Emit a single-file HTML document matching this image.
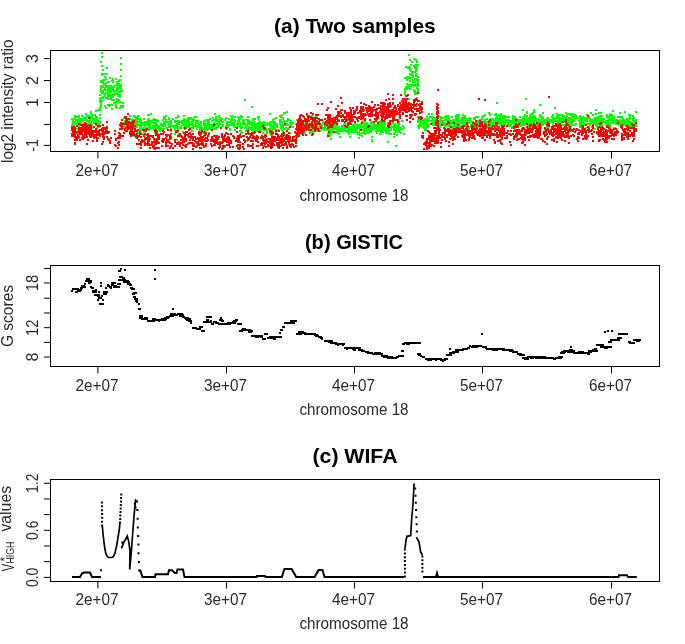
<!DOCTYPE html>
<html><head><meta charset="utf-8"><style>html,body{margin:0;padding:0;background:#fff;overflow:hidden}svg{display:block}</style></head>
<body><svg width="685" height="644" viewBox="0 0 685 644"><rect width="685" height="644" fill="#fff"/><path fill="#00ff00" d="M72 119h2v2h-2zM71 128h2v2h-2zM71 118h2v2h-2zM71 124h2v2h-2zM71 124h2v2h-2zM72 119h2v2h-2zM73 122h2v2h-2zM73 125h2v2h-2zM72 122h2v2h-2zM72 126h2v2h-2zM72 121h2v2h-2zM73 124h2v2h-2zM74 129h2v2h-2zM73 126h2v2h-2zM74 115h2v2h-2zM74 121h2v2h-2zM74 118h2v2h-2zM74 116h2v2h-2zM75 119h2v2h-2zM76 124h2v2h-2zM76 125h2v2h-2zM76 123h2v2h-2zM75 122h2v2h-2zM77 119h2v2h-2zM76 119h2v2h-2zM76 125h2v2h-2zM76 116h2v2h-2zM77 125h2v2h-2zM76 128h2v2h-2zM77 121h2v2h-2zM78 123h2v2h-2zM78 115h2v2h-2zM78 123h2v2h-2zM78 120h2v2h-2zM78 120h2v2h-2zM78 117h2v2h-2zM78 125h2v2h-2zM79 124h2v2h-2zM79 123h2v2h-2zM78 126h2v2h-2zM79 123h2v2h-2zM78 121h2v2h-2zM79 127h2v2h-2zM79 120h2v2h-2zM78 127h2v2h-2zM79 120h2v2h-2zM78 123h2v2h-2zM79 130h2v2h-2zM79 119h2v2h-2zM80 123h2v2h-2zM79 119h2v2h-2zM80 124h2v2h-2zM79 121h2v2h-2zM80 120h2v2h-2zM79 118h2v2h-2zM80 121h2v2h-2zM81 115h2v2h-2zM81 119h2v2h-2zM81 125h2v2h-2zM82 123h2v2h-2zM81 118h2v2h-2zM81 118h2v2h-2zM82 120h2v2h-2zM83 117h2v2h-2zM84 125h2v2h-2zM84 119h2v2h-2zM85 123h2v2h-2zM85 117h2v2h-2zM85 113h2v2h-2zM85 117h2v2h-2zM86 115h2v2h-2zM86 119h2v2h-2zM86 123h2v2h-2zM86 126h2v2h-2zM86 120h2v2h-2zM87 122h2v2h-2zM87 120h2v2h-2zM88 121h2v2h-2zM88 122h2v2h-2zM88 122h2v2h-2zM87 121h2v2h-2zM88 115h2v2h-2zM88 124h2v2h-2zM88 124h2v2h-2zM87 120h2v2h-2zM87 120h2v2h-2zM88 121h2v2h-2zM88 122h2v2h-2zM88 122h2v2h-2zM88 127h2v2h-2zM88 115h2v2h-2zM88 123h2v2h-2zM89 117h2v2h-2zM88 120h2v2h-2zM88 122h2v2h-2zM90 127h2v2h-2zM89 124h2v2h-2zM89 126h2v2h-2zM90 116h2v2h-2zM89 116h2v2h-2zM89 122h2v2h-2zM89 122h2v2h-2zM90 122h2v2h-2zM89 119h2v2h-2zM90 113h2v2h-2zM90 111h2v2h-2zM91 127h2v2h-2zM90 126h2v2h-2zM90 116h2v2h-2zM91 114h2v2h-2zM91 120h2v2h-2zM91 124h2v2h-2zM91 116h2v2h-2zM92 118h2v2h-2zM91 117h2v2h-2zM93 118h2v2h-2zM93 122h2v2h-2zM94 114h2v2h-2zM94 119h2v2h-2zM93 121h2v2h-2zM94 114h2v2h-2zM95 110h2v2h-2zM95 116h2v2h-2zM94 120h2v2h-2zM95 121h2v2h-2zM95 117h2v2h-2zM96 117h2v2h-2zM96 119h2v2h-2zM95 119h2v2h-2zM96 120h2v2h-2zM95 124h2v2h-2zM96 123h2v2h-2zM96 116h2v2h-2zM96 127h2v2h-2zM96 120h2v2h-2zM96 116h2v2h-2zM96 122h2v2h-2zM97 119h2v2h-2zM97 123h2v2h-2zM97 125h2v2h-2zM98 125h2v2h-2zM98 126h2v2h-2zM98 121h2v2h-2zM99 117h2v2h-2zM98 123h2v2h-2zM99 121h2v2h-2zM98 126h2v2h-2zM98 126h2v2h-2zM99 122h2v2h-2zM100 105h2v2h-2zM99 101h2v2h-2zM99 114h2v2h-2zM99 109h2v2h-2zM99 101h2v2h-2zM99 98h2v2h-2zM99 107h2v2h-2zM100 105h2v2h-2zM100 103h2v2h-2zM99 100h2v2h-2zM99 94h2v2h-2zM100 100h2v2h-2zM100 80h2v2h-2zM100 87h2v2h-2zM100 85h2v2h-2zM101 86h2v2h-2zM101 73h2v2h-2zM101 81h2v2h-2zM100 91h2v2h-2zM100 91h2v2h-2zM101 100h2v2h-2zM100 88h2v2h-2zM100 101h2v2h-2zM100 97h2v2h-2zM100 81h2v2h-2zM100 104h2v2h-2zM101 85h2v2h-2zM100 90h2v2h-2zM101 74h2v2h-2zM102 86h2v2h-2zM101 92h2v2h-2zM102 91h2v2h-2zM102 85h2v2h-2zM102 97h2v2h-2zM102 90h2v2h-2zM102 79h2v2h-2zM102 81h2v2h-2zM103 89h2v2h-2zM102 82h2v2h-2zM102 92h2v2h-2zM102 86h2v2h-2zM102 96h2v2h-2zM104 87h2v2h-2zM103 93h2v2h-2zM103 73h2v2h-2zM103 83h2v2h-2zM104 93h2v2h-2zM104 76h2v2h-2zM104 94h2v2h-2zM104 84h2v2h-2zM105 97h2v2h-2zM104 83h2v2h-2zM104 79h2v2h-2zM104 105h2v2h-2zM104 95h2v2h-2zM105 86h2v2h-2zM105 89h2v2h-2zM105 78h2v2h-2zM105 92h2v2h-2zM105 82h2v2h-2zM106 73h2v2h-2zM106 86h2v2h-2zM107 81h2v2h-2zM106 67h2v2h-2zM107 90h2v2h-2zM106 85h2v2h-2zM107 96h2v2h-2zM108 90h2v2h-2zM108 105h2v2h-2zM107 94h2v2h-2zM107 98h2v2h-2zM107 90h2v2h-2zM108 93h2v2h-2zM107 86h2v2h-2zM108 81h2v2h-2zM108 85h2v2h-2zM107 92h2v2h-2zM107 104h2v2h-2zM107 87h2v2h-2zM107 91h2v2h-2zM108 98h2v2h-2zM109 90h2v2h-2zM109 85h2v2h-2zM109 77h2v2h-2zM109 88h2v2h-2zM109 86h2v2h-2zM109 86h2v2h-2zM109 95h2v2h-2zM109 93h2v2h-2zM109 93h2v2h-2zM108 88h2v2h-2zM109 86h2v2h-2zM110 91h2v2h-2zM110 85h2v2h-2zM110 88h2v2h-2zM110 97h2v2h-2zM110 87h2v2h-2zM109 85h2v2h-2zM109 88h2v2h-2zM109 98h2v2h-2zM109 104h2v2h-2zM110 95h2v2h-2zM111 86h2v2h-2zM111 88h2v2h-2zM110 86h2v2h-2zM111 99h2v2h-2zM110 86h2v2h-2zM110 88h2v2h-2zM111 89h2v2h-2zM111 87h2v2h-2zM110 91h2v2h-2zM111 89h2v2h-2zM112 96h2v2h-2zM111 94h2v2h-2zM112 89h2v2h-2zM112 94h2v2h-2zM111 94h2v2h-2zM111 99h2v2h-2zM111 80h2v2h-2zM111 108h2v2h-2zM112 81h2v2h-2zM112 79h2v2h-2zM112 88h2v2h-2zM113 99h2v2h-2zM112 78h2v2h-2zM113 102h2v2h-2zM113 86h2v2h-2zM113 93h2v2h-2zM113 99h2v2h-2zM112 93h2v2h-2zM114 91h2v2h-2zM114 93h2v2h-2zM114 102h2v2h-2zM113 94h2v2h-2zM113 90h2v2h-2zM114 85h2v2h-2zM114 85h2v2h-2zM115 78h2v2h-2zM114 85h2v2h-2zM115 104h2v2h-2zM116 81h2v2h-2zM115 104h2v2h-2zM116 89h2v2h-2zM116 87h2v2h-2zM115 101h2v2h-2zM116 93h2v2h-2zM115 90h2v2h-2zM116 83h2v2h-2zM116 98h2v2h-2zM116 84h2v2h-2zM117 95h2v2h-2zM116 98h2v2h-2zM116 90h2v2h-2zM116 107h2v2h-2zM117 88h2v2h-2zM116 99h2v2h-2zM116 83h2v2h-2zM117 101h2v2h-2zM117 94h2v2h-2zM118 99h2v2h-2zM118 83h2v2h-2zM118 85h2v2h-2zM117 100h2v2h-2zM117 85h2v2h-2zM118 86h2v2h-2zM118 80h2v2h-2zM117 91h2v2h-2zM118 85h2v2h-2zM118 85h2v2h-2zM119 96h2v2h-2zM118 80h2v2h-2zM119 107h2v2h-2zM119 91h2v2h-2zM119 95h2v2h-2zM119 94h2v2h-2zM120 105h2v2h-2zM119 79h2v2h-2zM119 85h2v2h-2zM120 88h2v2h-2zM120 90h2v2h-2zM120 85h2v2h-2zM120 84h2v2h-2zM121 90h2v2h-2zM120 101h2v2h-2zM120 87h2v2h-2zM120 88h2v2h-2zM122 105h2v2h-2zM122 102h2v2h-2zM121 106h2v2h-2zM122 106h2v2h-2zM123 126h2v2h-2zM122 122h2v2h-2zM123 122h2v2h-2zM123 124h2v2h-2zM123 127h2v2h-2zM123 124h2v2h-2zM123 122h2v2h-2zM123 117h2v2h-2zM123 125h2v2h-2zM124 123h2v2h-2zM124 120h2v2h-2zM123 127h2v2h-2zM125 126h2v2h-2zM126 122h2v2h-2zM125 126h2v2h-2zM125 118h2v2h-2zM126 122h2v2h-2zM125 122h2v2h-2zM125 128h2v2h-2zM127 125h2v2h-2zM126 125h2v2h-2zM126 121h2v2h-2zM126 123h2v2h-2zM126 118h2v2h-2zM127 123h2v2h-2zM127 120h2v2h-2zM128 124h2v2h-2zM129 118h2v2h-2zM129 115h2v2h-2zM130 121h2v2h-2zM130 123h2v2h-2zM131 119h2v2h-2zM131 122h2v2h-2zM131 124h2v2h-2zM132 120h2v2h-2zM132 119h2v2h-2zM131 122h2v2h-2zM132 122h2v2h-2zM133 124h2v2h-2zM133 115h2v2h-2zM132 123h2v2h-2zM132 125h2v2h-2zM133 135h2v2h-2zM133 127h2v2h-2zM132 126h2v2h-2zM133 119h2v2h-2zM134 120h2v2h-2zM133 121h2v2h-2zM134 123h2v2h-2zM133 122h2v2h-2zM134 128h2v2h-2zM133 124h2v2h-2zM133 127h2v2h-2zM134 124h2v2h-2zM135 118h2v2h-2zM134 121h2v2h-2zM135 124h2v2h-2zM134 127h2v2h-2zM135 124h2v2h-2zM135 124h2v2h-2zM135 120h2v2h-2zM135 121h2v2h-2zM134 116h2v2h-2zM134 120h2v2h-2zM134 121h2v2h-2zM135 124h2v2h-2zM136 125h2v2h-2zM136 126h2v2h-2zM136 122h2v2h-2zM135 121h2v2h-2zM135 121h2v2h-2zM135 123h2v2h-2zM136 131h2v2h-2zM136 121h2v2h-2zM136 120h2v2h-2zM136 116h2v2h-2zM136 118h2v2h-2zM137 115h2v2h-2zM137 115h2v2h-2zM136 124h2v2h-2zM136 122h2v2h-2zM137 124h2v2h-2zM137 118h2v2h-2zM138 118h2v2h-2zM138 121h2v2h-2zM138 132h2v2h-2zM139 127h2v2h-2zM139 133h2v2h-2zM139 126h2v2h-2zM139 128h2v2h-2zM139 129h2v2h-2zM138 124h2v2h-2zM140 125h2v2h-2zM140 122h2v2h-2zM139 125h2v2h-2zM139 118h2v2h-2zM140 122h2v2h-2zM140 121h2v2h-2zM139 120h2v2h-2zM140 119h2v2h-2zM141 124h2v2h-2zM140 123h2v2h-2zM141 133h2v2h-2zM142 127h2v2h-2zM141 128h2v2h-2zM142 122h2v2h-2zM143 128h2v2h-2zM143 122h2v2h-2zM143 127h2v2h-2zM142 127h2v2h-2zM143 118h2v2h-2zM143 124h2v2h-2zM143 131h2v2h-2zM143 130h2v2h-2zM144 125h2v2h-2zM144 124h2v2h-2zM144 121h2v2h-2zM145 124h2v2h-2zM145 128h2v2h-2zM146 121h2v2h-2zM146 123h2v2h-2zM146 124h2v2h-2zM146 121h2v2h-2zM146 127h2v2h-2zM146 128h2v2h-2zM146 121h2v2h-2zM146 128h2v2h-2zM147 128h2v2h-2zM147 127h2v2h-2zM147 114h2v2h-2zM147 123h2v2h-2zM148 121h2v2h-2zM148 118h2v2h-2zM147 127h2v2h-2zM147 119h2v2h-2zM148 123h2v2h-2zM147 128h2v2h-2zM148 125h2v2h-2zM148 129h2v2h-2zM149 128h2v2h-2zM149 125h2v2h-2zM148 114h2v2h-2zM148 125h2v2h-2zM149 122h2v2h-2zM148 129h2v2h-2zM149 120h2v2h-2zM148 121h2v2h-2zM148 124h2v2h-2zM148 120h2v2h-2zM150 113h2v2h-2zM149 126h2v2h-2zM150 122h2v2h-2zM149 126h2v2h-2zM150 127h2v2h-2zM149 123h2v2h-2zM151 120h2v2h-2zM150 120h2v2h-2zM151 121h2v2h-2zM152 125h2v2h-2zM152 127h2v2h-2zM153 129h2v2h-2zM153 128h2v2h-2zM153 122h2v2h-2zM152 119h2v2h-2zM154 132h2v2h-2zM154 124h2v2h-2zM153 128h2v2h-2zM153 126h2v2h-2zM153 119h2v2h-2zM153 125h2v2h-2zM153 122h2v2h-2zM153 118h2v2h-2zM155 119h2v2h-2zM155 121h2v2h-2zM155 127h2v2h-2zM155 129h2v2h-2zM154 122h2v2h-2zM154 127h2v2h-2zM154 125h2v2h-2zM154 119h2v2h-2zM155 124h2v2h-2zM156 127h2v2h-2zM155 119h2v2h-2zM156 124h2v2h-2zM156 124h2v2h-2zM155 122h2v2h-2zM155 126h2v2h-2zM155 125h2v2h-2zM156 125h2v2h-2zM156 119h2v2h-2zM156 132h2v2h-2zM155 126h2v2h-2zM156 126h2v2h-2zM156 130h2v2h-2zM156 124h2v2h-2zM156 125h2v2h-2zM157 138h2v2h-2zM156 124h2v2h-2zM157 125h2v2h-2zM157 125h2v2h-2zM158 127h2v2h-2zM158 129h2v2h-2zM157 120h2v2h-2zM157 125h2v2h-2zM157 125h2v2h-2zM157 133h2v2h-2zM159 127h2v2h-2zM158 125h2v2h-2zM159 130h2v2h-2zM160 124h2v2h-2zM160 128h2v2h-2zM160 124h2v2h-2zM160 128h2v2h-2zM160 123h2v2h-2zM161 124h2v2h-2zM161 128h2v2h-2zM161 125h2v2h-2zM162 124h2v2h-2zM163 116h2v2h-2zM163 125h2v2h-2zM162 124h2v2h-2zM162 123h2v2h-2zM162 119h2v2h-2zM163 121h2v2h-2zM163 123h2v2h-2zM163 124h2v2h-2zM164 125h2v2h-2zM163 128h2v2h-2zM163 118h2v2h-2zM164 122h2v2h-2zM164 121h2v2h-2zM164 118h2v2h-2zM164 117h2v2h-2zM165 119h2v2h-2zM165 115h2v2h-2zM166 121h2v2h-2zM166 127h2v2h-2zM168 126h2v2h-2zM168 117h2v2h-2zM168 123h2v2h-2zM167 121h2v2h-2zM168 124h2v2h-2zM169 126h2v2h-2zM169 123h2v2h-2zM168 118h2v2h-2zM170 122h2v2h-2zM170 120h2v2h-2zM170 121h2v2h-2zM169 120h2v2h-2zM170 121h2v2h-2zM170 130h2v2h-2zM170 124h2v2h-2zM169 124h2v2h-2zM170 128h2v2h-2zM171 125h2v2h-2zM170 121h2v2h-2zM171 125h2v2h-2zM172 118h2v2h-2zM174 120h2v2h-2zM174 133h2v2h-2zM174 129h2v2h-2zM173 126h2v2h-2zM173 125h2v2h-2zM174 128h2v2h-2zM175 124h2v2h-2zM174 125h2v2h-2zM174 121h2v2h-2zM174 127h2v2h-2zM174 125h2v2h-2zM175 127h2v2h-2zM174 125h2v2h-2zM175 126h2v2h-2zM175 117h2v2h-2zM175 117h2v2h-2zM176 123h2v2h-2zM176 124h2v2h-2zM176 131h2v2h-2zM176 120h2v2h-2zM176 139h2v2h-2zM177 126h2v2h-2zM177 115h2v2h-2zM177 128h2v2h-2zM177 122h2v2h-2zM177 116h2v2h-2zM178 122h2v2h-2zM178 123h2v2h-2zM178 120h2v2h-2zM178 133h2v2h-2zM180 125h2v2h-2zM180 127h2v2h-2zM180 121h2v2h-2zM181 122h2v2h-2zM181 121h2v2h-2zM181 120h2v2h-2zM182 120h2v2h-2zM182 124h2v2h-2zM183 122h2v2h-2zM182 122h2v2h-2zM182 120h2v2h-2zM183 115h2v2h-2zM182 121h2v2h-2zM183 127h2v2h-2zM182 131h2v2h-2zM184 125h2v2h-2zM183 118h2v2h-2zM184 128h2v2h-2zM184 120h2v2h-2zM185 125h2v2h-2zM184 123h2v2h-2zM185 122h2v2h-2zM186 124h2v2h-2zM185 127h2v2h-2zM185 122h2v2h-2zM185 126h2v2h-2zM185 119h2v2h-2zM185 126h2v2h-2zM186 124h2v2h-2zM185 120h2v2h-2zM186 125h2v2h-2zM187 135h2v2h-2zM187 121h2v2h-2zM187 126h2v2h-2zM186 125h2v2h-2zM187 117h2v2h-2zM187 119h2v2h-2zM187 121h2v2h-2zM188 125h2v2h-2zM187 119h2v2h-2zM187 126h2v2h-2zM188 122h2v2h-2zM188 124h2v2h-2zM188 126h2v2h-2zM189 124h2v2h-2zM188 121h2v2h-2zM189 118h2v2h-2zM189 117h2v2h-2zM190 117h2v2h-2zM191 130h2v2h-2zM191 121h2v2h-2zM190 118h2v2h-2zM190 122h2v2h-2zM190 124h2v2h-2zM190 117h2v2h-2zM190 127h2v2h-2zM191 124h2v2h-2zM192 125h2v2h-2zM192 122h2v2h-2zM191 123h2v2h-2zM191 118h2v2h-2zM192 126h2v2h-2zM192 118h2v2h-2zM192 126h2v2h-2zM193 116h2v2h-2zM192 127h2v2h-2zM192 120h2v2h-2zM194 125h2v2h-2zM194 125h2v2h-2zM195 116h2v2h-2zM194 124h2v2h-2zM194 119h2v2h-2zM196 128h2v2h-2zM195 122h2v2h-2zM195 120h2v2h-2zM196 125h2v2h-2zM196 126h2v2h-2zM196 120h2v2h-2zM197 120h2v2h-2zM198 126h2v2h-2zM197 122h2v2h-2zM198 131h2v2h-2zM198 123h2v2h-2zM197 125h2v2h-2zM199 129h2v2h-2zM199 131h2v2h-2zM200 122h2v2h-2zM199 123h2v2h-2zM200 126h2v2h-2zM200 125h2v2h-2zM199 130h2v2h-2zM199 128h2v2h-2zM199 125h2v2h-2zM200 129h2v2h-2zM200 121h2v2h-2zM200 129h2v2h-2zM201 130h2v2h-2zM201 127h2v2h-2zM201 128h2v2h-2zM201 129h2v2h-2zM203 132h2v2h-2zM203 123h2v2h-2zM203 124h2v2h-2zM202 132h2v2h-2zM203 121h2v2h-2zM202 127h2v2h-2zM203 128h2v2h-2zM203 122h2v2h-2zM203 121h2v2h-2zM203 120h2v2h-2zM203 122h2v2h-2zM204 130h2v2h-2zM204 124h2v2h-2zM204 124h2v2h-2zM205 128h2v2h-2zM204 132h2v2h-2zM204 126h2v2h-2zM204 127h2v2h-2zM204 122h2v2h-2zM206 124h2v2h-2zM206 123h2v2h-2zM205 125h2v2h-2zM205 123h2v2h-2zM206 126h2v2h-2zM205 125h2v2h-2zM206 125h2v2h-2zM205 132h2v2h-2zM206 128h2v2h-2zM205 119h2v2h-2zM206 129h2v2h-2zM206 120h2v2h-2zM206 119h2v2h-2zM207 121h2v2h-2zM207 122h2v2h-2zM206 123h2v2h-2zM207 120h2v2h-2zM207 128h2v2h-2zM208 119h2v2h-2zM208 124h2v2h-2zM207 122h2v2h-2zM207 124h2v2h-2zM207 119h2v2h-2zM209 125h2v2h-2zM208 127h2v2h-2zM208 123h2v2h-2zM209 125h2v2h-2zM208 132h2v2h-2zM208 120h2v2h-2zM208 126h2v2h-2zM209 128h2v2h-2zM208 120h2v2h-2zM208 122h2v2h-2zM208 127h2v2h-2zM210 124h2v2h-2zM209 126h2v2h-2zM209 118h2v2h-2zM211 129h2v2h-2zM210 126h2v2h-2zM211 125h2v2h-2zM212 124h2v2h-2zM211 120h2v2h-2zM212 126h2v2h-2zM213 126h2v2h-2zM212 128h2v2h-2zM213 124h2v2h-2zM212 117h2v2h-2zM213 119h2v2h-2zM213 128h2v2h-2zM214 113h2v2h-2zM213 122h2v2h-2zM214 124h2v2h-2zM215 120h2v2h-2zM215 116h2v2h-2zM215 127h2v2h-2zM215 128h2v2h-2zM215 118h2v2h-2zM216 126h2v2h-2zM215 120h2v2h-2zM216 126h2v2h-2zM217 120h2v2h-2zM216 123h2v2h-2zM216 123h2v2h-2zM217 124h2v2h-2zM217 122h2v2h-2zM218 115h2v2h-2zM218 122h2v2h-2zM218 121h2v2h-2zM217 119h2v2h-2zM218 116h2v2h-2zM217 126h2v2h-2zM219 117h2v2h-2zM219 119h2v2h-2zM219 123h2v2h-2zM220 120h2v2h-2zM221 121h2v2h-2zM222 125h2v2h-2zM222 124h2v2h-2zM221 118h2v2h-2zM222 121h2v2h-2zM224 119h2v2h-2zM224 119h2v2h-2zM225 117h2v2h-2zM225 125h2v2h-2zM226 124h2v2h-2zM226 121h2v2h-2zM226 128h2v2h-2zM226 123h2v2h-2zM226 128h2v2h-2zM227 126h2v2h-2zM227 125h2v2h-2zM228 121h2v2h-2zM228 124h2v2h-2zM228 121h2v2h-2zM228 118h2v2h-2zM229 129h2v2h-2zM229 128h2v2h-2zM228 121h2v2h-2zM229 124h2v2h-2zM229 124h2v2h-2zM230 119h2v2h-2zM230 115h2v2h-2zM230 119h2v2h-2zM230 121h2v2h-2zM230 121h2v2h-2zM231 124h2v2h-2zM231 117h2v2h-2zM232 119h2v2h-2zM231 122h2v2h-2zM231 115h2v2h-2zM231 123h2v2h-2zM233 126h2v2h-2zM233 119h2v2h-2zM233 123h2v2h-2zM234 116h2v2h-2zM233 124h2v2h-2zM234 129h2v2h-2zM234 121h2v2h-2zM234 120h2v2h-2zM235 126h2v2h-2zM236 123h2v2h-2zM237 116h2v2h-2zM237 122h2v2h-2zM237 120h2v2h-2zM237 122h2v2h-2zM238 121h2v2h-2zM238 118h2v2h-2zM238 120h2v2h-2zM237 124h2v2h-2zM239 118h2v2h-2zM238 125h2v2h-2zM238 122h2v2h-2zM239 130h2v2h-2zM240 130h2v2h-2zM240 115h2v2h-2zM240 132h2v2h-2zM239 117h2v2h-2zM240 123h2v2h-2zM240 127h2v2h-2zM239 125h2v2h-2zM240 130h2v2h-2zM239 122h2v2h-2zM240 115h2v2h-2zM240 126h2v2h-2zM240 130h2v2h-2zM242 122h2v2h-2zM242 123h2v2h-2zM241 126h2v2h-2zM241 132h2v2h-2zM241 116h2v2h-2zM242 120h2v2h-2zM243 119h2v2h-2zM243 122h2v2h-2zM244 122h2v2h-2zM243 120h2v2h-2zM244 122h2v2h-2zM244 127h2v2h-2zM245 124h2v2h-2zM245 126h2v2h-2zM244 122h2v2h-2zM244 124h2v2h-2zM245 127h2v2h-2zM246 123h2v2h-2zM246 123h2v2h-2zM246 124h2v2h-2zM246 119h2v2h-2zM245 130h2v2h-2zM247 120h2v2h-2zM246 140h2v2h-2zM247 116h2v2h-2zM247 121h2v2h-2zM247 130h2v2h-2zM246 128h2v2h-2zM247 119h2v2h-2zM247 129h2v2h-2zM248 129h2v2h-2zM248 122h2v2h-2zM247 121h2v2h-2zM247 133h2v2h-2zM247 123h2v2h-2zM248 120h2v2h-2zM249 127h2v2h-2zM249 127h2v2h-2zM248 127h2v2h-2zM249 123h2v2h-2zM248 126h2v2h-2zM250 121h2v2h-2zM250 128h2v2h-2zM252 127h2v2h-2zM251 122h2v2h-2zM251 123h2v2h-2zM252 130h2v2h-2zM251 125h2v2h-2zM252 122h2v2h-2zM251 129h2v2h-2zM252 127h2v2h-2zM252 124h2v2h-2zM251 133h2v2h-2zM252 124h2v2h-2zM251 127h2v2h-2zM251 129h2v2h-2zM252 125h2v2h-2zM251 129h2v2h-2zM252 127h2v2h-2zM253 129h2v2h-2zM253 128h2v2h-2zM252 118h2v2h-2zM253 121h2v2h-2zM253 131h2v2h-2zM252 130h2v2h-2zM253 127h2v2h-2zM252 119h2v2h-2zM252 126h2v2h-2zM254 126h2v2h-2zM253 121h2v2h-2zM254 127h2v2h-2zM254 130h2v2h-2zM253 126h2v2h-2zM254 124h2v2h-2zM253 124h2v2h-2zM254 122h2v2h-2zM253 125h2v2h-2zM254 118h2v2h-2zM253 121h2v2h-2zM253 122h2v2h-2zM253 129h2v2h-2zM254 128h2v2h-2zM253 124h2v2h-2zM255 123h2v2h-2zM255 124h2v2h-2zM255 127h2v2h-2zM256 130h2v2h-2zM255 125h2v2h-2zM255 136h2v2h-2zM255 130h2v2h-2zM256 124h2v2h-2zM257 122h2v2h-2zM257 128h2v2h-2zM257 125h2v2h-2zM256 126h2v2h-2zM257 117h2v2h-2zM257 124h2v2h-2zM258 124h2v2h-2zM257 125h2v2h-2zM257 122h2v2h-2zM258 129h2v2h-2zM258 129h2v2h-2zM258 126h2v2h-2zM257 116h2v2h-2zM257 127h2v2h-2zM258 131h2v2h-2zM258 116h2v2h-2zM257 122h2v2h-2zM259 126h2v2h-2zM259 121h2v2h-2zM258 130h2v2h-2zM258 130h2v2h-2zM258 129h2v2h-2zM259 122h2v2h-2zM258 123h2v2h-2zM258 122h2v2h-2zM258 127h2v2h-2zM258 119h2v2h-2zM259 129h2v2h-2zM259 127h2v2h-2zM259 124h2v2h-2zM259 126h2v2h-2zM259 129h2v2h-2zM260 127h2v2h-2zM260 125h2v2h-2zM260 129h2v2h-2zM260 130h2v2h-2zM260 136h2v2h-2zM260 128h2v2h-2zM260 129h2v2h-2zM261 122h2v2h-2zM260 127h2v2h-2zM261 128h2v2h-2zM261 127h2v2h-2zM261 123h2v2h-2zM261 127h2v2h-2zM262 132h2v2h-2zM263 126h2v2h-2zM263 123h2v2h-2zM262 125h2v2h-2zM262 122h2v2h-2zM263 125h2v2h-2zM263 126h2v2h-2zM264 128h2v2h-2zM263 121h2v2h-2zM263 121h2v2h-2zM263 129h2v2h-2zM264 123h2v2h-2zM265 134h2v2h-2zM264 122h2v2h-2zM265 128h2v2h-2zM264 122h2v2h-2zM265 123h2v2h-2zM264 126h2v2h-2zM265 124h2v2h-2zM265 123h2v2h-2zM266 130h2v2h-2zM266 123h2v2h-2zM266 123h2v2h-2zM266 124h2v2h-2zM266 132h2v2h-2zM266 129h2v2h-2zM266 124h2v2h-2zM267 122h2v2h-2zM268 123h2v2h-2zM268 128h2v2h-2zM269 130h2v2h-2zM269 128h2v2h-2zM270 134h2v2h-2zM270 132h2v2h-2zM270 127h2v2h-2zM269 124h2v2h-2zM269 132h2v2h-2zM270 128h2v2h-2zM270 124h2v2h-2zM270 121h2v2h-2zM269 113h2v2h-2zM269 125h2v2h-2zM270 126h2v2h-2zM270 126h2v2h-2zM269 123h2v2h-2zM269 122h2v2h-2zM271 134h2v2h-2zM271 129h2v2h-2zM270 126h2v2h-2zM270 130h2v2h-2zM272 131h2v2h-2zM272 126h2v2h-2zM272 122h2v2h-2zM272 132h2v2h-2zM272 132h2v2h-2zM271 133h2v2h-2zM272 127h2v2h-2zM271 128h2v2h-2zM272 125h2v2h-2zM273 123h2v2h-2zM273 121h2v2h-2zM272 119h2v2h-2zM272 120h2v2h-2zM273 123h2v2h-2zM273 128h2v2h-2zM274 124h2v2h-2zM273 125h2v2h-2zM273 127h2v2h-2zM273 118h2v2h-2zM274 121h2v2h-2zM274 127h2v2h-2zM274 124h2v2h-2zM275 131h2v2h-2zM275 117h2v2h-2zM275 123h2v2h-2zM275 129h2v2h-2zM276 124h2v2h-2zM276 123h2v2h-2zM276 126h2v2h-2zM276 126h2v2h-2zM277 129h2v2h-2zM279 119h2v2h-2zM280 126h2v2h-2zM279 121h2v2h-2zM279 123h2v2h-2zM279 115h2v2h-2zM280 127h2v2h-2zM280 124h2v2h-2zM279 119h2v2h-2zM280 120h2v2h-2zM280 116h2v2h-2zM281 121h2v2h-2zM281 129h2v2h-2zM281 114h2v2h-2zM282 118h2v2h-2zM281 124h2v2h-2zM282 124h2v2h-2zM282 131h2v2h-2zM282 123h2v2h-2zM282 128h2v2h-2zM283 112h2v2h-2zM282 117h2v2h-2zM282 126h2v2h-2zM284 128h2v2h-2zM284 123h2v2h-2zM283 123h2v2h-2zM283 120h2v2h-2zM284 122h2v2h-2zM285 127h2v2h-2zM284 124h2v2h-2zM284 123h2v2h-2zM285 124h2v2h-2zM286 120h2v2h-2zM286 123h2v2h-2zM286 124h2v2h-2zM287 124h2v2h-2zM287 118h2v2h-2zM287 128h2v2h-2zM287 124h2v2h-2zM288 127h2v2h-2zM287 119h2v2h-2zM288 119h2v2h-2zM288 127h2v2h-2zM289 122h2v2h-2zM288 127h2v2h-2zM289 132h2v2h-2zM290 120h2v2h-2zM290 124h2v2h-2zM291 123h2v2h-2zM290 125h2v2h-2zM291 122h2v2h-2zM292 122h2v2h-2zM292 126h2v2h-2zM292 126h2v2h-2zM295 123h2v2h-2zM296 119h2v2h-2zM298 133h2v2h-2zM297 124h2v2h-2zM299 121h2v2h-2zM299 128h2v2h-2zM298 132h2v2h-2zM298 128h2v2h-2zM299 127h2v2h-2zM299 127h2v2h-2zM298 126h2v2h-2zM300 126h2v2h-2zM300 122h2v2h-2zM299 124h2v2h-2zM299 121h2v2h-2zM300 127h2v2h-2zM300 127h2v2h-2zM299 130h2v2h-2zM300 128h2v2h-2zM300 124h2v2h-2zM300 121h2v2h-2zM300 127h2v2h-2zM299 128h2v2h-2zM299 131h2v2h-2zM300 129h2v2h-2zM300 129h2v2h-2zM301 131h2v2h-2zM301 129h2v2h-2zM301 133h2v2h-2zM301 130h2v2h-2zM301 127h2v2h-2zM300 129h2v2h-2zM300 132h2v2h-2zM300 133h2v2h-2zM301 129h2v2h-2zM301 124h2v2h-2zM302 128h2v2h-2zM302 126h2v2h-2zM302 120h2v2h-2zM301 122h2v2h-2zM302 126h2v2h-2zM302 131h2v2h-2zM302 126h2v2h-2zM302 124h2v2h-2zM301 126h2v2h-2zM301 128h2v2h-2zM302 124h2v2h-2zM301 129h2v2h-2zM303 127h2v2h-2zM302 133h2v2h-2zM302 126h2v2h-2zM304 132h2v2h-2zM304 123h2v2h-2zM306 115h2v2h-2zM305 125h2v2h-2zM306 128h2v2h-2zM306 128h2v2h-2zM307 127h2v2h-2zM307 126h2v2h-2zM306 120h2v2h-2zM307 126h2v2h-2zM308 126h2v2h-2zM307 128h2v2h-2zM308 124h2v2h-2zM307 123h2v2h-2zM309 132h2v2h-2zM309 131h2v2h-2zM309 126h2v2h-2zM309 126h2v2h-2zM309 128h2v2h-2zM309 130h2v2h-2zM310 128h2v2h-2zM310 131h2v2h-2zM309 128h2v2h-2zM310 126h2v2h-2zM311 131h2v2h-2zM311 126h2v2h-2zM310 123h2v2h-2zM311 127h2v2h-2zM311 129h2v2h-2zM311 125h2v2h-2zM311 128h2v2h-2zM310 126h2v2h-2zM311 121h2v2h-2zM310 125h2v2h-2zM310 131h2v2h-2zM312 125h2v2h-2zM312 131h2v2h-2zM311 129h2v2h-2zM311 115h2v2h-2zM312 127h2v2h-2zM311 127h2v2h-2zM312 125h2v2h-2zM313 129h2v2h-2zM313 128h2v2h-2zM312 129h2v2h-2zM313 125h2v2h-2zM313 129h2v2h-2zM313 124h2v2h-2zM313 127h2v2h-2zM313 125h2v2h-2zM313 127h2v2h-2zM314 121h2v2h-2zM314 119h2v2h-2zM315 122h2v2h-2zM314 127h2v2h-2zM315 117h2v2h-2zM315 121h2v2h-2zM314 123h2v2h-2zM315 117h2v2h-2zM315 126h2v2h-2zM315 124h2v2h-2zM315 115h2v2h-2zM316 127h2v2h-2zM316 126h2v2h-2zM316 122h2v2h-2zM316 123h2v2h-2zM316 130h2v2h-2zM317 121h2v2h-2zM317 127h2v2h-2zM318 127h2v2h-2zM317 123h2v2h-2zM317 130h2v2h-2zM318 126h2v2h-2zM318 126h2v2h-2zM319 124h2v2h-2zM318 122h2v2h-2zM318 128h2v2h-2zM319 130h2v2h-2zM319 124h2v2h-2zM319 126h2v2h-2zM321 127h2v2h-2zM320 124h2v2h-2zM322 128h2v2h-2zM321 124h2v2h-2zM322 128h2v2h-2zM322 127h2v2h-2zM321 128h2v2h-2zM322 127h2v2h-2zM322 122h2v2h-2zM322 121h2v2h-2zM324 126h2v2h-2zM323 129h2v2h-2zM324 128h2v2h-2zM324 125h2v2h-2zM325 128h2v2h-2zM326 125h2v2h-2zM326 128h2v2h-2zM327 126h2v2h-2zM326 120h2v2h-2zM327 123h2v2h-2zM327 125h2v2h-2zM326 128h2v2h-2zM327 125h2v2h-2zM326 123h2v2h-2zM327 133h2v2h-2zM326 129h2v2h-2zM327 123h2v2h-2zM328 128h2v2h-2zM328 133h2v2h-2zM328 125h2v2h-2zM327 129h2v2h-2zM328 125h2v2h-2zM327 127h2v2h-2zM327 129h2v2h-2zM329 124h2v2h-2zM328 126h2v2h-2zM328 128h2v2h-2zM329 120h2v2h-2zM329 124h2v2h-2zM329 134h2v2h-2zM328 127h2v2h-2zM329 129h2v2h-2zM330 121h2v2h-2zM329 132h2v2h-2zM329 130h2v2h-2zM329 124h2v2h-2zM330 127h2v2h-2zM329 125h2v2h-2zM329 126h2v2h-2zM330 122h2v2h-2zM329 135h2v2h-2zM329 130h2v2h-2zM330 132h2v2h-2zM330 121h2v2h-2zM330 125h2v2h-2zM331 121h2v2h-2zM330 138h2v2h-2zM331 128h2v2h-2zM331 127h2v2h-2zM331 130h2v2h-2zM330 126h2v2h-2zM330 129h2v2h-2zM331 130h2v2h-2zM331 129h2v2h-2zM331 127h2v2h-2zM330 124h2v2h-2zM332 125h2v2h-2zM331 132h2v2h-2zM332 127h2v2h-2zM332 126h2v2h-2zM331 124h2v2h-2zM331 131h2v2h-2zM332 131h2v2h-2zM332 122h2v2h-2zM332 125h2v2h-2zM333 128h2v2h-2zM333 127h2v2h-2zM333 127h2v2h-2zM332 124h2v2h-2zM333 131h2v2h-2zM334 128h2v2h-2zM335 126h2v2h-2zM334 125h2v2h-2zM335 132h2v2h-2zM335 131h2v2h-2zM334 121h2v2h-2zM334 127h2v2h-2zM334 123h2v2h-2zM336 130h2v2h-2zM336 132h2v2h-2zM336 121h2v2h-2zM336 127h2v2h-2zM335 128h2v2h-2zM336 122h2v2h-2zM337 131h2v2h-2zM336 126h2v2h-2zM336 128h2v2h-2zM337 128h2v2h-2zM336 126h2v2h-2zM336 125h2v2h-2zM337 126h2v2h-2zM338 129h2v2h-2zM338 130h2v2h-2zM337 127h2v2h-2zM338 127h2v2h-2zM338 133h2v2h-2zM338 126h2v2h-2zM339 130h2v2h-2zM339 136h2v2h-2zM339 128h2v2h-2zM340 129h2v2h-2zM340 129h2v2h-2zM340 130h2v2h-2zM341 127h2v2h-2zM341 130h2v2h-2zM341 130h2v2h-2zM341 120h2v2h-2zM342 128h2v2h-2zM342 127h2v2h-2zM342 126h2v2h-2zM341 125h2v2h-2zM343 127h2v2h-2zM343 124h2v2h-2zM343 130h2v2h-2zM344 125h2v2h-2zM344 122h2v2h-2zM344 123h2v2h-2zM344 128h2v2h-2zM345 130h2v2h-2zM345 126h2v2h-2zM345 118h2v2h-2zM345 124h2v2h-2zM346 131h2v2h-2zM345 127h2v2h-2zM347 124h2v2h-2zM347 124h2v2h-2zM347 126h2v2h-2zM348 127h2v2h-2zM347 128h2v2h-2zM347 125h2v2h-2zM347 129h2v2h-2zM349 136h2v2h-2zM349 126h2v2h-2zM348 119h2v2h-2zM348 127h2v2h-2zM348 123h2v2h-2zM349 130h2v2h-2zM348 126h2v2h-2zM348 131h2v2h-2zM349 128h2v2h-2zM348 133h2v2h-2zM350 120h2v2h-2zM350 123h2v2h-2zM350 129h2v2h-2zM349 131h2v2h-2zM349 126h2v2h-2zM350 131h2v2h-2zM349 130h2v2h-2zM350 129h2v2h-2zM350 126h2v2h-2zM350 128h2v2h-2zM350 128h2v2h-2zM351 128h2v2h-2zM352 127h2v2h-2zM351 130h2v2h-2zM352 127h2v2h-2zM352 127h2v2h-2zM352 130h2v2h-2zM352 126h2v2h-2zM352 131h2v2h-2zM352 130h2v2h-2zM352 128h2v2h-2zM353 125h2v2h-2zM352 124h2v2h-2zM353 131h2v2h-2zM353 125h2v2h-2zM354 123h2v2h-2zM354 124h2v2h-2zM354 124h2v2h-2zM354 130h2v2h-2zM354 130h2v2h-2zM355 124h2v2h-2zM354 126h2v2h-2zM354 128h2v2h-2zM355 124h2v2h-2zM355 127h2v2h-2zM355 131h2v2h-2zM356 126h2v2h-2zM356 127h2v2h-2zM355 125h2v2h-2zM355 125h2v2h-2zM355 125h2v2h-2zM357 126h2v2h-2zM357 132h2v2h-2zM356 126h2v2h-2zM356 129h2v2h-2zM356 127h2v2h-2zM357 124h2v2h-2zM358 131h2v2h-2zM358 127h2v2h-2zM358 124h2v2h-2zM357 133h2v2h-2zM357 127h2v2h-2zM357 132h2v2h-2zM359 125h2v2h-2zM358 137h2v2h-2zM359 124h2v2h-2zM359 134h2v2h-2zM360 129h2v2h-2zM360 127h2v2h-2zM359 133h2v2h-2zM360 128h2v2h-2zM359 129h2v2h-2zM360 127h2v2h-2zM360 125h2v2h-2zM360 127h2v2h-2zM360 127h2v2h-2zM360 123h2v2h-2zM361 135h2v2h-2zM362 119h2v2h-2zM361 121h2v2h-2zM361 132h2v2h-2zM362 125h2v2h-2zM362 125h2v2h-2zM362 129h2v2h-2zM362 126h2v2h-2zM363 126h2v2h-2zM363 129h2v2h-2zM363 128h2v2h-2zM363 130h2v2h-2zM364 121h2v2h-2zM363 119h2v2h-2zM363 123h2v2h-2zM364 133h2v2h-2zM363 132h2v2h-2zM363 130h2v2h-2zM364 127h2v2h-2zM364 129h2v2h-2zM364 130h2v2h-2zM364 130h2v2h-2zM364 129h2v2h-2zM364 121h2v2h-2zM363 132h2v2h-2zM364 126h2v2h-2zM364 129h2v2h-2zM364 127h2v2h-2zM365 131h2v2h-2zM365 127h2v2h-2zM365 131h2v2h-2zM365 128h2v2h-2zM364 123h2v2h-2zM364 125h2v2h-2zM364 133h2v2h-2zM365 125h2v2h-2zM364 122h2v2h-2zM366 123h2v2h-2zM365 128h2v2h-2zM365 132h2v2h-2zM366 126h2v2h-2zM366 125h2v2h-2zM366 132h2v2h-2zM367 125h2v2h-2zM366 126h2v2h-2zM367 124h2v2h-2zM366 122h2v2h-2zM366 128h2v2h-2zM366 126h2v2h-2zM368 125h2v2h-2zM367 124h2v2h-2zM367 129h2v2h-2zM367 132h2v2h-2zM367 127h2v2h-2zM369 125h2v2h-2zM369 130h2v2h-2zM369 129h2v2h-2zM369 125h2v2h-2zM369 128h2v2h-2zM368 125h2v2h-2zM370 123h2v2h-2zM369 131h2v2h-2zM370 127h2v2h-2zM369 126h2v2h-2zM369 131h2v2h-2zM370 124h2v2h-2zM370 126h2v2h-2zM371 126h2v2h-2zM371 129h2v2h-2zM371 129h2v2h-2zM371 140h2v2h-2zM371 125h2v2h-2zM370 122h2v2h-2zM370 127h2v2h-2zM370 129h2v2h-2zM371 129h2v2h-2zM370 131h2v2h-2zM371 136h2v2h-2zM371 122h2v2h-2zM371 125h2v2h-2zM372 127h2v2h-2zM371 126h2v2h-2zM371 121h2v2h-2zM372 128h2v2h-2zM373 126h2v2h-2zM373 123h2v2h-2zM372 128h2v2h-2zM374 128h2v2h-2zM375 119h2v2h-2zM375 128h2v2h-2zM374 125h2v2h-2zM375 130h2v2h-2zM376 124h2v2h-2zM376 118h2v2h-2zM376 132h2v2h-2zM375 124h2v2h-2zM376 126h2v2h-2zM377 126h2v2h-2zM376 131h2v2h-2zM376 130h2v2h-2zM377 129h2v2h-2zM377 130h2v2h-2zM377 125h2v2h-2zM377 126h2v2h-2zM378 127h2v2h-2zM377 127h2v2h-2zM379 128h2v2h-2zM379 126h2v2h-2zM379 123h2v2h-2zM378 121h2v2h-2zM378 124h2v2h-2zM379 125h2v2h-2zM379 129h2v2h-2zM378 124h2v2h-2zM379 129h2v2h-2zM379 126h2v2h-2zM379 133h2v2h-2zM379 128h2v2h-2zM380 131h2v2h-2zM380 120h2v2h-2zM379 126h2v2h-2zM380 124h2v2h-2zM380 123h2v2h-2zM379 126h2v2h-2zM379 129h2v2h-2zM379 127h2v2h-2zM380 124h2v2h-2zM380 124h2v2h-2zM380 122h2v2h-2zM381 123h2v2h-2zM380 128h2v2h-2zM380 128h2v2h-2zM380 129h2v2h-2zM381 129h2v2h-2zM381 126h2v2h-2zM381 124h2v2h-2zM382 122h2v2h-2zM382 124h2v2h-2zM382 124h2v2h-2zM382 128h2v2h-2zM382 124h2v2h-2zM382 131h2v2h-2zM383 127h2v2h-2zM383 124h2v2h-2zM382 129h2v2h-2zM382 126h2v2h-2zM382 127h2v2h-2zM384 121h2v2h-2zM383 122h2v2h-2zM384 130h2v2h-2zM383 126h2v2h-2zM385 129h2v2h-2zM384 123h2v2h-2zM385 127h2v2h-2zM384 129h2v2h-2zM385 132h2v2h-2zM386 127h2v2h-2zM385 132h2v2h-2zM386 127h2v2h-2zM386 130h2v2h-2zM386 132h2v2h-2zM387 128h2v2h-2zM386 130h2v2h-2zM387 125h2v2h-2zM386 127h2v2h-2zM387 122h2v2h-2zM388 126h2v2h-2zM388 131h2v2h-2zM387 124h2v2h-2zM387 132h2v2h-2zM388 125h2v2h-2zM387 124h2v2h-2zM388 130h2v2h-2zM387 127h2v2h-2zM388 130h2v2h-2zM388 133h2v2h-2zM388 123h2v2h-2zM389 126h2v2h-2zM388 123h2v2h-2zM389 126h2v2h-2zM389 129h2v2h-2zM390 129h2v2h-2zM389 125h2v2h-2zM390 133h2v2h-2zM390 126h2v2h-2zM390 127h2v2h-2zM391 123h2v2h-2zM392 122h2v2h-2zM391 126h2v2h-2zM391 126h2v2h-2zM393 127h2v2h-2zM393 129h2v2h-2zM393 125h2v2h-2zM393 128h2v2h-2zM393 136h2v2h-2zM393 125h2v2h-2zM394 123h2v2h-2zM394 129h2v2h-2zM393 133h2v2h-2zM393 133h2v2h-2zM394 132h2v2h-2zM395 130h2v2h-2zM395 119h2v2h-2zM396 126h2v2h-2zM395 126h2v2h-2zM395 126h2v2h-2zM396 124h2v2h-2zM396 129h2v2h-2zM397 125h2v2h-2zM397 123h2v2h-2zM396 128h2v2h-2zM397 131h2v2h-2zM397 127h2v2h-2zM397 124h2v2h-2zM396 127h2v2h-2zM396 134h2v2h-2zM398 129h2v2h-2zM398 123h2v2h-2zM397 126h2v2h-2zM398 126h2v2h-2zM397 125h2v2h-2zM397 130h2v2h-2zM398 131h2v2h-2zM398 129h2v2h-2zM398 131h2v2h-2zM398 128h2v2h-2zM399 129h2v2h-2zM398 128h2v2h-2zM398 127h2v2h-2zM398 131h2v2h-2zM398 121h2v2h-2zM400 128h2v2h-2zM400 127h2v2h-2zM400 127h2v2h-2zM401 128h2v2h-2zM400 127h2v2h-2zM401 120h2v2h-2zM400 132h2v2h-2zM402 125h2v2h-2zM403 127h2v2h-2zM403 133h2v2h-2zM404 90h2v2h-2zM404 101h2v2h-2zM403 99h2v2h-2zM404 93h2v2h-2zM404 88h2v2h-2zM404 77h2v2h-2zM404 107h2v2h-2zM405 86h2v2h-2zM404 91h2v2h-2zM404 99h2v2h-2zM405 95h2v2h-2zM405 66h2v2h-2zM406 77h2v2h-2zM406 88h2v2h-2zM406 79h2v2h-2zM406 83h2v2h-2zM406 76h2v2h-2zM406 86h2v2h-2zM407 77h2v2h-2zM406 83h2v2h-2zM406 95h2v2h-2zM408 77h2v2h-2zM407 85h2v2h-2zM407 87h2v2h-2zM408 86h2v2h-2zM408 84h2v2h-2zM408 76h2v2h-2zM409 69h2v2h-2zM409 80h2v2h-2zM408 66h2v2h-2zM409 73h2v2h-2zM408 98h2v2h-2zM409 88h2v2h-2zM409 67h2v2h-2zM410 84h2v2h-2zM410 70h2v2h-2zM410 64h2v2h-2zM410 74h2v2h-2zM409 85h2v2h-2zM410 85h2v2h-2zM411 72h2v2h-2zM411 74h2v2h-2zM410 77h2v2h-2zM410 74h2v2h-2zM412 71h2v2h-2zM412 76h2v2h-2zM411 74h2v2h-2zM412 81h2v2h-2zM412 84h2v2h-2zM412 74h2v2h-2zM413 85h2v2h-2zM413 85h2v2h-2zM412 79h2v2h-2zM413 89h2v2h-2zM414 71h2v2h-2zM413 90h2v2h-2zM413 80h2v2h-2zM413 58h2v2h-2zM413 84h2v2h-2zM413 85h2v2h-2zM414 78h2v2h-2zM414 90h2v2h-2zM415 75h2v2h-2zM414 91h2v2h-2zM415 93h2v2h-2zM414 93h2v2h-2zM414 67h2v2h-2zM414 71h2v2h-2zM415 59h2v2h-2zM414 78h2v2h-2zM414 81h2v2h-2zM415 65h2v2h-2zM414 85h2v2h-2zM415 64h2v2h-2zM415 69h2v2h-2zM416 78h2v2h-2zM415 70h2v2h-2zM416 75h2v2h-2zM415 73h2v2h-2zM415 84h2v2h-2zM416 79h2v2h-2zM415 75h2v2h-2zM416 68h2v2h-2zM416 61h2v2h-2zM417 81h2v2h-2zM416 92h2v2h-2zM416 87h2v2h-2zM417 92h2v2h-2zM417 83h2v2h-2zM417 88h2v2h-2zM417 85h2v2h-2zM417 64h2v2h-2zM417 79h2v2h-2zM417 76h2v2h-2zM417 90h2v2h-2zM416 97h2v2h-2zM416 67h2v2h-2zM417 119h2v2h-2zM418 121h2v2h-2zM418 121h2v2h-2zM417 125h2v2h-2zM417 120h2v2h-2zM417 116h2v2h-2zM417 121h2v2h-2zM419 124h2v2h-2zM419 116h2v2h-2zM418 126h2v2h-2zM418 124h2v2h-2zM418 127h2v2h-2zM418 116h2v2h-2zM418 121h2v2h-2zM419 119h2v2h-2zM419 120h2v2h-2zM419 119h2v2h-2zM420 117h2v2h-2zM420 125h2v2h-2zM420 122h2v2h-2zM420 116h2v2h-2zM419 122h2v2h-2zM419 124h2v2h-2zM421 121h2v2h-2zM420 123h2v2h-2zM420 121h2v2h-2zM420 122h2v2h-2zM421 122h2v2h-2zM420 120h2v2h-2zM422 119h2v2h-2zM422 122h2v2h-2zM422 121h2v2h-2zM421 121h2v2h-2zM421 121h2v2h-2zM422 120h2v2h-2zM423 125h2v2h-2zM422 119h2v2h-2zM422 120h2v2h-2zM422 123h2v2h-2zM423 123h2v2h-2zM422 122h2v2h-2zM422 123h2v2h-2zM422 126h2v2h-2zM423 127h2v2h-2zM424 125h2v2h-2zM424 119h2v2h-2zM424 129h2v2h-2zM424 125h2v2h-2zM424 121h2v2h-2zM423 123h2v2h-2zM424 123h2v2h-2zM424 118h2v2h-2zM425 125h2v2h-2zM425 126h2v2h-2zM425 124h2v2h-2zM425 121h2v2h-2zM425 122h2v2h-2zM426 120h2v2h-2zM425 129h2v2h-2zM426 124h2v2h-2zM425 124h2v2h-2zM425 127h2v2h-2zM426 116h2v2h-2zM426 124h2v2h-2zM426 119h2v2h-2zM426 119h2v2h-2zM426 125h2v2h-2zM427 120h2v2h-2zM427 125h2v2h-2zM427 126h2v2h-2zM427 124h2v2h-2zM427 123h2v2h-2zM427 118h2v2h-2zM427 119h2v2h-2zM427 120h2v2h-2zM428 113h2v2h-2zM428 125h2v2h-2zM428 125h2v2h-2zM427 126h2v2h-2zM430 123h2v2h-2zM429 116h2v2h-2zM429 120h2v2h-2zM431 121h2v2h-2zM430 120h2v2h-2zM431 121h2v2h-2zM431 123h2v2h-2zM432 124h2v2h-2zM431 116h2v2h-2zM431 113h2v2h-2zM431 117h2v2h-2zM432 117h2v2h-2zM432 119h2v2h-2zM433 119h2v2h-2zM433 122h2v2h-2zM434 124h2v2h-2zM434 118h2v2h-2zM434 120h2v2h-2zM433 124h2v2h-2zM433 118h2v2h-2zM433 119h2v2h-2zM435 119h2v2h-2zM434 117h2v2h-2zM435 118h2v2h-2zM435 122h2v2h-2zM434 119h2v2h-2zM435 119h2v2h-2zM434 120h2v2h-2zM436 121h2v2h-2zM436 118h2v2h-2zM436 119h2v2h-2zM437 125h2v2h-2zM436 119h2v2h-2zM438 124h2v2h-2zM438 122h2v2h-2zM438 116h2v2h-2zM438 116h2v2h-2zM439 126h2v2h-2zM439 122h2v2h-2zM438 122h2v2h-2zM438 116h2v2h-2zM439 119h2v2h-2zM439 121h2v2h-2zM440 123h2v2h-2zM440 123h2v2h-2zM440 124h2v2h-2zM439 120h2v2h-2zM440 123h2v2h-2zM440 119h2v2h-2zM440 117h2v2h-2zM439 124h2v2h-2zM440 116h2v2h-2zM441 121h2v2h-2zM441 123h2v2h-2zM442 120h2v2h-2zM442 120h2v2h-2zM442 117h2v2h-2zM444 116h2v2h-2zM443 122h2v2h-2zM443 124h2v2h-2zM444 119h2v2h-2zM445 123h2v2h-2zM445 124h2v2h-2zM445 124h2v2h-2zM445 115h2v2h-2zM444 125h2v2h-2zM445 125h2v2h-2zM446 118h2v2h-2zM445 117h2v2h-2zM445 119h2v2h-2zM447 119h2v2h-2zM447 121h2v2h-2zM447 116h2v2h-2zM447 123h2v2h-2zM446 123h2v2h-2zM448 122h2v2h-2zM448 118h2v2h-2zM447 120h2v2h-2zM448 122h2v2h-2zM447 115h2v2h-2zM447 118h2v2h-2zM447 118h2v2h-2zM447 121h2v2h-2zM449 122h2v2h-2zM448 121h2v2h-2zM448 125h2v2h-2zM449 125h2v2h-2zM449 120h2v2h-2zM449 120h2v2h-2zM449 120h2v2h-2zM450 122h2v2h-2zM449 123h2v2h-2zM450 121h2v2h-2zM449 120h2v2h-2zM449 124h2v2h-2zM450 123h2v2h-2zM451 127h2v2h-2zM450 122h2v2h-2zM451 121h2v2h-2zM450 120h2v2h-2zM451 120h2v2h-2zM451 122h2v2h-2zM452 126h2v2h-2zM452 119h2v2h-2zM452 131h2v2h-2zM451 127h2v2h-2zM452 121h2v2h-2zM451 123h2v2h-2zM452 123h2v2h-2zM451 116h2v2h-2zM452 126h2v2h-2zM452 119h2v2h-2zM453 123h2v2h-2zM452 122h2v2h-2zM452 119h2v2h-2zM452 122h2v2h-2zM452 123h2v2h-2zM453 124h2v2h-2zM454 119h2v2h-2zM453 127h2v2h-2zM453 127h2v2h-2zM453 126h2v2h-2zM454 124h2v2h-2zM455 124h2v2h-2zM454 124h2v2h-2zM454 120h2v2h-2zM454 122h2v2h-2zM455 124h2v2h-2zM454 126h2v2h-2zM455 121h2v2h-2zM455 115h2v2h-2zM455 117h2v2h-2zM455 116h2v2h-2zM456 126h2v2h-2zM455 119h2v2h-2zM455 115h2v2h-2zM455 122h2v2h-2zM455 121h2v2h-2zM455 119h2v2h-2zM456 119h2v2h-2zM456 118h2v2h-2zM456 121h2v2h-2zM455 122h2v2h-2zM455 125h2v2h-2zM456 130h2v2h-2zM457 118h2v2h-2zM456 120h2v2h-2zM457 115h2v2h-2zM457 122h2v2h-2zM456 114h2v2h-2zM457 118h2v2h-2zM456 118h2v2h-2zM457 119h2v2h-2zM457 118h2v2h-2zM456 117h2v2h-2zM457 130h2v2h-2zM456 121h2v2h-2zM456 117h2v2h-2zM456 122h2v2h-2zM457 115h2v2h-2zM457 117h2v2h-2zM457 123h2v2h-2zM457 123h2v2h-2zM456 120h2v2h-2zM457 125h2v2h-2zM458 123h2v2h-2zM458 129h2v2h-2zM457 121h2v2h-2zM457 122h2v2h-2zM457 125h2v2h-2zM458 114h2v2h-2zM457 123h2v2h-2zM458 117h2v2h-2zM458 120h2v2h-2zM457 117h2v2h-2zM459 122h2v2h-2zM458 125h2v2h-2zM459 125h2v2h-2zM458 122h2v2h-2zM459 126h2v2h-2zM458 117h2v2h-2zM460 122h2v2h-2zM459 120h2v2h-2zM460 122h2v2h-2zM460 119h2v2h-2zM462 117h2v2h-2zM461 123h2v2h-2zM462 114h2v2h-2zM461 117h2v2h-2zM461 119h2v2h-2zM462 120h2v2h-2zM462 123h2v2h-2zM462 124h2v2h-2zM463 115h2v2h-2zM463 117h2v2h-2zM463 119h2v2h-2zM463 123h2v2h-2zM462 121h2v2h-2zM463 125h2v2h-2zM464 125h2v2h-2zM464 117h2v2h-2zM463 121h2v2h-2zM463 123h2v2h-2zM463 119h2v2h-2zM463 120h2v2h-2zM464 122h2v2h-2zM465 125h2v2h-2zM464 121h2v2h-2zM465 120h2v2h-2zM464 115h2v2h-2zM464 124h2v2h-2zM466 127h2v2h-2zM465 122h2v2h-2zM466 118h2v2h-2zM466 128h2v2h-2zM467 118h2v2h-2zM467 120h2v2h-2zM467 120h2v2h-2zM467 126h2v2h-2zM467 122h2v2h-2zM467 128h2v2h-2zM468 127h2v2h-2zM467 125h2v2h-2zM469 119h2v2h-2zM469 121h2v2h-2zM469 117h2v2h-2zM469 126h2v2h-2zM469 119h2v2h-2zM469 117h2v2h-2zM470 125h2v2h-2zM470 124h2v2h-2zM471 128h2v2h-2zM470 120h2v2h-2zM472 121h2v2h-2zM472 121h2v2h-2zM472 124h2v2h-2zM471 125h2v2h-2zM471 128h2v2h-2zM472 125h2v2h-2zM473 118h2v2h-2zM473 117h2v2h-2zM472 126h2v2h-2zM473 122h2v2h-2zM472 122h2v2h-2zM473 123h2v2h-2zM474 125h2v2h-2zM475 116h2v2h-2zM475 124h2v2h-2zM474 118h2v2h-2zM475 129h2v2h-2zM476 122h2v2h-2zM475 122h2v2h-2zM477 120h2v2h-2zM476 123h2v2h-2zM477 120h2v2h-2zM477 116h2v2h-2zM478 121h2v2h-2zM478 121h2v2h-2zM477 121h2v2h-2zM478 120h2v2h-2zM478 120h2v2h-2zM477 122h2v2h-2zM478 129h2v2h-2zM478 123h2v2h-2zM479 122h2v2h-2zM479 123h2v2h-2zM479 126h2v2h-2zM479 120h2v2h-2zM479 123h2v2h-2zM479 120h2v2h-2zM479 119h2v2h-2zM481 123h2v2h-2zM481 117h2v2h-2zM480 120h2v2h-2zM480 123h2v2h-2zM481 118h2v2h-2zM482 115h2v2h-2zM481 127h2v2h-2zM482 121h2v2h-2zM482 127h2v2h-2zM482 121h2v2h-2zM483 115h2v2h-2zM482 127h2v2h-2zM483 120h2v2h-2zM482 125h2v2h-2zM483 129h2v2h-2zM482 130h2v2h-2zM483 121h2v2h-2zM484 125h2v2h-2zM484 125h2v2h-2zM484 124h2v2h-2zM484 126h2v2h-2zM484 122h2v2h-2zM484 114h2v2h-2zM484 129h2v2h-2zM484 125h2v2h-2zM484 134h2v2h-2zM485 121h2v2h-2zM484 119h2v2h-2zM484 119h2v2h-2zM484 120h2v2h-2zM484 121h2v2h-2zM485 124h2v2h-2zM485 121h2v2h-2zM486 121h2v2h-2zM486 121h2v2h-2zM485 127h2v2h-2zM485 123h2v2h-2zM486 124h2v2h-2zM486 118h2v2h-2zM487 126h2v2h-2zM488 120h2v2h-2zM488 112h2v2h-2zM488 124h2v2h-2zM489 126h2v2h-2zM489 119h2v2h-2zM489 123h2v2h-2zM488 122h2v2h-2zM489 113h2v2h-2zM488 120h2v2h-2zM490 120h2v2h-2zM490 122h2v2h-2zM489 122h2v2h-2zM490 118h2v2h-2zM490 128h2v2h-2zM489 114h2v2h-2zM490 124h2v2h-2zM490 125h2v2h-2zM490 123h2v2h-2zM490 125h2v2h-2zM491 123h2v2h-2zM491 119h2v2h-2zM492 125h2v2h-2zM492 118h2v2h-2zM492 122h2v2h-2zM493 120h2v2h-2zM493 124h2v2h-2zM494 125h2v2h-2zM493 128h2v2h-2zM493 119h2v2h-2zM494 114h2v2h-2zM495 126h2v2h-2zM495 118h2v2h-2zM495 119h2v2h-2zM495 123h2v2h-2zM494 125h2v2h-2zM494 121h2v2h-2zM495 118h2v2h-2zM494 114h2v2h-2zM494 124h2v2h-2zM494 121h2v2h-2zM496 121h2v2h-2zM495 113h2v2h-2zM495 119h2v2h-2zM495 117h2v2h-2zM496 121h2v2h-2zM496 115h2v2h-2zM495 114h2v2h-2zM495 119h2v2h-2zM496 119h2v2h-2zM496 121h2v2h-2zM495 123h2v2h-2zM496 118h2v2h-2zM495 123h2v2h-2zM497 129h2v2h-2zM496 118h2v2h-2zM497 122h2v2h-2zM497 120h2v2h-2zM497 115h2v2h-2zM496 117h2v2h-2zM496 127h2v2h-2zM496 120h2v2h-2zM496 124h2v2h-2zM498 114h2v2h-2zM498 118h2v2h-2zM498 123h2v2h-2zM498 123h2v2h-2zM498 115h2v2h-2zM499 118h2v2h-2zM498 119h2v2h-2zM498 120h2v2h-2zM498 115h2v2h-2zM498 121h2v2h-2zM499 116h2v2h-2zM499 121h2v2h-2zM498 119h2v2h-2zM498 121h2v2h-2zM498 123h2v2h-2zM500 113h2v2h-2zM500 124h2v2h-2zM499 114h2v2h-2zM499 122h2v2h-2zM499 119h2v2h-2zM501 119h2v2h-2zM501 124h2v2h-2zM500 118h2v2h-2zM501 120h2v2h-2zM502 117h2v2h-2zM501 118h2v2h-2zM501 126h2v2h-2zM501 120h2v2h-2zM501 115h2v2h-2zM502 122h2v2h-2zM502 125h2v2h-2zM502 115h2v2h-2zM501 122h2v2h-2zM501 120h2v2h-2zM502 119h2v2h-2zM501 115h2v2h-2zM502 117h2v2h-2zM503 118h2v2h-2zM503 120h2v2h-2zM503 117h2v2h-2zM503 123h2v2h-2zM503 121h2v2h-2zM503 118h2v2h-2zM503 115h2v2h-2zM502 119h2v2h-2zM502 123h2v2h-2zM502 119h2v2h-2zM504 117h2v2h-2zM503 119h2v2h-2zM503 124h2v2h-2zM504 115h2v2h-2zM503 118h2v2h-2zM504 119h2v2h-2zM503 116h2v2h-2zM504 119h2v2h-2zM504 118h2v2h-2zM505 119h2v2h-2zM504 123h2v2h-2zM504 118h2v2h-2zM504 121h2v2h-2zM505 119h2v2h-2zM505 121h2v2h-2zM504 120h2v2h-2zM506 120h2v2h-2zM506 125h2v2h-2zM506 116h2v2h-2zM507 121h2v2h-2zM507 122h2v2h-2zM507 123h2v2h-2zM507 125h2v2h-2zM508 124h2v2h-2zM508 124h2v2h-2zM507 116h2v2h-2zM508 116h2v2h-2zM508 124h2v2h-2zM508 119h2v2h-2zM509 121h2v2h-2zM508 123h2v2h-2zM509 121h2v2h-2zM508 119h2v2h-2zM510 121h2v2h-2zM510 124h2v2h-2zM509 125h2v2h-2zM509 120h2v2h-2zM511 121h2v2h-2zM510 121h2v2h-2zM511 120h2v2h-2zM511 120h2v2h-2zM511 122h2v2h-2zM511 127h2v2h-2zM512 117h2v2h-2zM512 127h2v2h-2zM511 122h2v2h-2zM513 121h2v2h-2zM512 126h2v2h-2zM512 122h2v2h-2zM513 120h2v2h-2zM512 121h2v2h-2zM512 127h2v2h-2zM513 126h2v2h-2zM512 118h2v2h-2zM512 115h2v2h-2zM513 118h2v2h-2zM513 124h2v2h-2zM512 127h2v2h-2zM512 119h2v2h-2zM513 120h2v2h-2zM513 124h2v2h-2zM514 129h2v2h-2zM513 122h2v2h-2zM513 124h2v2h-2zM514 123h2v2h-2zM514 117h2v2h-2zM514 116h2v2h-2zM513 119h2v2h-2zM514 120h2v2h-2zM514 123h2v2h-2zM515 124h2v2h-2zM515 123h2v2h-2zM515 118h2v2h-2zM515 129h2v2h-2zM515 123h2v2h-2zM514 120h2v2h-2zM515 119h2v2h-2zM514 122h2v2h-2zM515 122h2v2h-2zM516 119h2v2h-2zM517 119h2v2h-2zM516 120h2v2h-2zM516 119h2v2h-2zM516 118h2v2h-2zM517 120h2v2h-2zM518 125h2v2h-2zM518 120h2v2h-2zM519 120h2v2h-2zM519 124h2v2h-2zM519 120h2v2h-2zM518 122h2v2h-2zM519 122h2v2h-2zM519 120h2v2h-2zM519 119h2v2h-2zM520 125h2v2h-2zM520 125h2v2h-2zM519 116h2v2h-2zM519 116h2v2h-2zM520 121h2v2h-2zM521 119h2v2h-2zM520 123h2v2h-2zM521 122h2v2h-2zM521 124h2v2h-2zM522 122h2v2h-2zM521 124h2v2h-2zM521 124h2v2h-2zM522 117h2v2h-2zM522 124h2v2h-2zM521 121h2v2h-2zM522 119h2v2h-2zM522 118h2v2h-2zM522 109h2v2h-2zM523 120h2v2h-2zM522 121h2v2h-2zM523 120h2v2h-2zM523 118h2v2h-2zM523 119h2v2h-2zM524 123h2v2h-2zM524 114h2v2h-2zM523 118h2v2h-2zM523 127h2v2h-2zM523 122h2v2h-2zM523 119h2v2h-2zM523 121h2v2h-2zM523 116h2v2h-2zM525 119h2v2h-2zM524 118h2v2h-2zM524 120h2v2h-2zM524 119h2v2h-2zM524 118h2v2h-2zM524 124h2v2h-2zM524 120h2v2h-2zM524 121h2v2h-2zM524 119h2v2h-2zM524 121h2v2h-2zM526 111h2v2h-2zM526 120h2v2h-2zM526 122h2v2h-2zM526 112h2v2h-2zM527 127h2v2h-2zM526 115h2v2h-2zM527 120h2v2h-2zM526 120h2v2h-2zM527 124h2v2h-2zM526 117h2v2h-2zM527 124h2v2h-2zM528 125h2v2h-2zM528 126h2v2h-2zM528 119h2v2h-2zM528 117h2v2h-2zM528 121h2v2h-2zM527 118h2v2h-2zM527 124h2v2h-2zM527 124h2v2h-2zM527 122h2v2h-2zM528 122h2v2h-2zM529 121h2v2h-2zM528 123h2v2h-2zM529 120h2v2h-2zM528 123h2v2h-2zM529 118h2v2h-2zM529 120h2v2h-2zM529 120h2v2h-2zM529 121h2v2h-2zM530 120h2v2h-2zM530 123h2v2h-2zM530 118h2v2h-2zM529 116h2v2h-2zM529 117h2v2h-2zM530 121h2v2h-2zM529 114h2v2h-2zM530 117h2v2h-2zM531 121h2v2h-2zM530 124h2v2h-2zM531 118h2v2h-2zM530 117h2v2h-2zM530 116h2v2h-2zM531 122h2v2h-2zM532 118h2v2h-2zM532 124h2v2h-2zM532 112h2v2h-2zM531 125h2v2h-2zM531 113h2v2h-2zM532 120h2v2h-2zM532 120h2v2h-2zM532 115h2v2h-2zM533 111h2v2h-2zM533 119h2v2h-2zM532 122h2v2h-2zM532 119h2v2h-2zM533 123h2v2h-2zM532 116h2v2h-2zM533 118h2v2h-2zM532 122h2v2h-2zM533 120h2v2h-2zM532 122h2v2h-2zM533 115h2v2h-2zM532 121h2v2h-2zM534 116h2v2h-2zM533 121h2v2h-2zM533 123h2v2h-2zM533 109h2v2h-2zM533 117h2v2h-2zM535 118h2v2h-2zM535 120h2v2h-2zM536 120h2v2h-2zM536 124h2v2h-2zM536 120h2v2h-2zM536 124h2v2h-2zM537 124h2v2h-2zM537 122h2v2h-2zM536 123h2v2h-2zM537 124h2v2h-2zM537 126h2v2h-2zM537 121h2v2h-2zM537 120h2v2h-2zM537 119h2v2h-2zM537 121h2v2h-2zM538 124h2v2h-2zM538 118h2v2h-2zM540 122h2v2h-2zM539 121h2v2h-2zM540 120h2v2h-2zM539 115h2v2h-2zM539 114h2v2h-2zM540 119h2v2h-2zM540 120h2v2h-2zM540 127h2v2h-2zM540 125h2v2h-2zM540 127h2v2h-2zM541 118h2v2h-2zM541 122h2v2h-2zM540 120h2v2h-2zM540 116h2v2h-2zM540 121h2v2h-2zM542 124h2v2h-2zM541 117h2v2h-2zM541 116h2v2h-2zM542 123h2v2h-2zM542 117h2v2h-2zM542 121h2v2h-2zM541 123h2v2h-2zM542 112h2v2h-2zM542 121h2v2h-2zM542 121h2v2h-2zM543 120h2v2h-2zM542 124h2v2h-2zM543 119h2v2h-2zM544 121h2v2h-2zM544 122h2v2h-2zM545 123h2v2h-2zM545 119h2v2h-2zM546 118h2v2h-2zM546 126h2v2h-2zM546 122h2v2h-2zM546 124h2v2h-2zM546 119h2v2h-2zM546 122h2v2h-2zM547 126h2v2h-2zM547 122h2v2h-2zM546 121h2v2h-2zM546 124h2v2h-2zM546 128h2v2h-2zM547 117h2v2h-2zM547 123h2v2h-2zM548 122h2v2h-2zM548 124h2v2h-2zM548 125h2v2h-2zM548 119h2v2h-2zM549 120h2v2h-2zM548 124h2v2h-2zM548 122h2v2h-2zM548 120h2v2h-2zM549 121h2v2h-2zM551 116h2v2h-2zM550 119h2v2h-2zM551 119h2v2h-2zM552 124h2v2h-2zM552 123h2v2h-2zM552 125h2v2h-2zM552 121h2v2h-2zM551 121h2v2h-2zM552 117h2v2h-2zM552 114h2v2h-2zM552 118h2v2h-2zM553 126h2v2h-2zM553 117h2v2h-2zM552 126h2v2h-2zM553 126h2v2h-2zM554 119h2v2h-2zM553 120h2v2h-2zM554 119h2v2h-2zM553 118h2v2h-2zM555 120h2v2h-2zM555 119h2v2h-2zM554 118h2v2h-2zM556 115h2v2h-2zM556 124h2v2h-2zM555 120h2v2h-2zM556 113h2v2h-2zM555 119h2v2h-2zM557 121h2v2h-2zM557 122h2v2h-2zM556 117h2v2h-2zM557 117h2v2h-2zM557 117h2v2h-2zM557 120h2v2h-2zM558 125h2v2h-2zM558 121h2v2h-2zM558 121h2v2h-2zM558 120h2v2h-2zM557 126h2v2h-2zM558 116h2v2h-2zM558 119h2v2h-2zM558 118h2v2h-2zM558 114h2v2h-2zM558 116h2v2h-2zM559 118h2v2h-2zM559 118h2v2h-2zM558 118h2v2h-2zM560 114h2v2h-2zM559 121h2v2h-2zM559 114h2v2h-2zM559 120h2v2h-2zM559 119h2v2h-2zM559 117h2v2h-2zM561 120h2v2h-2zM560 118h2v2h-2zM560 121h2v2h-2zM560 118h2v2h-2zM560 118h2v2h-2zM561 118h2v2h-2zM560 123h2v2h-2zM561 115h2v2h-2zM562 124h2v2h-2zM561 114h2v2h-2zM562 117h2v2h-2zM562 119h2v2h-2zM562 115h2v2h-2zM563 120h2v2h-2zM563 124h2v2h-2zM563 121h2v2h-2zM562 116h2v2h-2zM563 115h2v2h-2zM563 118h2v2h-2zM564 120h2v2h-2zM564 118h2v2h-2zM564 117h2v2h-2zM564 118h2v2h-2zM563 118h2v2h-2zM564 118h2v2h-2zM563 116h2v2h-2zM564 120h2v2h-2zM565 118h2v2h-2zM565 117h2v2h-2zM564 118h2v2h-2zM565 125h2v2h-2zM565 120h2v2h-2zM564 119h2v2h-2zM565 125h2v2h-2zM565 122h2v2h-2zM565 120h2v2h-2zM565 123h2v2h-2zM566 116h2v2h-2zM565 112h2v2h-2zM566 114h2v2h-2zM565 125h2v2h-2zM565 123h2v2h-2zM566 119h2v2h-2zM566 122h2v2h-2zM565 119h2v2h-2zM565 122h2v2h-2zM566 122h2v2h-2zM566 118h2v2h-2zM566 116h2v2h-2zM567 118h2v2h-2zM567 124h2v2h-2zM566 116h2v2h-2zM566 120h2v2h-2zM566 114h2v2h-2zM567 118h2v2h-2zM567 124h2v2h-2zM568 113h2v2h-2zM567 123h2v2h-2zM567 120h2v2h-2zM567 122h2v2h-2zM568 125h2v2h-2zM568 126h2v2h-2zM569 122h2v2h-2zM569 120h2v2h-2zM569 120h2v2h-2zM569 124h2v2h-2zM569 120h2v2h-2zM568 117h2v2h-2zM568 118h2v2h-2zM568 119h2v2h-2zM569 120h2v2h-2zM568 127h2v2h-2zM569 126h2v2h-2zM569 122h2v2h-2zM569 118h2v2h-2zM569 114h2v2h-2zM570 119h2v2h-2zM569 126h2v2h-2zM570 125h2v2h-2zM570 120h2v2h-2zM570 122h2v2h-2zM571 124h2v2h-2zM571 118h2v2h-2zM570 117h2v2h-2zM570 120h2v2h-2zM571 116h2v2h-2zM571 116h2v2h-2zM570 128h2v2h-2zM571 120h2v2h-2zM570 122h2v2h-2zM570 113h2v2h-2zM571 115h2v2h-2zM571 121h2v2h-2zM571 123h2v2h-2zM571 116h2v2h-2zM572 113h2v2h-2zM572 121h2v2h-2zM571 114h2v2h-2zM571 122h2v2h-2zM571 120h2v2h-2zM572 119h2v2h-2zM572 117h2v2h-2zM572 117h2v2h-2zM574 117h2v2h-2zM573 120h2v2h-2zM573 115h2v2h-2zM574 115h2v2h-2zM573 128h2v2h-2zM574 124h2v2h-2zM575 117h2v2h-2zM575 123h2v2h-2zM574 116h2v2h-2zM574 117h2v2h-2zM575 115h2v2h-2zM574 114h2v2h-2zM574 116h2v2h-2zM576 116h2v2h-2zM578 117h2v2h-2zM578 120h2v2h-2zM578 120h2v2h-2zM579 115h2v2h-2zM579 121h2v2h-2zM579 118h2v2h-2zM579 124h2v2h-2zM579 117h2v2h-2zM580 124h2v2h-2zM580 118h2v2h-2zM579 123h2v2h-2zM580 123h2v2h-2zM579 126h2v2h-2zM580 117h2v2h-2zM581 118h2v2h-2zM581 124h2v2h-2zM580 120h2v2h-2zM581 122h2v2h-2zM581 123h2v2h-2zM581 119h2v2h-2zM580 123h2v2h-2zM581 129h2v2h-2zM581 126h2v2h-2zM581 119h2v2h-2zM581 120h2v2h-2zM582 123h2v2h-2zM582 116h2v2h-2zM581 126h2v2h-2zM582 122h2v2h-2zM581 127h2v2h-2zM581 121h2v2h-2zM581 124h2v2h-2zM582 122h2v2h-2zM582 120h2v2h-2zM583 118h2v2h-2zM583 122h2v2h-2zM582 125h2v2h-2zM584 117h2v2h-2zM583 122h2v2h-2zM584 129h2v2h-2zM584 124h2v2h-2zM584 120h2v2h-2zM584 119h2v2h-2zM584 117h2v2h-2zM585 123h2v2h-2zM586 114h2v2h-2zM586 120h2v2h-2zM585 123h2v2h-2zM586 114h2v2h-2zM585 120h2v2h-2zM586 120h2v2h-2zM585 119h2v2h-2zM585 127h2v2h-2zM587 117h2v2h-2zM586 123h2v2h-2zM586 118h2v2h-2zM587 123h2v2h-2zM586 117h2v2h-2zM588 126h2v2h-2zM588 116h2v2h-2zM589 119h2v2h-2zM589 120h2v2h-2zM589 119h2v2h-2zM589 124h2v2h-2zM588 116h2v2h-2zM588 123h2v2h-2zM589 123h2v2h-2zM589 120h2v2h-2zM590 112h2v2h-2zM590 123h2v2h-2zM590 123h2v2h-2zM589 118h2v2h-2zM590 123h2v2h-2zM591 120h2v2h-2zM590 122h2v2h-2zM591 126h2v2h-2zM592 125h2v2h-2zM591 119h2v2h-2zM592 114h2v2h-2zM591 121h2v2h-2zM593 118h2v2h-2zM593 119h2v2h-2zM594 119h2v2h-2zM593 122h2v2h-2zM594 122h2v2h-2zM593 122h2v2h-2zM594 128h2v2h-2zM594 121h2v2h-2zM594 117h2v2h-2zM594 119h2v2h-2zM595 119h2v2h-2zM595 120h2v2h-2zM594 120h2v2h-2zM595 120h2v2h-2zM594 121h2v2h-2zM595 118h2v2h-2zM594 118h2v2h-2zM594 120h2v2h-2zM595 117h2v2h-2zM595 113h2v2h-2zM595 118h2v2h-2zM595 123h2v2h-2zM595 121h2v2h-2zM595 118h2v2h-2zM596 117h2v2h-2zM595 124h2v2h-2zM597 122h2v2h-2zM597 116h2v2h-2zM597 119h2v2h-2zM596 123h2v2h-2zM596 120h2v2h-2zM597 117h2v2h-2zM596 125h2v2h-2zM596 120h2v2h-2zM597 120h2v2h-2zM598 119h2v2h-2zM598 121h2v2h-2zM598 126h2v2h-2zM598 118h2v2h-2zM599 120h2v2h-2zM598 118h2v2h-2zM599 115h2v2h-2zM599 122h2v2h-2zM598 123h2v2h-2zM598 121h2v2h-2zM599 123h2v2h-2zM599 122h2v2h-2zM599 122h2v2h-2zM599 123h2v2h-2zM600 126h2v2h-2zM600 112h2v2h-2zM600 121h2v2h-2zM599 124h2v2h-2zM600 121h2v2h-2zM599 117h2v2h-2zM600 121h2v2h-2zM601 123h2v2h-2zM600 117h2v2h-2zM601 119h2v2h-2zM601 115h2v2h-2zM601 122h2v2h-2zM601 120h2v2h-2zM601 122h2v2h-2zM602 120h2v2h-2zM602 128h2v2h-2zM601 124h2v2h-2zM602 119h2v2h-2zM602 120h2v2h-2zM602 122h2v2h-2zM602 118h2v2h-2zM603 118h2v2h-2zM603 121h2v2h-2zM605 120h2v2h-2zM604 121h2v2h-2zM605 122h2v2h-2zM606 114h2v2h-2zM605 124h2v2h-2zM605 122h2v2h-2zM606 120h2v2h-2zM606 125h2v2h-2zM606 121h2v2h-2zM606 116h2v2h-2zM607 117h2v2h-2zM606 123h2v2h-2zM606 126h2v2h-2zM607 115h2v2h-2zM607 115h2v2h-2zM608 122h2v2h-2zM608 129h2v2h-2zM607 121h2v2h-2zM607 121h2v2h-2zM607 124h2v2h-2zM607 120h2v2h-2zM609 115h2v2h-2zM608 122h2v2h-2zM608 117h2v2h-2zM608 123h2v2h-2zM608 117h2v2h-2zM609 122h2v2h-2zM608 122h2v2h-2zM609 114h2v2h-2zM608 118h2v2h-2zM609 119h2v2h-2zM609 123h2v2h-2zM609 125h2v2h-2zM609 119h2v2h-2zM609 113h2v2h-2zM609 119h2v2h-2zM609 127h2v2h-2zM609 118h2v2h-2zM609 122h2v2h-2zM611 121h2v2h-2zM611 120h2v2h-2zM611 119h2v2h-2zM611 116h2v2h-2zM611 119h2v2h-2zM611 115h2v2h-2zM611 121h2v2h-2zM610 119h2v2h-2zM610 118h2v2h-2zM611 119h2v2h-2zM611 120h2v2h-2zM612 120h2v2h-2zM612 116h2v2h-2zM611 121h2v2h-2zM612 122h2v2h-2zM612 110h2v2h-2zM611 119h2v2h-2zM611 114h2v2h-2zM612 117h2v2h-2zM611 119h2v2h-2zM612 118h2v2h-2zM612 118h2v2h-2zM612 119h2v2h-2zM612 118h2v2h-2zM613 122h2v2h-2zM613 116h2v2h-2zM613 120h2v2h-2zM612 117h2v2h-2zM612 116h2v2h-2zM612 122h2v2h-2zM613 119h2v2h-2zM614 120h2v2h-2zM613 118h2v2h-2zM613 119h2v2h-2zM614 120h2v2h-2zM613 120h2v2h-2zM613 127h2v2h-2zM614 119h2v2h-2zM613 119h2v2h-2zM614 121h2v2h-2zM613 121h2v2h-2zM614 127h2v2h-2zM615 121h2v2h-2zM616 119h2v2h-2zM615 123h2v2h-2zM616 120h2v2h-2zM617 120h2v2h-2zM617 120h2v2h-2zM618 122h2v2h-2zM617 116h2v2h-2zM618 124h2v2h-2zM618 123h2v2h-2zM619 122h2v2h-2zM619 120h2v2h-2zM619 116h2v2h-2zM619 120h2v2h-2zM619 112h2v2h-2zM619 124h2v2h-2zM619 119h2v2h-2zM620 124h2v2h-2zM620 120h2v2h-2zM621 120h2v2h-2zM621 120h2v2h-2zM621 116h2v2h-2zM621 123h2v2h-2zM621 117h2v2h-2zM621 124h2v2h-2zM621 121h2v2h-2zM620 122h2v2h-2zM622 123h2v2h-2zM621 120h2v2h-2zM622 118h2v2h-2zM621 125h2v2h-2zM622 121h2v2h-2zM623 123h2v2h-2zM623 122h2v2h-2zM624 121h2v2h-2zM623 119h2v2h-2zM623 120h2v2h-2zM623 124h2v2h-2zM623 119h2v2h-2zM625 122h2v2h-2zM624 121h2v2h-2zM624 122h2v2h-2zM624 124h2v2h-2zM624 122h2v2h-2zM624 122h2v2h-2zM625 120h2v2h-2zM624 111h2v2h-2zM625 125h2v2h-2zM624 120h2v2h-2zM626 120h2v2h-2zM626 122h2v2h-2zM625 121h2v2h-2zM625 120h2v2h-2zM626 123h2v2h-2zM626 123h2v2h-2zM626 131h2v2h-2zM626 119h2v2h-2zM625 123h2v2h-2zM626 126h2v2h-2zM627 118h2v2h-2zM627 118h2v2h-2zM626 120h2v2h-2zM626 122h2v2h-2zM626 118h2v2h-2zM628 122h2v2h-2zM628 126h2v2h-2zM628 120h2v2h-2zM628 124h2v2h-2zM628 118h2v2h-2zM627 122h2v2h-2zM628 122h2v2h-2zM628 120h2v2h-2zM628 122h2v2h-2zM628 123h2v2h-2zM629 115h2v2h-2zM628 120h2v2h-2zM628 114h2v2h-2zM630 125h2v2h-2zM629 123h2v2h-2zM629 114h2v2h-2zM630 123h2v2h-2zM629 117h2v2h-2zM630 121h2v2h-2zM630 124h2v2h-2zM630 127h2v2h-2zM631 125h2v2h-2zM630 125h2v2h-2zM631 122h2v2h-2zM632 118h2v2h-2zM633 117h2v2h-2zM633 121h2v2h-2zM632 119h2v2h-2zM633 126h2v2h-2zM633 120h2v2h-2zM632 115h2v2h-2zM634 123h2v2h-2zM634 121h2v2h-2zM635 121h2v2h-2zM635 125h2v2h-2zM635 123h2v2h-2zM635 119h2v2h-2zM101 52h2v2h-2zM101 56h2v2h-2zM100 61h2v2h-2zM101 65h2v2h-2zM102 69h2v2h-2zM120 57h2v2h-2zM120 63h2v2h-2zM120 69h2v2h-2zM120 75h2v2h-2zM408 54h2v2h-2zM409 59h2v2h-2zM411 61h2v2h-2zM413 65h2v2h-2zM407 67h2v2h-2zM111 104h2v2h-2zM115 106h2v2h-2zM105 107h2v2h-2zM97 109h2v2h-2zM244 99h2v2h-2zM251 106h2v2h-2zM365 130h2v2h-2zM371 139h2v2h-2zM387 141h2v2h-2zM395 145h2v2h-2zM525 98h2v2h-2zM539 104h2v2h-2zM554 107h2v2h-2zM496 102h2v2h-2zM595 109h2v2h-2zM635 111h2v2h-2zM598 112h2v2h-2zM284 112h2v2h-2zM286 111h2v2h-2z"/><path fill="#ff0000" d="M72 135h2v2h-2zM71 135h2v2h-2zM71 126h2v2h-2zM71 133h2v2h-2zM72 132h2v2h-2zM71 127h2v2h-2zM72 131h2v2h-2zM71 129h2v2h-2zM73 133h2v2h-2zM72 127h2v2h-2zM72 132h2v2h-2zM72 135h2v2h-2zM73 126h2v2h-2zM73 129h2v2h-2zM72 132h2v2h-2zM73 134h2v2h-2zM72 131h2v2h-2zM73 129h2v2h-2zM74 139h2v2h-2zM73 126h2v2h-2zM74 142h2v2h-2zM73 130h2v2h-2zM74 143h2v2h-2zM74 127h2v2h-2zM73 133h2v2h-2zM73 134h2v2h-2zM74 135h2v2h-2zM74 135h2v2h-2zM74 136h2v2h-2zM74 136h2v2h-2zM74 133h2v2h-2zM74 130h2v2h-2zM74 133h2v2h-2zM74 131h2v2h-2zM74 130h2v2h-2zM74 127h2v2h-2zM74 130h2v2h-2zM75 137h2v2h-2zM74 129h2v2h-2zM74 131h2v2h-2zM75 132h2v2h-2zM75 131h2v2h-2zM76 125h2v2h-2zM76 136h2v2h-2zM76 139h2v2h-2zM77 134h2v2h-2zM76 137h2v2h-2zM77 131h2v2h-2zM77 137h2v2h-2zM78 133h2v2h-2zM79 129h2v2h-2zM78 136h2v2h-2zM79 128h2v2h-2zM78 127h2v2h-2zM78 129h2v2h-2zM79 139h2v2h-2zM79 132h2v2h-2zM78 123h2v2h-2zM79 132h2v2h-2zM79 130h2v2h-2zM80 133h2v2h-2zM80 124h2v2h-2zM81 131h2v2h-2zM80 132h2v2h-2zM80 127h2v2h-2zM80 132h2v2h-2zM81 133h2v2h-2zM80 130h2v2h-2zM80 128h2v2h-2zM81 137h2v2h-2zM81 131h2v2h-2zM82 129h2v2h-2zM81 124h2v2h-2zM82 126h2v2h-2zM82 135h2v2h-2zM82 138h2v2h-2zM83 134h2v2h-2zM83 130h2v2h-2zM83 124h2v2h-2zM83 128h2v2h-2zM83 128h2v2h-2zM83 125h2v2h-2zM83 137h2v2h-2zM82 127h2v2h-2zM82 129h2v2h-2zM83 127h2v2h-2zM84 128h2v2h-2zM83 134h2v2h-2zM84 133h2v2h-2zM83 128h2v2h-2zM83 127h2v2h-2zM84 122h2v2h-2zM84 135h2v2h-2zM84 133h2v2h-2zM83 130h2v2h-2zM84 126h2v2h-2zM84 128h2v2h-2zM84 125h2v2h-2zM84 129h2v2h-2zM85 129h2v2h-2zM84 122h2v2h-2zM84 132h2v2h-2zM85 123h2v2h-2zM84 129h2v2h-2zM85 134h2v2h-2zM84 127h2v2h-2zM85 131h2v2h-2zM84 129h2v2h-2zM85 136h2v2h-2zM85 130h2v2h-2zM86 131h2v2h-2zM86 127h2v2h-2zM86 131h2v2h-2zM85 129h2v2h-2zM85 130h2v2h-2zM85 124h2v2h-2zM86 125h2v2h-2zM86 126h2v2h-2zM86 143h2v2h-2zM86 128h2v2h-2zM85 127h2v2h-2zM86 133h2v2h-2zM87 139h2v2h-2zM86 128h2v2h-2zM86 125h2v2h-2zM87 125h2v2h-2zM87 129h2v2h-2zM86 136h2v2h-2zM86 129h2v2h-2zM87 128h2v2h-2zM87 132h2v2h-2zM88 117h2v2h-2zM87 132h2v2h-2zM88 130h2v2h-2zM88 127h2v2h-2zM88 126h2v2h-2zM89 127h2v2h-2zM88 133h2v2h-2zM88 131h2v2h-2zM89 126h2v2h-2zM88 127h2v2h-2zM89 129h2v2h-2zM88 129h2v2h-2zM89 130h2v2h-2zM89 135h2v2h-2zM89 131h2v2h-2zM88 126h2v2h-2zM89 129h2v2h-2zM88 129h2v2h-2zM90 125h2v2h-2zM89 124h2v2h-2zM89 128h2v2h-2zM90 132h2v2h-2zM89 129h2v2h-2zM90 133h2v2h-2zM89 128h2v2h-2zM89 135h2v2h-2zM91 133h2v2h-2zM90 126h2v2h-2zM90 128h2v2h-2zM90 132h2v2h-2zM90 136h2v2h-2zM91 130h2v2h-2zM92 133h2v2h-2zM91 132h2v2h-2zM91 134h2v2h-2zM92 135h2v2h-2zM93 126h2v2h-2zM93 134h2v2h-2zM92 140h2v2h-2zM93 130h2v2h-2zM93 135h2v2h-2zM93 137h2v2h-2zM93 131h2v2h-2zM94 130h2v2h-2zM94 131h2v2h-2zM95 123h2v2h-2zM95 128h2v2h-2zM95 134h2v2h-2zM95 129h2v2h-2zM95 136h2v2h-2zM96 130h2v2h-2zM96 133h2v2h-2zM96 139h2v2h-2zM96 137h2v2h-2zM97 133h2v2h-2zM97 130h2v2h-2zM96 132h2v2h-2zM96 134h2v2h-2zM97 132h2v2h-2zM96 140h2v2h-2zM96 131h2v2h-2zM97 134h2v2h-2zM97 133h2v2h-2zM97 132h2v2h-2zM97 125h2v2h-2zM98 131h2v2h-2zM97 137h2v2h-2zM98 130h2v2h-2zM99 129h2v2h-2zM99 125h2v2h-2zM99 133h2v2h-2zM100 133h2v2h-2zM99 133h2v2h-2zM99 135h2v2h-2zM101 130h2v2h-2zM101 128h2v2h-2zM100 129h2v2h-2zM101 143h2v2h-2zM100 133h2v2h-2zM101 128h2v2h-2zM102 141h2v2h-2zM102 134h2v2h-2zM101 130h2v2h-2zM102 131h2v2h-2zM102 124h2v2h-2zM103 136h2v2h-2zM102 136h2v2h-2zM102 129h2v2h-2zM102 133h2v2h-2zM103 132h2v2h-2zM103 138h2v2h-2zM102 127h2v2h-2zM104 131h2v2h-2zM103 127h2v2h-2zM103 136h2v2h-2zM103 131h2v2h-2zM103 131h2v2h-2zM103 133h2v2h-2zM103 128h2v2h-2zM105 129h2v2h-2zM105 131h2v2h-2zM105 127h2v2h-2zM105 130h2v2h-2zM105 132h2v2h-2zM106 127h2v2h-2zM105 130h2v2h-2zM106 136h2v2h-2zM105 127h2v2h-2zM106 130h2v2h-2zM106 126h2v2h-2zM106 121h2v2h-2zM107 132h2v2h-2zM108 131h2v2h-2zM107 138h2v2h-2zM109 140h2v2h-2zM108 139h2v2h-2zM110 137h2v2h-2zM109 142h2v2h-2zM114 130h2v2h-2zM114 133h2v2h-2zM115 138h2v2h-2zM115 139h2v2h-2zM114 144h2v2h-2zM115 145h2v2h-2zM117 142h2v2h-2zM117 147h2v2h-2zM118 137h2v2h-2zM118 144h2v2h-2zM118 132h2v2h-2zM117 137h2v2h-2zM119 135h2v2h-2zM119 133h2v2h-2zM118 135h2v2h-2zM118 141h2v2h-2zM119 137h2v2h-2zM119 124h2v2h-2zM119 128h2v2h-2zM120 122h2v2h-2zM120 124h2v2h-2zM120 125h2v2h-2zM120 123h2v2h-2zM121 125h2v2h-2zM121 119h2v2h-2zM121 124h2v2h-2zM121 123h2v2h-2zM121 127h2v2h-2zM121 135h2v2h-2zM121 128h2v2h-2zM121 125h2v2h-2zM121 125h2v2h-2zM123 132h2v2h-2zM122 135h2v2h-2zM123 123h2v2h-2zM125 116h2v2h-2zM124 129h2v2h-2zM124 116h2v2h-2zM125 123h2v2h-2zM124 128h2v2h-2zM125 130h2v2h-2zM126 121h2v2h-2zM125 117h2v2h-2zM126 126h2v2h-2zM125 122h2v2h-2zM125 117h2v2h-2zM125 127h2v2h-2zM125 120h2v2h-2zM126 124h2v2h-2zM125 122h2v2h-2zM126 127h2v2h-2zM126 125h2v2h-2zM127 128h2v2h-2zM126 130h2v2h-2zM127 121h2v2h-2zM126 122h2v2h-2zM127 118h2v2h-2zM127 122h2v2h-2zM126 119h2v2h-2zM126 119h2v2h-2zM128 118h2v2h-2zM128 126h2v2h-2zM127 113h2v2h-2zM127 128h2v2h-2zM127 123h2v2h-2zM127 126h2v2h-2zM127 123h2v2h-2zM128 121h2v2h-2zM128 126h2v2h-2zM128 122h2v2h-2zM127 124h2v2h-2zM129 131h2v2h-2zM129 122h2v2h-2zM128 122h2v2h-2zM129 127h2v2h-2zM129 131h2v2h-2zM130 133h2v2h-2zM129 133h2v2h-2zM130 129h2v2h-2zM129 133h2v2h-2zM130 125h2v2h-2zM130 135h2v2h-2zM129 133h2v2h-2zM131 124h2v2h-2zM130 127h2v2h-2zM131 125h2v2h-2zM131 127h2v2h-2zM131 128h2v2h-2zM131 130h2v2h-2zM130 122h2v2h-2zM130 123h2v2h-2zM132 127h2v2h-2zM132 124h2v2h-2zM132 121h2v2h-2zM131 132h2v2h-2zM132 131h2v2h-2zM133 132h2v2h-2zM132 134h2v2h-2zM132 122h2v2h-2zM132 127h2v2h-2zM134 125h2v2h-2zM134 128h2v2h-2zM133 121h2v2h-2zM133 120h2v2h-2zM135 136h2v2h-2zM134 130h2v2h-2zM134 134h2v2h-2zM136 130h2v2h-2zM136 143h2v2h-2zM136 133h2v2h-2zM136 137h2v2h-2zM137 129h2v2h-2zM136 134h2v2h-2zM138 143h2v2h-2zM137 136h2v2h-2zM138 135h2v2h-2zM138 139h2v2h-2zM139 133h2v2h-2zM139 133h2v2h-2zM139 131h2v2h-2zM140 133h2v2h-2zM140 144h2v2h-2zM140 142h2v2h-2zM141 141h2v2h-2zM140 136h2v2h-2zM140 147h2v2h-2zM140 141h2v2h-2zM142 140h2v2h-2zM141 139h2v2h-2zM141 139h2v2h-2zM143 135h2v2h-2zM142 129h2v2h-2zM143 134h2v2h-2zM143 140h2v2h-2zM144 133h2v2h-2zM144 144h2v2h-2zM144 129h2v2h-2zM144 144h2v2h-2zM144 139h2v2h-2zM144 142h2v2h-2zM144 137h2v2h-2zM145 137h2v2h-2zM145 130h2v2h-2zM146 138h2v2h-2zM146 134h2v2h-2zM146 128h2v2h-2zM146 143h2v2h-2zM147 135h2v2h-2zM147 134h2v2h-2zM146 138h2v2h-2zM147 137h2v2h-2zM147 143h2v2h-2zM148 136h2v2h-2zM147 135h2v2h-2zM147 141h2v2h-2zM148 136h2v2h-2zM147 139h2v2h-2zM147 144h2v2h-2zM147 133h2v2h-2zM148 140h2v2h-2zM149 147h2v2h-2zM148 135h2v2h-2zM148 136h2v2h-2zM148 143h2v2h-2zM149 138h2v2h-2zM150 135h2v2h-2zM149 144h2v2h-2zM151 141h2v2h-2zM152 135h2v2h-2zM151 143h2v2h-2zM152 136h2v2h-2zM152 146h2v2h-2zM151 144h2v2h-2zM153 147h2v2h-2zM153 138h2v2h-2zM153 141h2v2h-2zM153 145h2v2h-2zM152 141h2v2h-2zM152 141h2v2h-2zM152 136h2v2h-2zM153 147h2v2h-2zM154 142h2v2h-2zM154 148h2v2h-2zM154 130h2v2h-2zM155 129h2v2h-2zM154 143h2v2h-2zM154 139h2v2h-2zM155 147h2v2h-2zM155 139h2v2h-2zM155 134h2v2h-2zM156 140h2v2h-2zM155 143h2v2h-2zM155 132h2v2h-2zM155 141h2v2h-2zM156 134h2v2h-2zM157 141h2v2h-2zM157 136h2v2h-2zM157 141h2v2h-2zM156 141h2v2h-2zM157 138h2v2h-2zM156 147h2v2h-2zM156 138h2v2h-2zM156 131h2v2h-2zM156 142h2v2h-2zM157 137h2v2h-2zM158 134h2v2h-2zM158 138h2v2h-2zM157 138h2v2h-2zM158 142h2v2h-2zM157 134h2v2h-2zM158 136h2v2h-2zM158 147h2v2h-2zM160 133h2v2h-2zM161 140h2v2h-2zM161 140h2v2h-2zM161 145h2v2h-2zM162 133h2v2h-2zM162 139h2v2h-2zM162 130h2v2h-2zM162 138h2v2h-2zM162 141h2v2h-2zM163 138h2v2h-2zM163 131h2v2h-2zM163 139h2v2h-2zM165 143h2v2h-2zM165 144h2v2h-2zM165 137h2v2h-2zM165 141h2v2h-2zM165 145h2v2h-2zM165 134h2v2h-2zM166 139h2v2h-2zM167 139h2v2h-2zM166 139h2v2h-2zM167 129h2v2h-2zM166 141h2v2h-2zM166 135h2v2h-2zM167 145h2v2h-2zM167 134h2v2h-2zM168 141h2v2h-2zM169 135h2v2h-2zM169 136h2v2h-2zM169 147h2v2h-2zM170 129h2v2h-2zM170 145h2v2h-2zM169 142h2v2h-2zM169 138h2v2h-2zM171 143h2v2h-2zM170 137h2v2h-2zM170 136h2v2h-2zM170 133h2v2h-2zM172 147h2v2h-2zM174 139h2v2h-2zM174 141h2v2h-2zM174 145h2v2h-2zM175 131h2v2h-2zM176 143h2v2h-2zM176 130h2v2h-2zM176 131h2v2h-2zM176 142h2v2h-2zM178 141h2v2h-2zM177 135h2v2h-2zM178 141h2v2h-2zM177 130h2v2h-2zM178 135h2v2h-2zM179 145h2v2h-2zM178 143h2v2h-2zM178 135h2v2h-2zM179 144h2v2h-2zM179 133h2v2h-2zM179 142h2v2h-2zM180 135h2v2h-2zM179 143h2v2h-2zM179 144h2v2h-2zM180 135h2v2h-2zM179 134h2v2h-2zM180 139h2v2h-2zM180 135h2v2h-2zM181 136h2v2h-2zM182 140h2v2h-2zM181 136h2v2h-2zM181 142h2v2h-2zM181 147h2v2h-2zM182 139h2v2h-2zM181 139h2v2h-2zM182 138h2v2h-2zM183 141h2v2h-2zM183 132h2v2h-2zM182 144h2v2h-2zM183 140h2v2h-2zM182 140h2v2h-2zM184 133h2v2h-2zM184 145h2v2h-2zM184 127h2v2h-2zM183 139h2v2h-2zM183 137h2v2h-2zM184 136h2v2h-2zM185 138h2v2h-2zM185 146h2v2h-2zM185 144h2v2h-2zM184 135h2v2h-2zM185 140h2v2h-2zM185 131h2v2h-2zM185 134h2v2h-2zM186 131h2v2h-2zM187 134h2v2h-2zM188 129h2v2h-2zM187 143h2v2h-2zM188 133h2v2h-2zM188 136h2v2h-2zM188 142h2v2h-2zM189 128h2v2h-2zM189 132h2v2h-2zM189 142h2v2h-2zM189 139h2v2h-2zM190 137h2v2h-2zM190 136h2v2h-2zM190 142h2v2h-2zM190 134h2v2h-2zM191 142h2v2h-2zM190 134h2v2h-2zM192 136h2v2h-2zM192 138h2v2h-2zM192 143h2v2h-2zM193 143h2v2h-2zM192 139h2v2h-2zM192 145h2v2h-2zM193 144h2v2h-2zM192 148h2v2h-2zM192 133h2v2h-2zM193 145h2v2h-2zM194 136h2v2h-2zM194 140h2v2h-2zM195 141h2v2h-2zM195 138h2v2h-2zM195 146h2v2h-2zM196 138h2v2h-2zM196 145h2v2h-2zM197 143h2v2h-2zM197 141h2v2h-2zM196 142h2v2h-2zM198 143h2v2h-2zM198 144h2v2h-2zM198 131h2v2h-2zM198 144h2v2h-2zM197 137h2v2h-2zM198 143h2v2h-2zM198 144h2v2h-2zM198 139h2v2h-2zM198 140h2v2h-2zM198 133h2v2h-2zM199 143h2v2h-2zM198 144h2v2h-2zM199 134h2v2h-2zM200 133h2v2h-2zM199 132h2v2h-2zM200 143h2v2h-2zM200 147h2v2h-2zM199 140h2v2h-2zM199 138h2v2h-2zM199 147h2v2h-2zM199 143h2v2h-2zM200 140h2v2h-2zM200 140h2v2h-2zM199 137h2v2h-2zM200 147h2v2h-2zM201 143h2v2h-2zM201 139h2v2h-2zM201 141h2v2h-2zM201 144h2v2h-2zM200 132h2v2h-2zM200 133h2v2h-2zM200 136h2v2h-2zM201 136h2v2h-2zM201 137h2v2h-2zM201 142h2v2h-2zM201 130h2v2h-2zM201 138h2v2h-2zM202 142h2v2h-2zM202 136h2v2h-2zM202 143h2v2h-2zM203 135h2v2h-2zM203 146h2v2h-2zM203 145h2v2h-2zM203 131h2v2h-2zM203 139h2v2h-2zM204 134h2v2h-2zM204 138h2v2h-2zM205 145h2v2h-2zM204 140h2v2h-2zM206 140h2v2h-2zM205 140h2v2h-2zM206 137h2v2h-2zM205 137h2v2h-2zM205 143h2v2h-2zM205 132h2v2h-2zM205 133h2v2h-2zM207 139h2v2h-2zM208 133h2v2h-2zM207 135h2v2h-2zM210 139h2v2h-2zM210 143h2v2h-2zM211 145h2v2h-2zM210 140h2v2h-2zM211 136h2v2h-2zM211 129h2v2h-2zM211 137h2v2h-2zM213 141h2v2h-2zM212 138h2v2h-2zM212 140h2v2h-2zM214 144h2v2h-2zM213 124h2v2h-2zM214 139h2v2h-2zM213 135h2v2h-2zM213 144h2v2h-2zM215 136h2v2h-2zM214 139h2v2h-2zM214 135h2v2h-2zM214 143h2v2h-2zM215 137h2v2h-2zM216 136h2v2h-2zM216 142h2v2h-2zM216 135h2v2h-2zM216 135h2v2h-2zM215 141h2v2h-2zM215 139h2v2h-2zM217 138h2v2h-2zM217 138h2v2h-2zM216 140h2v2h-2zM217 142h2v2h-2zM216 138h2v2h-2zM217 138h2v2h-2zM218 142h2v2h-2zM217 143h2v2h-2zM218 136h2v2h-2zM218 147h2v2h-2zM217 142h2v2h-2zM219 144h2v2h-2zM219 141h2v2h-2zM219 146h2v2h-2zM219 144h2v2h-2zM219 142h2v2h-2zM221 142h2v2h-2zM221 148h2v2h-2zM221 136h2v2h-2zM220 127h2v2h-2zM222 139h2v2h-2zM222 141h2v2h-2zM221 136h2v2h-2zM221 135h2v2h-2zM222 138h2v2h-2zM222 145h2v2h-2zM221 133h2v2h-2zM223 138h2v2h-2zM223 140h2v2h-2zM222 141h2v2h-2zM222 139h2v2h-2zM222 147h2v2h-2zM223 136h2v2h-2zM224 145h2v2h-2zM224 135h2v2h-2zM224 134h2v2h-2zM223 137h2v2h-2zM224 134h2v2h-2zM224 134h2v2h-2zM223 146h2v2h-2zM225 140h2v2h-2zM225 132h2v2h-2zM225 138h2v2h-2zM225 127h2v2h-2zM226 144h2v2h-2zM227 144h2v2h-2zM226 141h2v2h-2zM226 137h2v2h-2zM226 139h2v2h-2zM227 136h2v2h-2zM227 133h2v2h-2zM228 142h2v2h-2zM227 133h2v2h-2zM228 141h2v2h-2zM228 137h2v2h-2zM229 139h2v2h-2zM228 144h2v2h-2zM228 139h2v2h-2zM229 146h2v2h-2zM229 140h2v2h-2zM229 140h2v2h-2zM230 142h2v2h-2zM230 133h2v2h-2zM230 140h2v2h-2zM230 133h2v2h-2zM232 146h2v2h-2zM232 146h2v2h-2zM233 137h2v2h-2zM232 135h2v2h-2zM233 136h2v2h-2zM236 131h2v2h-2zM235 140h2v2h-2zM236 127h2v2h-2zM236 137h2v2h-2zM237 144h2v2h-2zM237 141h2v2h-2zM236 138h2v2h-2zM236 145h2v2h-2zM237 147h2v2h-2zM237 140h2v2h-2zM237 139h2v2h-2zM237 135h2v2h-2zM238 138h2v2h-2zM238 148h2v2h-2zM238 140h2v2h-2zM238 137h2v2h-2zM238 139h2v2h-2zM238 147h2v2h-2zM238 144h2v2h-2zM238 138h2v2h-2zM239 147h2v2h-2zM238 135h2v2h-2zM239 134h2v2h-2zM239 141h2v2h-2zM238 137h2v2h-2zM239 144h2v2h-2zM239 146h2v2h-2zM240 136h2v2h-2zM243 135h2v2h-2zM243 148h2v2h-2zM242 146h2v2h-2zM242 135h2v2h-2zM242 143h2v2h-2zM244 141h2v2h-2zM243 139h2v2h-2zM244 140h2v2h-2zM245 133h2v2h-2zM244 141h2v2h-2zM247 130h2v2h-2zM246 136h2v2h-2zM247 145h2v2h-2zM247 139h2v2h-2zM247 144h2v2h-2zM247 137h2v2h-2zM247 132h2v2h-2zM249 136h2v2h-2zM248 138h2v2h-2zM250 134h2v2h-2zM249 136h2v2h-2zM250 140h2v2h-2zM250 133h2v2h-2zM250 140h2v2h-2zM249 133h2v2h-2zM249 145h2v2h-2zM251 132h2v2h-2zM250 133h2v2h-2zM252 135h2v2h-2zM251 140h2v2h-2zM251 133h2v2h-2zM251 137h2v2h-2zM252 143h2v2h-2zM251 145h2v2h-2zM252 147h2v2h-2zM252 143h2v2h-2zM253 137h2v2h-2zM252 143h2v2h-2zM253 136h2v2h-2zM253 136h2v2h-2zM252 140h2v2h-2zM254 138h2v2h-2zM254 131h2v2h-2zM253 132h2v2h-2zM253 137h2v2h-2zM255 137h2v2h-2zM255 140h2v2h-2zM256 135h2v2h-2zM256 145h2v2h-2zM256 145h2v2h-2zM256 139h2v2h-2zM257 137h2v2h-2zM257 136h2v2h-2zM257 141h2v2h-2zM257 145h2v2h-2zM258 131h2v2h-2zM259 131h2v2h-2zM260 137h2v2h-2zM260 143h2v2h-2zM261 142h2v2h-2zM261 135h2v2h-2zM261 144h2v2h-2zM260 144h2v2h-2zM262 142h2v2h-2zM261 142h2v2h-2zM262 147h2v2h-2zM262 136h2v2h-2zM262 137h2v2h-2zM262 125h2v2h-2zM263 140h2v2h-2zM263 140h2v2h-2zM263 139h2v2h-2zM262 139h2v2h-2zM263 127h2v2h-2zM263 139h2v2h-2zM264 142h2v2h-2zM264 143h2v2h-2zM263 145h2v2h-2zM264 142h2v2h-2zM264 136h2v2h-2zM265 135h2v2h-2zM265 138h2v2h-2zM265 146h2v2h-2zM265 138h2v2h-2zM264 134h2v2h-2zM265 142h2v2h-2zM264 128h2v2h-2zM266 139h2v2h-2zM265 140h2v2h-2zM267 144h2v2h-2zM267 145h2v2h-2zM267 141h2v2h-2zM268 138h2v2h-2zM269 145h2v2h-2zM270 145h2v2h-2zM269 141h2v2h-2zM269 140h2v2h-2zM269 142h2v2h-2zM269 130h2v2h-2zM270 144h2v2h-2zM271 146h2v2h-2zM271 133h2v2h-2zM271 144h2v2h-2zM270 131h2v2h-2zM271 142h2v2h-2zM271 141h2v2h-2zM271 138h2v2h-2zM270 138h2v2h-2zM271 136h2v2h-2zM271 138h2v2h-2zM270 147h2v2h-2zM272 139h2v2h-2zM272 141h2v2h-2zM271 140h2v2h-2zM272 139h2v2h-2zM272 132h2v2h-2zM273 136h2v2h-2zM272 142h2v2h-2zM273 137h2v2h-2zM272 140h2v2h-2zM273 144h2v2h-2zM274 140h2v2h-2zM274 136h2v2h-2zM274 138h2v2h-2zM275 133h2v2h-2zM276 143h2v2h-2zM276 133h2v2h-2zM275 130h2v2h-2zM276 139h2v2h-2zM275 138h2v2h-2zM277 145h2v2h-2zM277 135h2v2h-2zM277 138h2v2h-2zM276 144h2v2h-2zM277 144h2v2h-2zM276 142h2v2h-2zM276 137h2v2h-2zM277 136h2v2h-2zM277 143h2v2h-2zM278 130h2v2h-2zM277 134h2v2h-2zM277 139h2v2h-2zM277 142h2v2h-2zM277 143h2v2h-2zM278 143h2v2h-2zM277 142h2v2h-2zM277 146h2v2h-2zM277 135h2v2h-2zM278 143h2v2h-2zM278 139h2v2h-2zM278 137h2v2h-2zM278 147h2v2h-2zM278 136h2v2h-2zM279 138h2v2h-2zM279 142h2v2h-2zM278 138h2v2h-2zM278 142h2v2h-2zM279 139h2v2h-2zM279 142h2v2h-2zM279 141h2v2h-2zM279 140h2v2h-2zM279 140h2v2h-2zM279 139h2v2h-2zM279 145h2v2h-2zM280 140h2v2h-2zM281 138h2v2h-2zM281 139h2v2h-2zM281 141h2v2h-2zM280 135h2v2h-2zM282 140h2v2h-2zM282 135h2v2h-2zM281 136h2v2h-2zM282 140h2v2h-2zM281 144h2v2h-2zM281 133h2v2h-2zM281 141h2v2h-2zM281 135h2v2h-2zM281 143h2v2h-2zM281 138h2v2h-2zM281 137h2v2h-2zM283 132h2v2h-2zM282 147h2v2h-2zM283 140h2v2h-2zM283 144h2v2h-2zM282 141h2v2h-2zM283 140h2v2h-2zM284 138h2v2h-2zM283 134h2v2h-2zM284 137h2v2h-2zM283 138h2v2h-2zM284 138h2v2h-2zM285 138h2v2h-2zM284 123h2v2h-2zM285 137h2v2h-2zM284 143h2v2h-2zM286 135h2v2h-2zM285 141h2v2h-2zM286 147h2v2h-2zM286 136h2v2h-2zM285 143h2v2h-2zM285 135h2v2h-2zM286 138h2v2h-2zM286 134h2v2h-2zM287 139h2v2h-2zM286 145h2v2h-2zM286 130h2v2h-2zM287 140h2v2h-2zM287 138h2v2h-2zM287 137h2v2h-2zM287 136h2v2h-2zM288 142h2v2h-2zM288 141h2v2h-2zM288 135h2v2h-2zM289 138h2v2h-2zM288 143h2v2h-2zM288 132h2v2h-2zM288 140h2v2h-2zM288 137h2v2h-2zM289 138h2v2h-2zM290 140h2v2h-2zM289 136h2v2h-2zM289 126h2v2h-2zM289 145h2v2h-2zM290 146h2v2h-2zM290 144h2v2h-2zM291 143h2v2h-2zM292 139h2v2h-2zM292 140h2v2h-2zM292 136h2v2h-2zM292 144h2v2h-2zM292 138h2v2h-2zM293 136h2v2h-2zM294 139h2v2h-2zM294 131h2v2h-2zM293 146h2v2h-2zM293 139h2v2h-2zM295 135h2v2h-2zM295 128h2v2h-2zM295 142h2v2h-2zM294 140h2v2h-2zM294 140h2v2h-2zM295 132h2v2h-2zM295 145h2v2h-2zM295 135h2v2h-2zM295 138h2v2h-2zM295 140h2v2h-2zM295 142h2v2h-2zM296 133h2v2h-2zM295 139h2v2h-2zM296 126h2v2h-2zM296 129h2v2h-2zM296 123h2v2h-2zM296 124h2v2h-2zM296 123h2v2h-2zM297 130h2v2h-2zM297 125h2v2h-2zM296 136h2v2h-2zM296 123h2v2h-2zM297 123h2v2h-2zM297 120h2v2h-2zM297 129h2v2h-2zM296 129h2v2h-2zM297 128h2v2h-2zM296 134h2v2h-2zM296 136h2v2h-2zM297 134h2v2h-2zM298 128h2v2h-2zM298 124h2v2h-2zM297 127h2v2h-2zM297 127h2v2h-2zM298 135h2v2h-2zM297 128h2v2h-2zM298 130h2v2h-2zM297 132h2v2h-2zM297 122h2v2h-2zM297 124h2v2h-2zM298 125h2v2h-2zM298 126h2v2h-2zM299 120h2v2h-2zM299 119h2v2h-2zM299 124h2v2h-2zM299 117h2v2h-2zM298 124h2v2h-2zM299 120h2v2h-2zM298 122h2v2h-2zM299 122h2v2h-2zM298 120h2v2h-2zM299 125h2v2h-2zM298 124h2v2h-2zM298 123h2v2h-2zM299 128h2v2h-2zM298 122h2v2h-2zM299 118h2v2h-2zM299 129h2v2h-2zM298 123h2v2h-2zM298 132h2v2h-2zM298 118h2v2h-2zM299 132h2v2h-2zM299 127h2v2h-2zM299 124h2v2h-2zM299 118h2v2h-2zM300 128h2v2h-2zM299 131h2v2h-2zM299 126h2v2h-2zM300 123h2v2h-2zM300 124h2v2h-2zM300 126h2v2h-2zM299 115h2v2h-2zM299 122h2v2h-2zM299 128h2v2h-2zM300 126h2v2h-2zM299 124h2v2h-2zM300 120h2v2h-2zM299 129h2v2h-2zM300 120h2v2h-2zM301 121h2v2h-2zM300 119h2v2h-2zM300 124h2v2h-2zM300 120h2v2h-2zM301 126h2v2h-2zM300 129h2v2h-2zM300 132h2v2h-2zM300 114h2v2h-2zM301 128h2v2h-2zM301 128h2v2h-2zM301 125h2v2h-2zM301 130h2v2h-2zM302 122h2v2h-2zM302 122h2v2h-2zM301 123h2v2h-2zM302 131h2v2h-2zM302 120h2v2h-2zM302 127h2v2h-2zM302 122h2v2h-2zM302 124h2v2h-2zM301 132h2v2h-2zM302 129h2v2h-2zM302 123h2v2h-2zM302 134h2v2h-2zM303 130h2v2h-2zM302 115h2v2h-2zM303 116h2v2h-2zM303 120h2v2h-2zM303 128h2v2h-2zM304 125h2v2h-2zM304 120h2v2h-2zM305 124h2v2h-2zM305 128h2v2h-2zM304 118h2v2h-2zM305 121h2v2h-2zM305 121h2v2h-2zM304 125h2v2h-2zM305 119h2v2h-2zM304 127h2v2h-2zM306 125h2v2h-2zM306 127h2v2h-2zM306 125h2v2h-2zM305 134h2v2h-2zM305 118h2v2h-2zM305 118h2v2h-2zM306 125h2v2h-2zM305 129h2v2h-2zM306 120h2v2h-2zM306 118h2v2h-2zM306 113h2v2h-2zM306 120h2v2h-2zM307 119h2v2h-2zM306 122h2v2h-2zM307 116h2v2h-2zM306 119h2v2h-2zM307 127h2v2h-2zM307 126h2v2h-2zM308 126h2v2h-2zM307 125h2v2h-2zM307 117h2v2h-2zM307 128h2v2h-2zM308 124h2v2h-2zM308 129h2v2h-2zM309 123h2v2h-2zM308 116h2v2h-2zM308 115h2v2h-2zM309 124h2v2h-2zM308 120h2v2h-2zM310 123h2v2h-2zM309 129h2v2h-2zM311 121h2v2h-2zM310 118h2v2h-2zM311 126h2v2h-2zM310 129h2v2h-2zM311 124h2v2h-2zM310 116h2v2h-2zM310 112h2v2h-2zM311 123h2v2h-2zM311 118h2v2h-2zM312 119h2v2h-2zM312 113h2v2h-2zM311 117h2v2h-2zM312 125h2v2h-2zM311 125h2v2h-2zM312 127h2v2h-2zM312 124h2v2h-2zM311 134h2v2h-2zM311 123h2v2h-2zM311 126h2v2h-2zM312 120h2v2h-2zM312 133h2v2h-2zM312 118h2v2h-2zM312 118h2v2h-2zM313 117h2v2h-2zM313 126h2v2h-2zM314 128h2v2h-2zM314 121h2v2h-2zM314 119h2v2h-2zM314 123h2v2h-2zM314 130h2v2h-2zM315 114h2v2h-2zM315 117h2v2h-2zM315 126h2v2h-2zM315 123h2v2h-2zM315 125h2v2h-2zM315 125h2v2h-2zM316 120h2v2h-2zM315 128h2v2h-2zM315 120h2v2h-2zM316 117h2v2h-2zM315 123h2v2h-2zM316 123h2v2h-2zM317 114h2v2h-2zM317 123h2v2h-2zM316 120h2v2h-2zM317 123h2v2h-2zM316 123h2v2h-2zM316 123h2v2h-2zM317 122h2v2h-2zM318 122h2v2h-2zM317 123h2v2h-2zM318 130h2v2h-2zM317 123h2v2h-2zM318 121h2v2h-2zM318 118h2v2h-2zM317 128h2v2h-2zM319 123h2v2h-2zM318 123h2v2h-2zM320 126h2v2h-2zM320 127h2v2h-2zM319 119h2v2h-2zM321 119h2v2h-2zM324 123h2v2h-2zM324 122h2v2h-2zM325 121h2v2h-2zM324 118h2v2h-2zM325 114h2v2h-2zM326 120h2v2h-2zM326 124h2v2h-2zM326 124h2v2h-2zM327 127h2v2h-2zM326 121h2v2h-2zM327 114h2v2h-2zM327 121h2v2h-2zM327 117h2v2h-2zM326 120h2v2h-2zM326 109h2v2h-2zM328 119h2v2h-2zM327 135h2v2h-2zM328 126h2v2h-2zM328 126h2v2h-2zM327 116h2v2h-2zM328 131h2v2h-2zM327 119h2v2h-2zM327 115h2v2h-2zM327 118h2v2h-2zM328 120h2v2h-2zM328 121h2v2h-2zM327 122h2v2h-2zM328 118h2v2h-2zM329 122h2v2h-2zM328 117h2v2h-2zM329 120h2v2h-2zM328 118h2v2h-2zM328 116h2v2h-2zM330 126h2v2h-2zM330 124h2v2h-2zM329 122h2v2h-2zM329 114h2v2h-2zM329 120h2v2h-2zM329 116h2v2h-2zM329 124h2v2h-2zM330 124h2v2h-2zM330 118h2v2h-2zM331 124h2v2h-2zM331 126h2v2h-2zM330 126h2v2h-2zM330 120h2v2h-2zM330 118h2v2h-2zM331 118h2v2h-2zM331 119h2v2h-2zM332 123h2v2h-2zM331 126h2v2h-2zM332 122h2v2h-2zM332 119h2v2h-2zM332 121h2v2h-2zM333 117h2v2h-2zM334 119h2v2h-2zM333 118h2v2h-2zM334 121h2v2h-2zM333 131h2v2h-2zM334 120h2v2h-2zM333 117h2v2h-2zM333 122h2v2h-2zM335 118h2v2h-2zM335 108h2v2h-2zM334 117h2v2h-2zM336 116h2v2h-2zM335 116h2v2h-2zM336 115h2v2h-2zM335 121h2v2h-2zM336 117h2v2h-2zM336 115h2v2h-2zM337 113h2v2h-2zM336 118h2v2h-2zM337 111h2v2h-2zM336 123h2v2h-2zM337 105h2v2h-2zM338 120h2v2h-2zM337 115h2v2h-2zM337 119h2v2h-2zM339 111h2v2h-2zM338 113h2v2h-2zM338 114h2v2h-2zM338 115h2v2h-2zM339 115h2v2h-2zM341 120h2v2h-2zM341 115h2v2h-2zM340 112h2v2h-2zM341 102h2v2h-2zM341 119h2v2h-2zM341 115h2v2h-2zM340 109h2v2h-2zM340 116h2v2h-2zM342 120h2v2h-2zM341 109h2v2h-2zM341 119h2v2h-2zM341 115h2v2h-2zM342 119h2v2h-2zM343 116h2v2h-2zM342 114h2v2h-2zM344 121h2v2h-2zM344 116h2v2h-2zM344 118h2v2h-2zM344 112h2v2h-2zM344 125h2v2h-2zM345 117h2v2h-2zM344 110h2v2h-2zM345 117h2v2h-2zM346 114h2v2h-2zM345 112h2v2h-2zM345 120h2v2h-2zM345 116h2v2h-2zM346 119h2v2h-2zM346 113h2v2h-2zM347 122h2v2h-2zM346 112h2v2h-2zM346 126h2v2h-2zM346 114h2v2h-2zM347 112h2v2h-2zM348 113h2v2h-2zM348 114h2v2h-2zM348 123h2v2h-2zM347 124h2v2h-2zM348 116h2v2h-2zM347 116h2v2h-2zM349 107h2v2h-2zM348 114h2v2h-2zM348 112h2v2h-2zM349 114h2v2h-2zM348 118h2v2h-2zM348 114h2v2h-2zM349 114h2v2h-2zM349 115h2v2h-2zM349 115h2v2h-2zM349 116h2v2h-2zM350 117h2v2h-2zM350 115h2v2h-2zM350 118h2v2h-2zM350 112h2v2h-2zM349 119h2v2h-2zM349 120h2v2h-2zM349 121h2v2h-2zM350 123h2v2h-2zM350 109h2v2h-2zM351 114h2v2h-2zM351 117h2v2h-2zM351 115h2v2h-2zM350 110h2v2h-2zM351 114h2v2h-2zM350 119h2v2h-2zM351 120h2v2h-2zM350 112h2v2h-2zM351 119h2v2h-2zM352 116h2v2h-2zM351 115h2v2h-2zM352 119h2v2h-2zM352 107h2v2h-2zM353 113h2v2h-2zM353 110h2v2h-2zM353 112h2v2h-2zM354 116h2v2h-2zM354 110h2v2h-2zM354 112h2v2h-2zM354 121h2v2h-2zM354 116h2v2h-2zM354 116h2v2h-2zM356 106h2v2h-2zM355 109h2v2h-2zM356 108h2v2h-2zM356 118h2v2h-2zM356 117h2v2h-2zM358 116h2v2h-2zM357 112h2v2h-2zM357 117h2v2h-2zM357 120h2v2h-2zM359 111h2v2h-2zM359 117h2v2h-2zM359 117h2v2h-2zM360 113h2v2h-2zM360 111h2v2h-2zM360 115h2v2h-2zM360 111h2v2h-2zM359 110h2v2h-2zM360 114h2v2h-2zM360 111h2v2h-2zM360 106h2v2h-2zM360 116h2v2h-2zM360 112h2v2h-2zM359 116h2v2h-2zM360 115h2v2h-2zM360 118h2v2h-2zM361 108h2v2h-2zM361 115h2v2h-2zM360 129h2v2h-2zM360 109h2v2h-2zM361 108h2v2h-2zM360 112h2v2h-2zM360 107h2v2h-2zM360 102h2v2h-2zM362 110h2v2h-2zM361 122h2v2h-2zM362 117h2v2h-2zM362 106h2v2h-2zM362 113h2v2h-2zM361 107h2v2h-2zM362 107h2v2h-2zM362 106h2v2h-2zM363 114h2v2h-2zM363 103h2v2h-2zM363 109h2v2h-2zM363 115h2v2h-2zM364 114h2v2h-2zM365 104h2v2h-2zM365 114h2v2h-2zM364 119h2v2h-2zM364 118h2v2h-2zM364 113h2v2h-2zM365 107h2v2h-2zM365 114h2v2h-2zM366 111h2v2h-2zM366 109h2v2h-2zM367 126h2v2h-2zM367 107h2v2h-2zM368 108h2v2h-2zM368 115h2v2h-2zM367 113h2v2h-2zM369 108h2v2h-2zM368 110h2v2h-2zM368 125h2v2h-2zM369 108h2v2h-2zM368 105h2v2h-2zM369 108h2v2h-2zM368 109h2v2h-2zM369 114h2v2h-2zM369 106h2v2h-2zM369 119h2v2h-2zM369 113h2v2h-2zM369 115h2v2h-2zM370 110h2v2h-2zM370 111h2v2h-2zM371 107h2v2h-2zM371 107h2v2h-2zM371 114h2v2h-2zM371 114h2v2h-2zM371 113h2v2h-2zM372 110h2v2h-2zM371 114h2v2h-2zM371 108h2v2h-2zM371 115h2v2h-2zM371 109h2v2h-2zM371 111h2v2h-2zM371 101h2v2h-2zM373 106h2v2h-2zM373 121h2v2h-2zM373 114h2v2h-2zM374 118h2v2h-2zM373 109h2v2h-2zM375 109h2v2h-2zM374 114h2v2h-2zM374 104h2v2h-2zM375 114h2v2h-2zM376 108h2v2h-2zM375 111h2v2h-2zM376 108h2v2h-2zM376 118h2v2h-2zM375 115h2v2h-2zM375 112h2v2h-2zM375 120h2v2h-2zM376 116h2v2h-2zM376 117h2v2h-2zM376 114h2v2h-2zM377 112h2v2h-2zM377 104h2v2h-2zM376 112h2v2h-2zM377 115h2v2h-2zM377 113h2v2h-2zM377 114h2v2h-2zM377 122h2v2h-2zM377 117h2v2h-2zM378 107h2v2h-2zM377 112h2v2h-2zM379 111h2v2h-2zM379 107h2v2h-2zM381 117h2v2h-2zM380 102h2v2h-2zM381 116h2v2h-2zM380 109h2v2h-2zM380 105h2v2h-2zM380 114h2v2h-2zM381 118h2v2h-2zM380 110h2v2h-2zM382 114h2v2h-2zM381 108h2v2h-2zM382 108h2v2h-2zM382 104h2v2h-2zM382 105h2v2h-2zM382 116h2v2h-2zM381 120h2v2h-2zM381 112h2v2h-2zM382 107h2v2h-2zM382 108h2v2h-2zM381 109h2v2h-2zM381 119h2v2h-2zM382 105h2v2h-2zM381 111h2v2h-2zM382 102h2v2h-2zM383 110h2v2h-2zM383 109h2v2h-2zM382 116h2v2h-2zM383 111h2v2h-2zM383 107h2v2h-2zM383 110h2v2h-2zM383 110h2v2h-2zM383 106h2v2h-2zM382 113h2v2h-2zM382 103h2v2h-2zM383 104h2v2h-2zM382 106h2v2h-2zM383 113h2v2h-2zM383 120h2v2h-2zM383 113h2v2h-2zM383 102h2v2h-2zM384 110h2v2h-2zM384 111h2v2h-2zM383 107h2v2h-2zM383 107h2v2h-2zM383 108h2v2h-2zM384 116h2v2h-2zM384 118h2v2h-2zM384 107h2v2h-2zM385 106h2v2h-2zM384 110h2v2h-2zM384 108h2v2h-2zM384 109h2v2h-2zM384 117h2v2h-2zM385 108h2v2h-2zM384 111h2v2h-2zM384 103h2v2h-2zM385 114h2v2h-2zM386 112h2v2h-2zM386 112h2v2h-2zM385 99h2v2h-2zM386 114h2v2h-2zM386 109h2v2h-2zM386 110h2v2h-2zM387 93h2v2h-2zM386 115h2v2h-2zM387 103h2v2h-2zM386 114h2v2h-2zM386 107h2v2h-2zM387 105h2v2h-2zM386 111h2v2h-2zM387 108h2v2h-2zM386 115h2v2h-2zM387 113h2v2h-2zM387 110h2v2h-2zM387 106h2v2h-2zM386 110h2v2h-2zM386 117h2v2h-2zM386 112h2v2h-2zM388 98h2v2h-2zM387 107h2v2h-2zM387 103h2v2h-2zM388 113h2v2h-2zM388 111h2v2h-2zM388 124h2v2h-2zM387 112h2v2h-2zM388 114h2v2h-2zM387 116h2v2h-2zM388 106h2v2h-2zM387 112h2v2h-2zM387 115h2v2h-2zM387 105h2v2h-2zM388 103h2v2h-2zM387 116h2v2h-2zM387 125h2v2h-2zM389 116h2v2h-2zM388 126h2v2h-2zM389 105h2v2h-2zM389 120h2v2h-2zM388 109h2v2h-2zM388 111h2v2h-2zM388 112h2v2h-2zM389 116h2v2h-2zM388 122h2v2h-2zM389 121h2v2h-2zM388 116h2v2h-2zM388 116h2v2h-2zM388 114h2v2h-2zM390 113h2v2h-2zM389 104h2v2h-2zM389 106h2v2h-2zM389 123h2v2h-2zM390 105h2v2h-2zM389 102h2v2h-2zM390 113h2v2h-2zM391 115h2v2h-2zM390 112h2v2h-2zM391 109h2v2h-2zM391 113h2v2h-2zM390 110h2v2h-2zM390 114h2v2h-2zM391 110h2v2h-2zM392 117h2v2h-2zM392 120h2v2h-2zM392 115h2v2h-2zM392 112h2v2h-2zM391 113h2v2h-2zM391 110h2v2h-2zM392 115h2v2h-2zM391 112h2v2h-2zM392 116h2v2h-2zM392 118h2v2h-2zM391 109h2v2h-2zM391 120h2v2h-2zM392 94h2v2h-2zM392 111h2v2h-2zM393 114h2v2h-2zM393 114h2v2h-2zM392 98h2v2h-2zM392 103h2v2h-2zM393 115h2v2h-2zM392 109h2v2h-2zM392 102h2v2h-2zM392 117h2v2h-2zM392 103h2v2h-2zM393 114h2v2h-2zM393 107h2v2h-2zM393 110h2v2h-2zM394 112h2v2h-2zM393 117h2v2h-2zM394 114h2v2h-2zM394 119h2v2h-2zM394 107h2v2h-2zM393 111h2v2h-2zM394 113h2v2h-2zM393 117h2v2h-2zM394 107h2v2h-2zM394 111h2v2h-2zM395 110h2v2h-2zM394 114h2v2h-2zM395 113h2v2h-2zM395 109h2v2h-2zM394 105h2v2h-2zM395 113h2v2h-2zM394 105h2v2h-2zM394 106h2v2h-2zM394 106h2v2h-2zM394 110h2v2h-2zM395 107h2v2h-2zM395 111h2v2h-2zM395 112h2v2h-2zM396 111h2v2h-2zM396 119h2v2h-2zM397 119h2v2h-2zM397 121h2v2h-2zM397 104h2v2h-2zM398 108h2v2h-2zM398 109h2v2h-2zM398 112h2v2h-2zM397 105h2v2h-2zM398 112h2v2h-2zM397 113h2v2h-2zM399 114h2v2h-2zM399 110h2v2h-2zM399 102h2v2h-2zM399 116h2v2h-2zM399 111h2v2h-2zM399 102h2v2h-2zM399 106h2v2h-2zM399 117h2v2h-2zM399 108h2v2h-2zM399 106h2v2h-2zM400 109h2v2h-2zM401 107h2v2h-2zM400 107h2v2h-2zM400 106h2v2h-2zM400 94h2v2h-2zM400 108h2v2h-2zM400 104h2v2h-2zM400 104h2v2h-2zM402 112h2v2h-2zM401 105h2v2h-2zM401 107h2v2h-2zM402 98h2v2h-2zM402 107h2v2h-2zM402 101h2v2h-2zM401 100h2v2h-2zM401 107h2v2h-2zM402 113h2v2h-2zM402 107h2v2h-2zM401 105h2v2h-2zM402 104h2v2h-2zM402 109h2v2h-2zM403 108h2v2h-2zM402 102h2v2h-2zM403 104h2v2h-2zM403 107h2v2h-2zM403 108h2v2h-2zM402 101h2v2h-2zM403 104h2v2h-2zM402 107h2v2h-2zM403 106h2v2h-2zM403 102h2v2h-2zM403 105h2v2h-2zM404 110h2v2h-2zM404 107h2v2h-2zM404 106h2v2h-2zM404 109h2v2h-2zM404 99h2v2h-2zM404 98h2v2h-2zM405 115h2v2h-2zM404 103h2v2h-2zM404 106h2v2h-2zM405 111h2v2h-2zM405 107h2v2h-2zM405 98h2v2h-2zM405 95h2v2h-2zM404 99h2v2h-2zM405 106h2v2h-2zM405 109h2v2h-2zM405 101h2v2h-2zM406 111h2v2h-2zM406 107h2v2h-2zM405 104h2v2h-2zM405 104h2v2h-2zM405 106h2v2h-2zM406 111h2v2h-2zM405 103h2v2h-2zM405 95h2v2h-2zM406 103h2v2h-2zM405 100h2v2h-2zM407 106h2v2h-2zM406 115h2v2h-2zM407 107h2v2h-2zM406 98h2v2h-2zM406 115h2v2h-2zM407 103h2v2h-2zM407 108h2v2h-2zM406 119h2v2h-2zM408 110h2v2h-2zM408 103h2v2h-2zM407 94h2v2h-2zM407 104h2v2h-2zM408 109h2v2h-2zM409 107h2v2h-2zM409 104h2v2h-2zM409 117h2v2h-2zM408 102h2v2h-2zM409 114h2v2h-2zM408 109h2v2h-2zM410 106h2v2h-2zM410 105h2v2h-2zM410 116h2v2h-2zM410 109h2v2h-2zM409 121h2v2h-2zM409 108h2v2h-2zM409 108h2v2h-2zM410 109h2v2h-2zM410 105h2v2h-2zM410 103h2v2h-2zM411 114h2v2h-2zM410 107h2v2h-2zM411 104h2v2h-2zM412 118h2v2h-2zM412 111h2v2h-2zM411 110h2v2h-2zM412 107h2v2h-2zM413 101h2v2h-2zM413 103h2v2h-2zM413 100h2v2h-2zM414 108h2v2h-2zM414 113h2v2h-2zM413 105h2v2h-2zM413 99h2v2h-2zM413 104h2v2h-2zM415 98h2v2h-2zM414 100h2v2h-2zM414 108h2v2h-2zM415 113h2v2h-2zM415 108h2v2h-2zM414 114h2v2h-2zM415 105h2v2h-2zM415 104h2v2h-2zM415 104h2v2h-2zM416 108h2v2h-2zM416 99h2v2h-2zM415 108h2v2h-2zM416 110h2v2h-2zM416 103h2v2h-2zM417 108h2v2h-2zM418 110h2v2h-2zM417 92h2v2h-2zM418 104h2v2h-2zM418 117h2v2h-2zM417 100h2v2h-2zM418 100h2v2h-2zM419 105h2v2h-2zM418 104h2v2h-2zM419 107h2v2h-2zM418 110h2v2h-2zM420 106h2v2h-2zM420 118h2v2h-2zM419 112h2v2h-2zM420 109h2v2h-2zM419 103h2v2h-2zM419 103h2v2h-2zM421 108h2v2h-2zM420 107h2v2h-2zM420 116h2v2h-2zM421 101h2v2h-2zM421 117h2v2h-2zM421 111h2v2h-2zM421 103h2v2h-2zM421 107h2v2h-2zM421 136h2v2h-2zM422 137h2v2h-2zM422 135h2v2h-2zM421 135h2v2h-2zM422 132h2v2h-2zM423 143h2v2h-2zM423 148h2v2h-2zM424 142h2v2h-2zM426 140h2v2h-2zM425 141h2v2h-2zM426 140h2v2h-2zM425 142h2v2h-2zM425 143h2v2h-2zM425 144h2v2h-2zM427 138h2v2h-2zM426 146h2v2h-2zM426 138h2v2h-2zM426 148h2v2h-2zM428 146h2v2h-2zM428 137h2v2h-2zM427 142h2v2h-2zM427 145h2v2h-2zM427 130h2v2h-2zM428 136h2v2h-2zM427 142h2v2h-2zM428 137h2v2h-2zM428 135h2v2h-2zM428 147h2v2h-2zM427 145h2v2h-2zM429 143h2v2h-2zM429 144h2v2h-2zM428 144h2v2h-2zM428 131h2v2h-2zM428 146h2v2h-2zM428 137h2v2h-2zM428 135h2v2h-2zM429 132h2v2h-2zM429 140h2v2h-2zM429 137h2v2h-2zM430 136h2v2h-2zM430 135h2v2h-2zM430 123h2v2h-2zM430 133h2v2h-2zM430 137h2v2h-2zM429 141h2v2h-2zM430 136h2v2h-2zM430 145h2v2h-2zM429 139h2v2h-2zM430 140h2v2h-2zM430 139h2v2h-2zM431 144h2v2h-2zM430 140h2v2h-2zM430 136h2v2h-2zM430 144h2v2h-2zM430 138h2v2h-2zM430 136h2v2h-2zM431 133h2v2h-2zM432 134h2v2h-2zM433 127h2v2h-2zM433 133h2v2h-2zM432 136h2v2h-2zM432 140h2v2h-2zM432 139h2v2h-2zM433 136h2v2h-2zM432 137h2v2h-2zM433 134h2v2h-2zM432 139h2v2h-2zM433 136h2v2h-2zM433 145h2v2h-2zM434 137h2v2h-2zM434 141h2v2h-2zM433 145h2v2h-2zM434 134h2v2h-2zM433 135h2v2h-2zM434 134h2v2h-2zM435 140h2v2h-2zM434 141h2v2h-2zM435 130h2v2h-2zM434 130h2v2h-2zM434 142h2v2h-2zM434 134h2v2h-2zM434 139h2v2h-2zM434 138h2v2h-2zM435 142h2v2h-2zM434 131h2v2h-2zM435 121h2v2h-2zM436 128h2v2h-2zM435 138h2v2h-2zM436 138h2v2h-2zM435 127h2v2h-2zM435 132h2v2h-2zM435 123h2v2h-2zM436 135h2v2h-2zM436 137h2v2h-2zM437 141h2v2h-2zM437 135h2v2h-2zM436 135h2v2h-2zM436 128h2v2h-2zM438 133h2v2h-2zM438 132h2v2h-2zM438 133h2v2h-2zM438 135h2v2h-2zM437 129h2v2h-2zM438 128h2v2h-2zM437 126h2v2h-2zM437 139h2v2h-2zM438 129h2v2h-2zM437 142h2v2h-2zM438 134h2v2h-2zM438 131h2v2h-2zM438 131h2v2h-2zM438 134h2v2h-2zM439 129h2v2h-2zM439 134h2v2h-2zM438 137h2v2h-2zM438 134h2v2h-2zM438 130h2v2h-2zM439 137h2v2h-2zM440 142h2v2h-2zM440 146h2v2h-2zM440 134h2v2h-2zM441 139h2v2h-2zM441 124h2v2h-2zM441 136h2v2h-2zM441 134h2v2h-2zM442 132h2v2h-2zM442 132h2v2h-2zM443 136h2v2h-2zM443 127h2v2h-2zM444 133h2v2h-2zM444 137h2v2h-2zM444 128h2v2h-2zM444 132h2v2h-2zM444 131h2v2h-2zM445 134h2v2h-2zM444 138h2v2h-2zM445 134h2v2h-2zM444 134h2v2h-2zM444 129h2v2h-2zM445 140h2v2h-2zM444 133h2v2h-2zM444 131h2v2h-2zM446 134h2v2h-2zM446 136h2v2h-2zM447 121h2v2h-2zM447 134h2v2h-2zM446 135h2v2h-2zM446 129h2v2h-2zM446 123h2v2h-2zM447 128h2v2h-2zM446 135h2v2h-2zM446 130h2v2h-2zM448 141h2v2h-2zM447 129h2v2h-2zM447 129h2v2h-2zM448 134h2v2h-2zM447 134h2v2h-2zM448 132h2v2h-2zM448 122h2v2h-2zM448 131h2v2h-2zM448 131h2v2h-2zM448 128h2v2h-2zM449 129h2v2h-2zM448 129h2v2h-2zM448 128h2v2h-2zM448 134h2v2h-2zM448 133h2v2h-2zM448 145h2v2h-2zM448 132h2v2h-2zM449 132h2v2h-2zM449 131h2v2h-2zM449 129h2v2h-2zM449 138h2v2h-2zM449 134h2v2h-2zM450 133h2v2h-2zM450 131h2v2h-2zM451 134h2v2h-2zM451 130h2v2h-2zM450 126h2v2h-2zM450 135h2v2h-2zM451 137h2v2h-2zM452 133h2v2h-2zM452 139h2v2h-2zM451 134h2v2h-2zM451 136h2v2h-2zM451 135h2v2h-2zM452 129h2v2h-2zM452 132h2v2h-2zM452 143h2v2h-2zM453 136h2v2h-2zM453 131h2v2h-2zM452 129h2v2h-2zM452 137h2v2h-2zM453 133h2v2h-2zM453 130h2v2h-2zM453 128h2v2h-2zM453 133h2v2h-2zM453 133h2v2h-2zM454 133h2v2h-2zM454 130h2v2h-2zM453 129h2v2h-2zM453 138h2v2h-2zM453 131h2v2h-2zM454 138h2v2h-2zM453 129h2v2h-2zM453 136h2v2h-2zM454 133h2v2h-2zM454 135h2v2h-2zM453 122h2v2h-2zM454 129h2v2h-2zM454 135h2v2h-2zM454 129h2v2h-2zM454 132h2v2h-2zM455 132h2v2h-2zM454 132h2v2h-2zM454 129h2v2h-2zM455 128h2v2h-2zM454 131h2v2h-2zM455 131h2v2h-2zM456 131h2v2h-2zM455 134h2v2h-2zM456 130h2v2h-2zM455 131h2v2h-2zM456 128h2v2h-2zM456 127h2v2h-2zM456 130h2v2h-2zM457 129h2v2h-2zM457 129h2v2h-2zM457 124h2v2h-2zM458 131h2v2h-2zM457 127h2v2h-2zM457 136h2v2h-2zM457 130h2v2h-2zM457 128h2v2h-2zM458 131h2v2h-2zM459 128h2v2h-2zM459 130h2v2h-2zM460 131h2v2h-2zM462 130h2v2h-2zM461 130h2v2h-2zM462 136h2v2h-2zM461 132h2v2h-2zM462 136h2v2h-2zM461 132h2v2h-2zM462 133h2v2h-2zM461 135h2v2h-2zM461 127h2v2h-2zM461 126h2v2h-2zM463 129h2v2h-2zM462 130h2v2h-2zM463 125h2v2h-2zM463 137h2v2h-2zM462 127h2v2h-2zM462 131h2v2h-2zM462 133h2v2h-2zM462 133h2v2h-2zM463 138h2v2h-2zM463 139h2v2h-2zM463 135h2v2h-2zM463 130h2v2h-2zM464 134h2v2h-2zM464 133h2v2h-2zM464 137h2v2h-2zM464 132h2v2h-2zM464 136h2v2h-2zM463 131h2v2h-2zM463 140h2v2h-2zM463 131h2v2h-2zM464 131h2v2h-2zM464 134h2v2h-2zM464 133h2v2h-2zM466 123h2v2h-2zM466 134h2v2h-2zM465 128h2v2h-2zM466 122h2v2h-2zM466 128h2v2h-2zM465 139h2v2h-2zM466 130h2v2h-2zM467 125h2v2h-2zM466 133h2v2h-2zM467 132h2v2h-2zM466 126h2v2h-2zM468 135h2v2h-2zM467 130h2v2h-2zM467 130h2v2h-2zM468 132h2v2h-2zM468 138h2v2h-2zM468 135h2v2h-2zM468 130h2v2h-2zM468 134h2v2h-2zM469 135h2v2h-2zM468 139h2v2h-2zM469 136h2v2h-2zM469 135h2v2h-2zM470 130h2v2h-2zM469 131h2v2h-2zM470 131h2v2h-2zM470 130h2v2h-2zM471 125h2v2h-2zM471 133h2v2h-2zM470 133h2v2h-2zM470 131h2v2h-2zM472 125h2v2h-2zM472 122h2v2h-2zM471 137h2v2h-2zM472 136h2v2h-2zM471 130h2v2h-2zM471 128h2v2h-2zM471 131h2v2h-2zM472 136h2v2h-2zM471 129h2v2h-2zM472 129h2v2h-2zM471 128h2v2h-2zM471 126h2v2h-2zM471 134h2v2h-2zM472 128h2v2h-2zM473 122h2v2h-2zM472 128h2v2h-2zM473 127h2v2h-2zM472 134h2v2h-2zM474 123h2v2h-2zM473 132h2v2h-2zM473 129h2v2h-2zM473 137h2v2h-2zM473 135h2v2h-2zM474 131h2v2h-2zM475 130h2v2h-2zM474 138h2v2h-2zM475 123h2v2h-2zM476 128h2v2h-2zM475 120h2v2h-2zM475 125h2v2h-2zM476 132h2v2h-2zM476 131h2v2h-2zM475 128h2v2h-2zM476 124h2v2h-2zM475 129h2v2h-2zM476 133h2v2h-2zM476 127h2v2h-2zM477 134h2v2h-2zM478 125h2v2h-2zM478 130h2v2h-2zM478 131h2v2h-2zM478 133h2v2h-2zM479 125h2v2h-2zM479 134h2v2h-2zM479 130h2v2h-2zM479 129h2v2h-2zM479 134h2v2h-2zM479 124h2v2h-2zM479 135h2v2h-2zM479 132h2v2h-2zM479 132h2v2h-2zM479 128h2v2h-2zM479 122h2v2h-2zM480 130h2v2h-2zM480 128h2v2h-2zM479 133h2v2h-2zM480 131h2v2h-2zM479 120h2v2h-2zM480 129h2v2h-2zM480 134h2v2h-2zM481 123h2v2h-2zM480 125h2v2h-2zM480 122h2v2h-2zM481 132h2v2h-2zM481 124h2v2h-2zM482 135h2v2h-2zM481 121h2v2h-2zM481 137h2v2h-2zM482 126h2v2h-2zM481 131h2v2h-2zM481 130h2v2h-2zM481 128h2v2h-2zM482 131h2v2h-2zM481 133h2v2h-2zM481 134h2v2h-2zM482 133h2v2h-2zM483 125h2v2h-2zM483 130h2v2h-2zM482 137h2v2h-2zM482 136h2v2h-2zM483 127h2v2h-2zM482 134h2v2h-2zM483 133h2v2h-2zM482 125h2v2h-2zM483 127h2v2h-2zM482 131h2v2h-2zM482 130h2v2h-2zM483 130h2v2h-2zM484 131h2v2h-2zM484 139h2v2h-2zM484 128h2v2h-2zM484 134h2v2h-2zM483 125h2v2h-2zM484 126h2v2h-2zM484 124h2v2h-2zM485 125h2v2h-2zM484 131h2v2h-2zM484 130h2v2h-2zM484 123h2v2h-2zM484 131h2v2h-2zM484 123h2v2h-2zM485 127h2v2h-2zM485 131h2v2h-2zM485 132h2v2h-2zM485 130h2v2h-2zM486 135h2v2h-2zM487 130h2v2h-2zM486 136h2v2h-2zM487 132h2v2h-2zM487 132h2v2h-2zM487 134h2v2h-2zM488 127h2v2h-2zM487 131h2v2h-2zM487 132h2v2h-2zM489 133h2v2h-2zM489 128h2v2h-2zM488 124h2v2h-2zM488 129h2v2h-2zM488 121h2v2h-2zM488 130h2v2h-2zM489 131h2v2h-2zM489 137h2v2h-2zM489 136h2v2h-2zM489 131h2v2h-2zM489 135h2v2h-2zM490 132h2v2h-2zM489 119h2v2h-2zM490 130h2v2h-2zM489 134h2v2h-2zM489 133h2v2h-2zM489 131h2v2h-2zM491 127h2v2h-2zM490 133h2v2h-2zM490 134h2v2h-2zM490 133h2v2h-2zM491 133h2v2h-2zM492 134h2v2h-2zM492 125h2v2h-2zM493 139h2v2h-2zM492 128h2v2h-2zM493 133h2v2h-2zM494 141h2v2h-2zM493 125h2v2h-2zM494 127h2v2h-2zM494 130h2v2h-2zM495 129h2v2h-2zM494 134h2v2h-2zM494 142h2v2h-2zM495 122h2v2h-2zM495 123h2v2h-2zM496 125h2v2h-2zM496 132h2v2h-2zM496 135h2v2h-2zM496 128h2v2h-2zM496 129h2v2h-2zM495 123h2v2h-2zM496 133h2v2h-2zM496 125h2v2h-2zM496 135h2v2h-2zM496 122h2v2h-2zM497 134h2v2h-2zM496 136h2v2h-2zM497 134h2v2h-2zM497 128h2v2h-2zM496 133h2v2h-2zM497 134h2v2h-2zM497 136h2v2h-2zM498 130h2v2h-2zM497 140h2v2h-2zM498 126h2v2h-2zM499 131h2v2h-2zM499 133h2v2h-2zM499 139h2v2h-2zM499 140h2v2h-2zM499 131h2v2h-2zM499 130h2v2h-2zM499 135h2v2h-2zM500 142h2v2h-2zM499 129h2v2h-2zM500 128h2v2h-2zM501 134h2v2h-2zM501 132h2v2h-2zM501 132h2v2h-2zM500 136h2v2h-2zM501 131h2v2h-2zM501 136h2v2h-2zM501 143h2v2h-2zM500 134h2v2h-2zM501 130h2v2h-2zM502 126h2v2h-2zM502 132h2v2h-2zM501 125h2v2h-2zM501 127h2v2h-2zM502 129h2v2h-2zM501 135h2v2h-2zM502 127h2v2h-2zM501 138h2v2h-2zM503 134h2v2h-2zM502 132h2v2h-2zM502 129h2v2h-2zM502 134h2v2h-2zM502 132h2v2h-2zM503 125h2v2h-2zM503 130h2v2h-2zM503 129h2v2h-2zM503 130h2v2h-2zM503 128h2v2h-2zM504 137h2v2h-2zM504 132h2v2h-2zM506 132h2v2h-2zM506 132h2v2h-2zM506 125h2v2h-2zM506 132h2v2h-2zM506 137h2v2h-2zM506 135h2v2h-2zM507 130h2v2h-2zM507 130h2v2h-2zM508 133h2v2h-2zM509 141h2v2h-2zM509 133h2v2h-2zM510 144h2v2h-2zM510 134h2v2h-2zM510 130h2v2h-2zM513 127h2v2h-2zM512 133h2v2h-2zM513 126h2v2h-2zM513 136h2v2h-2zM513 138h2v2h-2zM513 130h2v2h-2zM513 126h2v2h-2zM514 135h2v2h-2zM515 119h2v2h-2zM514 135h2v2h-2zM515 129h2v2h-2zM515 130h2v2h-2zM514 136h2v2h-2zM515 129h2v2h-2zM515 124h2v2h-2zM516 132h2v2h-2zM515 129h2v2h-2zM515 133h2v2h-2zM515 126h2v2h-2zM516 133h2v2h-2zM516 135h2v2h-2zM516 134h2v2h-2zM516 124h2v2h-2zM515 136h2v2h-2zM515 123h2v2h-2zM516 139h2v2h-2zM517 130h2v2h-2zM517 129h2v2h-2zM517 133h2v2h-2zM517 129h2v2h-2zM516 134h2v2h-2zM517 126h2v2h-2zM518 123h2v2h-2zM517 129h2v2h-2zM517 129h2v2h-2zM518 129h2v2h-2zM517 132h2v2h-2zM517 138h2v2h-2zM518 138h2v2h-2zM519 130h2v2h-2zM519 131h2v2h-2zM520 137h2v2h-2zM520 134h2v2h-2zM519 133h2v2h-2zM521 134h2v2h-2zM521 135h2v2h-2zM521 142h2v2h-2zM521 138h2v2h-2zM522 128h2v2h-2zM522 141h2v2h-2zM521 130h2v2h-2zM521 129h2v2h-2zM522 137h2v2h-2zM521 129h2v2h-2zM521 128h2v2h-2zM521 129h2v2h-2zM522 135h2v2h-2zM522 134h2v2h-2zM522 128h2v2h-2zM522 135h2v2h-2zM522 136h2v2h-2zM522 127h2v2h-2zM522 139h2v2h-2zM523 128h2v2h-2zM524 133h2v2h-2zM524 134h2v2h-2zM524 134h2v2h-2zM523 136h2v2h-2zM524 137h2v2h-2zM524 129h2v2h-2zM525 131h2v2h-2zM524 139h2v2h-2zM525 133h2v2h-2zM524 133h2v2h-2zM524 144h2v2h-2zM525 133h2v2h-2zM524 131h2v2h-2zM526 132h2v2h-2zM526 123h2v2h-2zM525 129h2v2h-2zM526 130h2v2h-2zM526 126h2v2h-2zM527 136h2v2h-2zM527 130h2v2h-2zM527 128h2v2h-2zM528 131h2v2h-2zM528 132h2v2h-2zM528 139h2v2h-2zM527 132h2v2h-2zM529 125h2v2h-2zM528 129h2v2h-2zM529 136h2v2h-2zM529 124h2v2h-2zM529 135h2v2h-2zM530 128h2v2h-2zM529 130h2v2h-2zM530 124h2v2h-2zM529 127h2v2h-2zM529 131h2v2h-2zM529 125h2v2h-2zM530 130h2v2h-2zM530 135h2v2h-2zM531 130h2v2h-2zM531 131h2v2h-2zM532 128h2v2h-2zM531 135h2v2h-2zM531 130h2v2h-2zM532 125h2v2h-2zM532 126h2v2h-2zM533 136h2v2h-2zM532 134h2v2h-2zM533 123h2v2h-2zM534 127h2v2h-2zM534 126h2v2h-2zM534 124h2v2h-2zM534 125h2v2h-2zM533 134h2v2h-2zM534 133h2v2h-2zM535 126h2v2h-2zM535 136h2v2h-2zM535 133h2v2h-2zM535 127h2v2h-2zM536 131h2v2h-2zM535 130h2v2h-2zM535 134h2v2h-2zM535 132h2v2h-2zM537 128h2v2h-2zM537 128h2v2h-2zM536 122h2v2h-2zM536 132h2v2h-2zM536 128h2v2h-2zM536 129h2v2h-2zM537 134h2v2h-2zM536 133h2v2h-2zM537 136h2v2h-2zM537 136h2v2h-2zM537 134h2v2h-2zM537 129h2v2h-2zM538 130h2v2h-2zM538 129h2v2h-2zM538 124h2v2h-2zM538 136h2v2h-2zM537 137h2v2h-2zM537 128h2v2h-2zM537 137h2v2h-2zM539 133h2v2h-2zM539 128h2v2h-2zM539 132h2v2h-2zM539 131h2v2h-2zM538 132h2v2h-2zM539 125h2v2h-2zM538 125h2v2h-2zM539 130h2v2h-2zM538 131h2v2h-2zM539 134h2v2h-2zM539 126h2v2h-2zM539 133h2v2h-2zM539 123h2v2h-2zM539 134h2v2h-2zM539 131h2v2h-2zM540 138h2v2h-2zM541 138h2v2h-2zM543 131h2v2h-2zM542 140h2v2h-2zM543 131h2v2h-2zM543 133h2v2h-2zM544 141h2v2h-2zM544 128h2v2h-2zM544 135h2v2h-2zM545 131h2v2h-2zM544 127h2v2h-2zM545 130h2v2h-2zM546 124h2v2h-2zM546 129h2v2h-2zM545 134h2v2h-2zM546 133h2v2h-2zM546 143h2v2h-2zM547 128h2v2h-2zM546 138h2v2h-2zM547 136h2v2h-2zM547 122h2v2h-2zM548 131h2v2h-2zM548 123h2v2h-2zM548 125h2v2h-2zM547 129h2v2h-2zM548 130h2v2h-2zM550 131h2v2h-2zM550 131h2v2h-2zM549 133h2v2h-2zM551 132h2v2h-2zM550 130h2v2h-2zM550 129h2v2h-2zM551 126h2v2h-2zM552 132h2v2h-2zM552 126h2v2h-2zM551 127h2v2h-2zM551 127h2v2h-2zM551 134h2v2h-2zM551 139h2v2h-2zM552 133h2v2h-2zM552 135h2v2h-2zM553 138h2v2h-2zM552 128h2v2h-2zM553 134h2v2h-2zM553 125h2v2h-2zM553 130h2v2h-2zM553 140h2v2h-2zM554 130h2v2h-2zM555 129h2v2h-2zM554 128h2v2h-2zM555 131h2v2h-2zM555 136h2v2h-2zM555 128h2v2h-2zM555 133h2v2h-2zM555 125h2v2h-2zM554 131h2v2h-2zM555 123h2v2h-2zM555 128h2v2h-2zM556 137h2v2h-2zM556 125h2v2h-2zM555 131h2v2h-2zM556 132h2v2h-2zM556 129h2v2h-2zM555 129h2v2h-2zM555 131h2v2h-2zM555 136h2v2h-2zM557 130h2v2h-2zM557 135h2v2h-2zM557 128h2v2h-2zM557 129h2v2h-2zM556 132h2v2h-2zM556 129h2v2h-2zM557 137h2v2h-2zM556 141h2v2h-2zM556 133h2v2h-2zM557 131h2v2h-2zM556 130h2v2h-2zM556 136h2v2h-2zM557 134h2v2h-2zM556 131h2v2h-2zM557 124h2v2h-2zM558 129h2v2h-2zM557 129h2v2h-2zM558 125h2v2h-2zM558 132h2v2h-2zM558 130h2v2h-2zM557 127h2v2h-2zM558 127h2v2h-2zM558 133h2v2h-2zM558 134h2v2h-2zM558 124h2v2h-2zM559 136h2v2h-2zM559 130h2v2h-2zM558 134h2v2h-2zM558 126h2v2h-2zM559 129h2v2h-2zM559 123h2v2h-2zM558 134h2v2h-2zM559 134h2v2h-2zM560 130h2v2h-2zM559 129h2v2h-2zM560 125h2v2h-2zM560 134h2v2h-2zM560 136h2v2h-2zM559 128h2v2h-2zM560 125h2v2h-2zM560 132h2v2h-2zM560 126h2v2h-2zM559 133h2v2h-2zM560 136h2v2h-2zM560 130h2v2h-2zM559 129h2v2h-2zM560 130h2v2h-2zM560 130h2v2h-2zM561 135h2v2h-2zM560 137h2v2h-2zM561 135h2v2h-2zM561 139h2v2h-2zM561 133h2v2h-2zM562 133h2v2h-2zM561 128h2v2h-2zM562 132h2v2h-2zM562 133h2v2h-2zM562 134h2v2h-2zM562 121h2v2h-2zM562 131h2v2h-2zM563 135h2v2h-2zM563 134h2v2h-2zM564 130h2v2h-2zM564 136h2v2h-2zM564 135h2v2h-2zM564 127h2v2h-2zM564 129h2v2h-2zM563 128h2v2h-2zM564 140h2v2h-2zM563 127h2v2h-2zM565 135h2v2h-2zM565 135h2v2h-2zM565 124h2v2h-2zM565 132h2v2h-2zM565 132h2v2h-2zM565 121h2v2h-2zM565 126h2v2h-2zM564 126h2v2h-2zM565 125h2v2h-2zM565 128h2v2h-2zM565 136h2v2h-2zM566 132h2v2h-2zM565 135h2v2h-2zM566 127h2v2h-2zM565 129h2v2h-2zM565 127h2v2h-2zM566 133h2v2h-2zM566 123h2v2h-2zM566 132h2v2h-2zM565 119h2v2h-2zM566 132h2v2h-2zM566 129h2v2h-2zM565 124h2v2h-2zM566 135h2v2h-2zM566 136h2v2h-2zM566 132h2v2h-2zM566 132h2v2h-2zM567 134h2v2h-2zM567 130h2v2h-2zM568 137h2v2h-2zM568 129h2v2h-2zM567 124h2v2h-2zM567 132h2v2h-2zM568 136h2v2h-2zM567 130h2v2h-2zM567 129h2v2h-2zM568 142h2v2h-2zM568 131h2v2h-2zM569 126h2v2h-2zM568 129h2v2h-2zM569 128h2v2h-2zM569 130h2v2h-2zM570 135h2v2h-2zM571 129h2v2h-2zM572 130h2v2h-2zM572 134h2v2h-2zM573 135h2v2h-2zM572 129h2v2h-2zM574 131h2v2h-2zM573 128h2v2h-2zM575 129h2v2h-2zM576 128h2v2h-2zM577 133h2v2h-2zM576 138h2v2h-2zM577 140h2v2h-2zM577 136h2v2h-2zM578 132h2v2h-2zM578 132h2v2h-2zM577 137h2v2h-2zM578 133h2v2h-2zM578 129h2v2h-2zM578 137h2v2h-2zM581 133h2v2h-2zM581 125h2v2h-2zM580 131h2v2h-2zM581 134h2v2h-2zM580 130h2v2h-2zM581 130h2v2h-2zM582 125h2v2h-2zM582 130h2v2h-2zM582 125h2v2h-2zM582 131h2v2h-2zM582 132h2v2h-2zM582 127h2v2h-2zM582 132h2v2h-2zM583 129h2v2h-2zM582 129h2v2h-2zM582 129h2v2h-2zM582 138h2v2h-2zM583 131h2v2h-2zM583 128h2v2h-2zM584 137h2v2h-2zM584 135h2v2h-2zM585 138h2v2h-2zM585 130h2v2h-2zM584 128h2v2h-2zM585 134h2v2h-2zM585 124h2v2h-2zM585 131h2v2h-2zM585 136h2v2h-2zM585 133h2v2h-2zM585 133h2v2h-2zM586 137h2v2h-2zM587 135h2v2h-2zM587 126h2v2h-2zM587 115h2v2h-2zM587 129h2v2h-2zM588 128h2v2h-2zM588 131h2v2h-2zM588 130h2v2h-2zM589 130h2v2h-2zM590 130h2v2h-2zM592 126h2v2h-2zM591 129h2v2h-2zM591 133h2v2h-2zM591 133h2v2h-2zM592 136h2v2h-2zM592 127h2v2h-2zM592 124h2v2h-2zM592 126h2v2h-2zM592 140h2v2h-2zM593 131h2v2h-2zM597 128h2v2h-2zM597 133h2v2h-2zM596 131h2v2h-2zM596 131h2v2h-2zM597 131h2v2h-2zM596 132h2v2h-2zM597 133h2v2h-2zM596 132h2v2h-2zM597 133h2v2h-2zM598 126h2v2h-2zM597 133h2v2h-2zM598 132h2v2h-2zM598 140h2v2h-2zM598 133h2v2h-2zM597 132h2v2h-2zM598 139h2v2h-2zM598 130h2v2h-2zM597 127h2v2h-2zM598 133h2v2h-2zM598 131h2v2h-2zM597 131h2v2h-2zM597 132h2v2h-2zM597 133h2v2h-2zM598 135h2v2h-2zM598 131h2v2h-2zM598 130h2v2h-2zM599 131h2v2h-2zM599 134h2v2h-2zM598 133h2v2h-2zM599 139h2v2h-2zM600 133h2v2h-2zM600 129h2v2h-2zM600 133h2v2h-2zM599 123h2v2h-2zM600 132h2v2h-2zM600 131h2v2h-2zM600 129h2v2h-2zM600 130h2v2h-2zM599 135h2v2h-2zM600 134h2v2h-2zM601 133h2v2h-2zM600 134h2v2h-2zM600 135h2v2h-2zM601 135h2v2h-2zM600 122h2v2h-2zM601 126h2v2h-2zM600 135h2v2h-2zM600 132h2v2h-2zM600 127h2v2h-2zM602 127h2v2h-2zM602 129h2v2h-2zM601 129h2v2h-2zM602 134h2v2h-2zM601 132h2v2h-2zM602 138h2v2h-2zM603 135h2v2h-2zM603 131h2v2h-2zM603 132h2v2h-2zM603 135h2v2h-2zM603 133h2v2h-2zM603 139h2v2h-2zM603 128h2v2h-2zM603 135h2v2h-2zM604 141h2v2h-2zM604 132h2v2h-2zM604 131h2v2h-2zM605 134h2v2h-2zM605 129h2v2h-2zM605 133h2v2h-2zM605 129h2v2h-2zM605 139h2v2h-2zM604 134h2v2h-2zM605 136h2v2h-2zM604 133h2v2h-2zM604 132h2v2h-2zM605 136h2v2h-2zM605 138h2v2h-2zM606 131h2v2h-2zM605 133h2v2h-2zM606 138h2v2h-2zM606 131h2v2h-2zM605 134h2v2h-2zM606 141h2v2h-2zM606 134h2v2h-2zM606 135h2v2h-2zM607 136h2v2h-2zM607 136h2v2h-2zM606 132h2v2h-2zM607 136h2v2h-2zM607 125h2v2h-2zM606 126h2v2h-2zM607 136h2v2h-2zM606 135h2v2h-2zM607 135h2v2h-2zM607 130h2v2h-2zM608 137h2v2h-2zM607 136h2v2h-2zM608 135h2v2h-2zM607 136h2v2h-2zM607 126h2v2h-2zM607 135h2v2h-2zM608 127h2v2h-2zM608 135h2v2h-2zM609 128h2v2h-2zM609 131h2v2h-2zM610 131h2v2h-2zM610 131h2v2h-2zM609 132h2v2h-2zM610 129h2v2h-2zM610 135h2v2h-2zM611 138h2v2h-2zM611 133h2v2h-2zM611 131h2v2h-2zM612 134h2v2h-2zM612 134h2v2h-2zM613 135h2v2h-2zM613 128h2v2h-2zM613 138h2v2h-2zM612 129h2v2h-2zM614 131h2v2h-2zM613 133h2v2h-2zM615 131h2v2h-2zM614 131h2v2h-2zM615 134h2v2h-2zM616 130h2v2h-2zM615 132h2v2h-2zM616 131h2v2h-2zM615 128h2v2h-2zM615 128h2v2h-2zM616 132h2v2h-2zM617 131h2v2h-2zM617 122h2v2h-2zM620 126h2v2h-2zM621 127h2v2h-2zM621 133h2v2h-2zM621 124h2v2h-2zM621 135h2v2h-2zM621 136h2v2h-2zM621 126h2v2h-2zM621 125h2v2h-2zM622 129h2v2h-2zM621 134h2v2h-2zM621 139h2v2h-2zM621 137h2v2h-2zM623 138h2v2h-2zM623 130h2v2h-2zM623 137h2v2h-2zM623 131h2v2h-2zM624 132h2v2h-2zM623 138h2v2h-2zM624 129h2v2h-2zM624 130h2v2h-2zM624 128h2v2h-2zM623 134h2v2h-2zM624 131h2v2h-2zM624 133h2v2h-2zM624 129h2v2h-2zM624 133h2v2h-2zM625 134h2v2h-2zM625 134h2v2h-2zM626 135h2v2h-2zM626 128h2v2h-2zM626 132h2v2h-2zM626 136h2v2h-2zM626 133h2v2h-2zM627 134h2v2h-2zM626 125h2v2h-2zM627 136h2v2h-2zM627 132h2v2h-2zM627 138h2v2h-2zM627 126h2v2h-2zM627 129h2v2h-2zM628 127h2v2h-2zM628 134h2v2h-2zM628 127h2v2h-2zM629 135h2v2h-2zM629 127h2v2h-2zM629 130h2v2h-2zM629 130h2v2h-2zM630 134h2v2h-2zM631 127h2v2h-2zM631 133h2v2h-2zM631 123h2v2h-2zM632 140h2v2h-2zM631 132h2v2h-2zM633 128h2v2h-2zM633 133h2v2h-2zM632 135h2v2h-2zM633 131h2v2h-2zM633 138h2v2h-2zM633 134h2v2h-2zM633 129h2v2h-2zM632 124h2v2h-2zM633 130h2v2h-2zM633 126h2v2h-2zM633 124h2v2h-2zM633 128h2v2h-2zM633 135h2v2h-2zM635 122h2v2h-2zM635 130h2v2h-2zM634 129h2v2h-2zM635 128h2v2h-2zM437 89h2v2h-2zM478 98h2v2h-2zM436 103h2v2h-2zM437 104h2v2h-2zM436 106h2v2h-2zM437 107h2v2h-2zM436 108h2v2h-2zM437 110h2v2h-2zM436 111h2v2h-2zM437 112h2v2h-2zM436 113h2v2h-2zM437 115h2v2h-2zM436 116h2v2h-2zM437 117h2v2h-2zM436 119h2v2h-2zM437 120h2v2h-2zM436 121h2v2h-2zM437 122h2v2h-2zM436 124h2v2h-2zM437 125h2v2h-2zM548 96h2v2h-2zM340 97h2v2h-2zM330 101h2v2h-2zM484 99h2v2h-2zM317 103h2v2h-2zM321 103h2v2h-2zM327 107h2v2h-2z"/><path fill="#000" d="M154 269h2v2h-2zM154 278h2v2h-2zM172 308h2v2h-2zM449 348h2v2h-2zM481 333h2v2h-2zM570 346h2v2h-2zM604 331h2v2h-2zM607 330h2v2h-2zM611 330h2v2h-2zM124 269h2v2h-2zM120 268h2v2h-2zM88 278h2v2h-2zM100 282h2v2h-2zM100 285h2v2h-2zM114 282h2v2h-2zM102 299h2v2h-2zM98 291h2v2h-2zM95 289h2v2h-2zM71 290h2v2h-2zM72 288h2v2h-2zM74 288h2v2h-2zM75 291h3v2h-3zM76 288h3v2h-3zM77 290h4v2h-4zM78 289h4v2h-4zM79 289h2v2h-2zM80 287h3v2h-3zM81 285h4v2h-4zM81 286h3v2h-3zM82 286h4v2h-4zM83 286h3v2h-3zM84 283h2v2h-2zM85 280h3v2h-3zM86 278h3v2h-3zM87 279h2v2h-2zM88 282h3v2h-3zM88 280h4v2h-4zM89 281h3v2h-3zM90 286h2v2h-2zM91 287h2v2h-2zM91 287h3v2h-3zM92 290h4v2h-4zM92 291h2v2h-2zM94 291h3v2h-3zM94 294h3v2h-3zM96 294h4v2h-4zM97 295h3v2h-3zM97 299h2v2h-2zM98 297h4v2h-4zM99 303h3v2h-3zM100 303h4v2h-4zM101 295h2v2h-2zM103 293h4v2h-4zM103 291h3v2h-3zM105 287h2v2h-2zM106 291h2v2h-2zM107 284h2v2h-2zM107 285h3v2h-3zM108 285h2v2h-2zM109 286h3v2h-3zM110 287h2v2h-2zM111 282h4v2h-4zM111 284h3v2h-3zM113 286h3v2h-3zM114 285h3v2h-3zM115 285h2v2h-2zM116 286h4v2h-4zM117 283h4v2h-4zM118 279h3v2h-3zM118 270h3v2h-3zM119 276h3v2h-3zM120 276h3v2h-3zM121 279h3v2h-3zM122 277h3v2h-3zM123 279h3v2h-3zM123 281h2v2h-2zM125 281h3v2h-3zM126 280h3v2h-3zM127 281h3v2h-3zM127 283h4v2h-4zM129 284h3v2h-3zM130 287h3v2h-3zM131 288h4v2h-4zM132 293h3v2h-3zM133 292h4v2h-4zM133 296h3v2h-3zM134 298h4v2h-4zM135 300h3v2h-3zM136 301h2v2h-2zM138 303h2v2h-2zM138 308h3v2h-3zM139 315h4v2h-4zM139 317h4v2h-4zM141 318h4v2h-4zM143 318h5v2h-5zM144 317h4v2h-4zM147 320h2v2h-2zM148 320h4v2h-4zM149 320h3v2h-3zM151 320h4v2h-4zM152 318h4v2h-4zM154 319h6v2h-6zM156 319h3v2h-3zM158 320h2v2h-2zM160 319h6v2h-6zM161 318h6v2h-6zM163 319h3v2h-3zM164 317h5v2h-5zM166 316h4v2h-4zM169 315h3v2h-3zM170 313h6v2h-6zM171 315h3v2h-3zM173 314h3v2h-3zM174 314h4v2h-4zM177 313h6v2h-6zM179 315h4v2h-4zM180 314h4v2h-4zM182 316h3v2h-3zM184 317h5v2h-5zM185 318h5v2h-5zM186 319h4v2h-4zM188 320h4v2h-4zM189 318h2v2h-2zM190 322h2v2h-2zM192 327h3v2h-3zM194 327h3v2h-3zM196 328h2v2h-2zM197 328h4v2h-4zM199 326h4v2h-4zM201 330h4v2h-4zM203 321h5v2h-5zM206 316h6v2h-6zM206 319h3v2h-3zM208 321h4v2h-4zM210 320h2v2h-2zM211 323h3v2h-3zM213 321h4v2h-4zM215 322h3v2h-3zM217 322h2v2h-2zM218 323h6v2h-6zM219 319h4v2h-4zM220 317h2v2h-2zM221 320h3v2h-3zM223 323h3v2h-3zM225 323h3v2h-3zM227 322h5v2h-5zM228 323h3v2h-3zM230 322h6v2h-6zM232 321h3v2h-3zM233 320h4v2h-4zM235 319h3v2h-3zM237 323h5v2h-5zM239 330h4v2h-4zM241 329h4v2h-4zM242 328h4v2h-4zM244 329h6v2h-6zM246 329h5v2h-5zM248 331h4v2h-4zM249 330h4v2h-4zM251 335h4v2h-4zM253 335h4v2h-4zM255 336h4v2h-4zM256 335h3v2h-3zM258 335h5v2h-5zM260 336h3v2h-3zM262 338h4v2h-4zM264 333h4v2h-4zM265 333h2v2h-2zM267 337h6v2h-6zM269 336h6v2h-6zM272 336h3v2h-3zM273 338h3v2h-3zM274 337h2v2h-2zM275 336h5v2h-5zM277 336h5v2h-5zM279 332h2v2h-2zM280 329h3v2h-3zM282 326h3v2h-3zM284 322h2v2h-2zM285 322h5v2h-5zM287 322h6v2h-6zM290 320h3v2h-3zM292 320h5v2h-5zM293 322h2v2h-2zM296 333h6v2h-6zM298 331h6v2h-6zM300 332h4v2h-4zM302 332h4v2h-4zM304 333h2v2h-2zM306 333h5v2h-5zM308 333h5v2h-5zM310 333h4v2h-4zM312 333h4v2h-4zM314 334h4v2h-4zM315 335h4v2h-4zM316 335h3v2h-3zM318 336h4v2h-4zM320 337h3v2h-3zM321 338h2v2h-2zM324 340h3v2h-3zM326 340h3v2h-3zM327 340h6v2h-6zM328 341h5v2h-5zM330 342h5v2h-5zM333 342h4v2h-4zM335 343h4v2h-4zM337 344h2v2h-2zM338 343h4v2h-4zM340 343h5v2h-5zM342 344h2v2h-2zM344 347h3v2h-3zM346 348h2v2h-2zM347 347h2v2h-2zM349 347h3v2h-3zM350 347h4v2h-4zM352 348h2v2h-2zM353 349h3v2h-3zM354 347h3v2h-3zM356 347h5v2h-5zM357 347h2v2h-2zM358 349h4v2h-4zM360 349h3v2h-3zM361 350h4v2h-4zM363 350h2v2h-2zM365 351h4v2h-4zM367 352h2v2h-2zM369 352h4v2h-4zM372 353h4v2h-4zM374 352h3v2h-3zM375 353h3v2h-3zM376 352h5v2h-5zM378 353h3v2h-3zM379 353h4v2h-4zM381 355h6v2h-6zM383 356h3v2h-3zM384 356h4v2h-4zM385 355h3v2h-3zM387 357h4v2h-4zM388 356h5v2h-5zM390 357h5v2h-5zM392 357h5v2h-5zM394 357h3v2h-3zM396 356h3v2h-3zM398 355h2v2h-2zM399 355h5v2h-5zM401 350h3v2h-3zM402 343h3v2h-3zM404 342h3v2h-3zM406 343h4v2h-4zM407 342h5v2h-5zM410 342h6v2h-6zM411 342h3v2h-3zM413 342h5v2h-5zM415 342h6v2h-6zM417 353h4v2h-4zM418 354h2v2h-2zM420 355h2v2h-2zM422 356h3v2h-3zM425 358h4v2h-4zM427 359h5v2h-5zM428 358h4v2h-4zM429 358h2v2h-2zM430 358h3v2h-3zM432 358h4v2h-4zM433 358h4v2h-4zM435 359h2v2h-2zM436 358h4v2h-4zM437 358h5v2h-5zM438 358h4v2h-4zM440 359h4v2h-4zM441 359h5v2h-5zM442 360h2v2h-2zM444 358h4v2h-4zM446 354h4v2h-4zM447 354h5v2h-5zM449 352h5v2h-5zM450 352h5v2h-5zM452 351h4v2h-4zM454 351h5v2h-5zM455 349h2v2h-2zM456 349h3v2h-3zM458 349h2v2h-2zM459 349h4v2h-4zM461 349h3v2h-3zM462 348h4v2h-4zM464 348h3v2h-3zM465 348h3v2h-3zM467 347h3v2h-3zM469 345h2v2h-2zM471 346h4v2h-4zM472 345h6v2h-6zM474 346h4v2h-4zM475 346h2v2h-2zM476 345h5v2h-5zM478 345h4v2h-4zM480 345h2v2h-2zM482 346h5v2h-5zM483 346h2v2h-2zM485 347h2v2h-2zM486 348h3v2h-3zM488 348h3v2h-3zM490 348h4v2h-4zM492 349h6v2h-6zM494 348h6v2h-6zM496 348h4v2h-4zM498 348h5v2h-5zM499 348h6v2h-6zM502 349h6v2h-6zM503 349h6v2h-6zM505 349h3v2h-3zM506 349h6v2h-6zM508 349h5v2h-5zM509 350h5v2h-5zM510 350h2v2h-2zM512 351h2v2h-2zM513 351h5v2h-5zM514 351h3v2h-3zM517 353h5v2h-5zM519 354h4v2h-4zM520 354h5v2h-5zM522 357h2v2h-2zM523 357h3v2h-3zM524 358h5v2h-5zM525 357h4v2h-4zM527 356h5v2h-5zM529 356h2v2h-2zM530 357h4v2h-4zM532 356h4v2h-4zM533 356h4v2h-4zM535 357h5v2h-5zM537 356h5v2h-5zM538 356h6v2h-6zM539 357h4v2h-4zM540 356h6v2h-6zM542 357h5v2h-5zM544 357h3v2h-3zM546 357h4v2h-4zM548 357h5v2h-5zM549 357h5v2h-5zM550 357h2v2h-2zM551 357h3v2h-3zM553 358h3v2h-3zM555 357h5v2h-5zM557 357h5v2h-5zM558 356h5v2h-5zM560 352h5v2h-5zM561 351h5v2h-5zM563 350h4v2h-4zM564 351h2v2h-2zM566 350h5v2h-5zM567 351h6v2h-6zM569 349h4v2h-4zM570 350h5v2h-5zM571 350h3v2h-3zM573 352h4v2h-4zM575 352h5v2h-5zM576 352h6v2h-6zM577 352h6v2h-6zM578 351h4v2h-4zM580 352h5v2h-5zM581 351h3v2h-3zM582 352h3v2h-3zM585 352h4v2h-4zM586 352h3v2h-3zM587 353h3v2h-3zM588 350h5v2h-5zM589 351h3v2h-3zM592 349h4v2h-4zM593 350h5v2h-5zM594 348h3v2h-3zM596 344h5v2h-5zM598 344h6v2h-6zM599 344h2v2h-2zM600 346h5v2h-5zM601 346h6v2h-6zM603 346h4v2h-4zM604 347h4v2h-4zM606 346h5v2h-5zM607 346h5v2h-5zM608 341h4v2h-4zM610 339h3v2h-3zM612 339h5v2h-5zM614 339h4v2h-4zM616 339h4v2h-4zM617 337h5v2h-5zM618 333h6v2h-6zM620 333h6v2h-6zM622 333h5v2h-5zM624 333h3v2h-3zM625 333h3v2h-3zM628 341h3v2h-3zM629 342h5v2h-5zM630 342h5v2h-5zM633 339h2v2h-2zM635 339h6v2h-6zM636 340h4v2h-4z"/><path fill="none" stroke="#000" stroke-width="2" d="M72.0 577.0 L80.0 577.0 L82.0 573.5 L84.0 572.5 L90.0 572.5 L92.0 577.0 L101.0 577.0 M121.4 542.2 L123.8 543.0 M140.0 569.5 L142.5 577.0 L155.0 577.0 L155.5 574.3 L168.0 574.3 L169.0 570.2 L172.0 570.2 L175.0 573.0 L176.5 573.0 L177.5 569.5 L183.0 569.5 L184.5 577.0 L256.6 577.0 L257.0 575.9 L265.0 575.9 L265.5 577.0 L281.8 577.0 L284.4 569.0 L291.6 569.0 L296.2 577.0 L314.6 577.0 L318.6 570.0 L322.5 570.0 L324.5 577.0 L404.4 577.0 M423.0 577.0 L436.0 577.0 L437.0 573.3 L438.0 577.0 L618.5 577.0 L619.0 575.3 L627.0 575.3 L628.0 577.0 L636.8 577.0"/><path fill="none" stroke="#000" stroke-width="1.7" d="M102.3 525.5 L103.0 533.5 L104.0 542.5 L105.0 549.5 L106.0 554.0 L107.5 556.8 L109.0 557.5 L112.0 557.5 L113.5 556.5 L115.0 553.0 L116.5 546.5 L118.0 537.5 L119.3 529.5 L120.0 522.5 M121.4 548.4 L124.0 542.0 L127.3 536.0 L128.8 541.8 L130.0 551.1 L129.7 569.5 M129.7 569.5 L131.1 554.5 L134.1 515.0 L135.6 500.0 L136.2 499.5 M405.0 548.3 L406.1 539.7 L407.0 536.3 L410.7 535.5 L411.8 517.5 L413.0 503.9 L414.1 483.5 M416.4 537.2 L418.9 541.5 L420.6 551.7 L422.4 555.1"/><path fill="#000" d="M101.1 501.5h2v2h-2zM101.1 505.3h2v2h-2zM101.1 509.2h2v2h-2zM101.1 513.0h2v2h-2zM101.1 516.8h2v2h-2zM101.1 520.7h2v2h-2zM101.1 524.5h2v2h-2zM120.3 493.5h2v2h-2zM120.1 497.0h2v2h-2zM120.0 500.5h2v2h-2zM119.8 504.0h2v2h-2zM119.7 507.5h2v2h-2zM119.5 511.0h2v2h-2zM119.3 514.5h2v2h-2zM119.2 518.0h2v2h-2zM119.0 521.5h2v2h-2zM136.0 500.5h2v2h-2zM136.3 509.1h2v2h-2zM136.6 517.8h2v2h-2zM136.8 526.4h2v2h-2zM137.1 535.0h2v2h-2zM137.4 543.6h2v2h-2zM137.6 552.2h2v2h-2zM137.9 560.9h2v2h-2zM138.2 569.5h2v2h-2zM403.9 548.5h2v2h-2zM403.9 552.4h2v2h-2zM403.9 556.2h2v2h-2zM403.9 560.1h2v2h-2zM403.9 563.9h2v2h-2zM403.9 567.8h2v2h-2zM403.9 571.6h2v2h-2zM403.9 575.5h2v2h-2zM414.2 487.5h2v2h-2zM414.5 494.7h2v2h-2zM414.8 501.8h2v2h-2zM415.0 509.0h2v2h-2zM415.3 516.2h2v2h-2zM415.6 523.3h2v2h-2zM415.9 530.5h2v2h-2zM421.4 555.5h2v2h-2zM421.4 559.2h2v2h-2zM421.4 563.0h2v2h-2zM421.4 566.8h2v2h-2zM421.4 570.5h2v2h-2zM99.9 569.3h2v2h-2zM133.8 502.5h2v2h-2zM134.5 506.5h2v2h-2z"/><rect x="50.5" y="50.5" width="609.0" height="101.0" fill="none" stroke="#000" stroke-width="1"/><line x1="97.90" y1="151.5" x2="97.90" y2="158.5" stroke="#000" stroke-width="1"/><line x1="226.50" y1="151.5" x2="226.50" y2="158.5" stroke="#000" stroke-width="1"/><line x1="354.50" y1="151.5" x2="354.50" y2="158.5" stroke="#000" stroke-width="1"/><line x1="482.50" y1="151.5" x2="482.50" y2="158.5" stroke="#000" stroke-width="1"/><line x1="611.50" y1="151.5" x2="611.50" y2="158.5" stroke="#000" stroke-width="1"/><rect x="50.5" y="265.5" width="609.0" height="101.0" fill="none" stroke="#000" stroke-width="1"/><line x1="97.90" y1="366.5" x2="97.90" y2="373.5" stroke="#000" stroke-width="1"/><line x1="226.50" y1="366.5" x2="226.50" y2="373.5" stroke="#000" stroke-width="1"/><line x1="354.50" y1="366.5" x2="354.50" y2="373.5" stroke="#000" stroke-width="1"/><line x1="482.50" y1="366.5" x2="482.50" y2="373.5" stroke="#000" stroke-width="1"/><line x1="611.50" y1="366.5" x2="611.50" y2="373.5" stroke="#000" stroke-width="1"/><rect x="50.5" y="479.5" width="609.0" height="102.0" fill="none" stroke="#000" stroke-width="1"/><line x1="97.90" y1="581.5" x2="97.90" y2="588.5" stroke="#000" stroke-width="1"/><line x1="226.50" y1="581.5" x2="226.50" y2="588.5" stroke="#000" stroke-width="1"/><line x1="354.50" y1="581.5" x2="354.50" y2="588.5" stroke="#000" stroke-width="1"/><line x1="482.50" y1="581.5" x2="482.50" y2="588.5" stroke="#000" stroke-width="1"/><line x1="611.50" y1="581.5" x2="611.50" y2="588.5" stroke="#000" stroke-width="1"/><line x1="44" y1="58.60" x2="50.5" y2="58.60" stroke="#000" stroke-width="1"/><line x1="44" y1="80.50" x2="50.5" y2="80.50" stroke="#000" stroke-width="1"/><line x1="44" y1="102.50" x2="50.5" y2="102.50" stroke="#000" stroke-width="1"/><line x1="44" y1="124.40" x2="50.5" y2="124.40" stroke="#000" stroke-width="1"/><line x1="44" y1="145.40" x2="50.5" y2="145.40" stroke="#000" stroke-width="1"/><line x1="44" y1="268.40" x2="50.5" y2="268.40" stroke="#000" stroke-width="1"/><line x1="44" y1="283.00" x2="50.5" y2="283.00" stroke="#000" stroke-width="1"/><line x1="44" y1="298.20" x2="50.5" y2="298.20" stroke="#000" stroke-width="1"/><line x1="44" y1="313.00" x2="50.5" y2="313.00" stroke="#000" stroke-width="1"/><line x1="44" y1="327.70" x2="50.5" y2="327.70" stroke="#000" stroke-width="1"/><line x1="44" y1="342.40" x2="50.5" y2="342.40" stroke="#000" stroke-width="1"/><line x1="44" y1="357.00" x2="50.5" y2="357.00" stroke="#000" stroke-width="1"/><line x1="44" y1="483.30" x2="50.5" y2="483.30" stroke="#000" stroke-width="1"/><line x1="44" y1="499.00" x2="50.5" y2="499.00" stroke="#000" stroke-width="1"/><line x1="44" y1="514.60" x2="50.5" y2="514.60" stroke="#000" stroke-width="1"/><line x1="44" y1="530.30" x2="50.5" y2="530.30" stroke="#000" stroke-width="1"/><line x1="44" y1="546.00" x2="50.5" y2="546.00" stroke="#000" stroke-width="1"/><line x1="44" y1="561.60" x2="50.5" y2="561.60" stroke="#000" stroke-width="1"/><line x1="44" y1="577.40" x2="50.5" y2="577.40" stroke="#000" stroke-width="1"/><g style="will-change:transform"><text x="97.00" y="176.00" text-anchor="middle" fill="#2a2a2a" font-size="16" textLength="43" lengthAdjust="spacingAndGlyphs" font-family="Liberation Sans, sans-serif">2e+07</text><text x="225.60" y="176.00" text-anchor="middle" fill="#2a2a2a" font-size="16" textLength="43" lengthAdjust="spacingAndGlyphs" font-family="Liberation Sans, sans-serif">3e+07</text><text x="353.60" y="176.00" text-anchor="middle" fill="#2a2a2a" font-size="16" textLength="43" lengthAdjust="spacingAndGlyphs" font-family="Liberation Sans, sans-serif">4e+07</text><text x="481.60" y="176.00" text-anchor="middle" fill="#2a2a2a" font-size="16" textLength="43" lengthAdjust="spacingAndGlyphs" font-family="Liberation Sans, sans-serif">5e+07</text><text x="610.60" y="176.00" text-anchor="middle" fill="#2a2a2a" font-size="16" textLength="43" lengthAdjust="spacingAndGlyphs" font-family="Liberation Sans, sans-serif">6e+07</text><text x="354.00" y="201.00" text-anchor="middle" fill="#2a2a2a" font-size="16" textLength="109.2" lengthAdjust="spacingAndGlyphs" font-family="Liberation Sans, sans-serif">chromosome 18</text><text x="97.00" y="390.50" text-anchor="middle" fill="#2a2a2a" font-size="16" textLength="43" lengthAdjust="spacingAndGlyphs" font-family="Liberation Sans, sans-serif">2e+07</text><text x="225.60" y="390.50" text-anchor="middle" fill="#2a2a2a" font-size="16" textLength="43" lengthAdjust="spacingAndGlyphs" font-family="Liberation Sans, sans-serif">3e+07</text><text x="353.60" y="390.50" text-anchor="middle" fill="#2a2a2a" font-size="16" textLength="43" lengthAdjust="spacingAndGlyphs" font-family="Liberation Sans, sans-serif">4e+07</text><text x="481.60" y="390.50" text-anchor="middle" fill="#2a2a2a" font-size="16" textLength="43" lengthAdjust="spacingAndGlyphs" font-family="Liberation Sans, sans-serif">5e+07</text><text x="610.60" y="390.50" text-anchor="middle" fill="#2a2a2a" font-size="16" textLength="43" lengthAdjust="spacingAndGlyphs" font-family="Liberation Sans, sans-serif">6e+07</text><text x="354.00" y="415.20" text-anchor="middle" fill="#2a2a2a" font-size="16" textLength="109.2" lengthAdjust="spacingAndGlyphs" font-family="Liberation Sans, sans-serif">chromosome 18</text><text x="97.00" y="605.00" text-anchor="middle" fill="#2a2a2a" font-size="16" textLength="43" lengthAdjust="spacingAndGlyphs" font-family="Liberation Sans, sans-serif">2e+07</text><text x="225.60" y="605.00" text-anchor="middle" fill="#2a2a2a" font-size="16" textLength="43" lengthAdjust="spacingAndGlyphs" font-family="Liberation Sans, sans-serif">3e+07</text><text x="353.60" y="605.00" text-anchor="middle" fill="#2a2a2a" font-size="16" textLength="43" lengthAdjust="spacingAndGlyphs" font-family="Liberation Sans, sans-serif">4e+07</text><text x="481.60" y="605.00" text-anchor="middle" fill="#2a2a2a" font-size="16" textLength="43" lengthAdjust="spacingAndGlyphs" font-family="Liberation Sans, sans-serif">5e+07</text><text x="610.60" y="605.00" text-anchor="middle" fill="#2a2a2a" font-size="16" textLength="43" lengthAdjust="spacingAndGlyphs" font-family="Liberation Sans, sans-serif">6e+07</text><text x="354.00" y="629.40" text-anchor="middle" fill="#2a2a2a" font-size="16" textLength="109.2" lengthAdjust="spacingAndGlyphs" font-family="Liberation Sans, sans-serif">chromosome 18</text><text transform="translate(38.00,58.60) rotate(-90)" text-anchor="middle" fill="#2a2a2a" font-size="16" font-family="Liberation Sans, sans-serif">3</text><text transform="translate(38.00,80.50) rotate(-90)" text-anchor="middle" fill="#2a2a2a" font-size="16" font-family="Liberation Sans, sans-serif">2</text><text transform="translate(38.00,102.50) rotate(-90)" text-anchor="middle" fill="#2a2a2a" font-size="16" font-family="Liberation Sans, sans-serif">1</text><text transform="translate(38.00,145.40) rotate(-90)" text-anchor="middle" fill="#2a2a2a" font-size="16" textLength="12.8" lengthAdjust="spacingAndGlyphs" font-family="Liberation Sans, sans-serif">-1</text><text transform="translate(38.00,283.00) rotate(-90)" text-anchor="middle" fill="#2a2a2a" font-size="16" textLength="16.5" lengthAdjust="spacingAndGlyphs" font-family="Liberation Sans, sans-serif">18</text><text transform="translate(38.00,327.70) rotate(-90)" text-anchor="middle" fill="#2a2a2a" font-size="16" textLength="16.5" lengthAdjust="spacingAndGlyphs" font-family="Liberation Sans, sans-serif">12</text><text transform="translate(38.00,357.00) rotate(-90)" text-anchor="middle" fill="#2a2a2a" font-size="16" font-family="Liberation Sans, sans-serif">8</text><text transform="translate(38.00,483.30) rotate(-90)" text-anchor="middle" fill="#2a2a2a" font-size="16" textLength="19.3" lengthAdjust="spacingAndGlyphs" font-family="Liberation Sans, sans-serif">1.2</text><text transform="translate(38.00,530.30) rotate(-90)" text-anchor="middle" fill="#2a2a2a" font-size="16" textLength="19.3" lengthAdjust="spacingAndGlyphs" font-family="Liberation Sans, sans-serif">0.6</text><text transform="translate(38.00,577.40) rotate(-90)" text-anchor="middle" fill="#2a2a2a" font-size="16" textLength="19.3" lengthAdjust="spacingAndGlyphs" font-family="Liberation Sans, sans-serif">0.0</text><text x="354.90" y="32.60" text-anchor="middle" font-size="21" font-weight="bold" font-family="Liberation Sans, sans-serif">(a) Two samples</text><text x="354.00" y="248.80" text-anchor="middle" font-size="21" font-weight="bold" textLength="98.1" lengthAdjust="spacingAndGlyphs" font-family="Liberation Sans, sans-serif">(b) GISTIC</text><text x="355.00" y="463.00" text-anchor="middle" font-size="21" font-weight="bold" textLength="85" lengthAdjust="spacingAndGlyphs" font-family="Liberation Sans, sans-serif">(c) WIFA</text><text transform="translate(12.60,101.20) rotate(-90)" text-anchor="middle" fill="#2a2a2a" font-size="16" textLength="123.4" lengthAdjust="spacingAndGlyphs" font-family="Liberation Sans, sans-serif">log2 intensity ratio</text><text transform="translate(12.60,316.00) rotate(-90)" text-anchor="middle" fill="#2a2a2a" font-size="16" textLength="62" lengthAdjust="spacingAndGlyphs" font-family="Liberation Sans, sans-serif">G scores</text><text transform="translate(13.70,571.20) rotate(-90)" fill="#2a2a2a" font-size="16" textLength="7.5" lengthAdjust="spacingAndGlyphs" font-family="Liberation Sans, sans-serif">V</text><text transform="translate(13.70,563.60) rotate(-90)" fill="#2a2a2a" font-size="10.5" textLength="22" lengthAdjust="spacingAndGlyphs" font-family="Liberation Sans, sans-serif">HIGH</text><text transform="translate(8.50,561.60) rotate(-90)" fill="#2a2a2a" font-size="12" font-family="Liberation Sans, sans-serif">*</text><text transform="translate(11.00,531.50) rotate(-90)" fill="#2a2a2a" font-size="17" textLength="45.5" lengthAdjust="spacingAndGlyphs" font-family="Liberation Sans, sans-serif">values</text></g></svg></body></html>
